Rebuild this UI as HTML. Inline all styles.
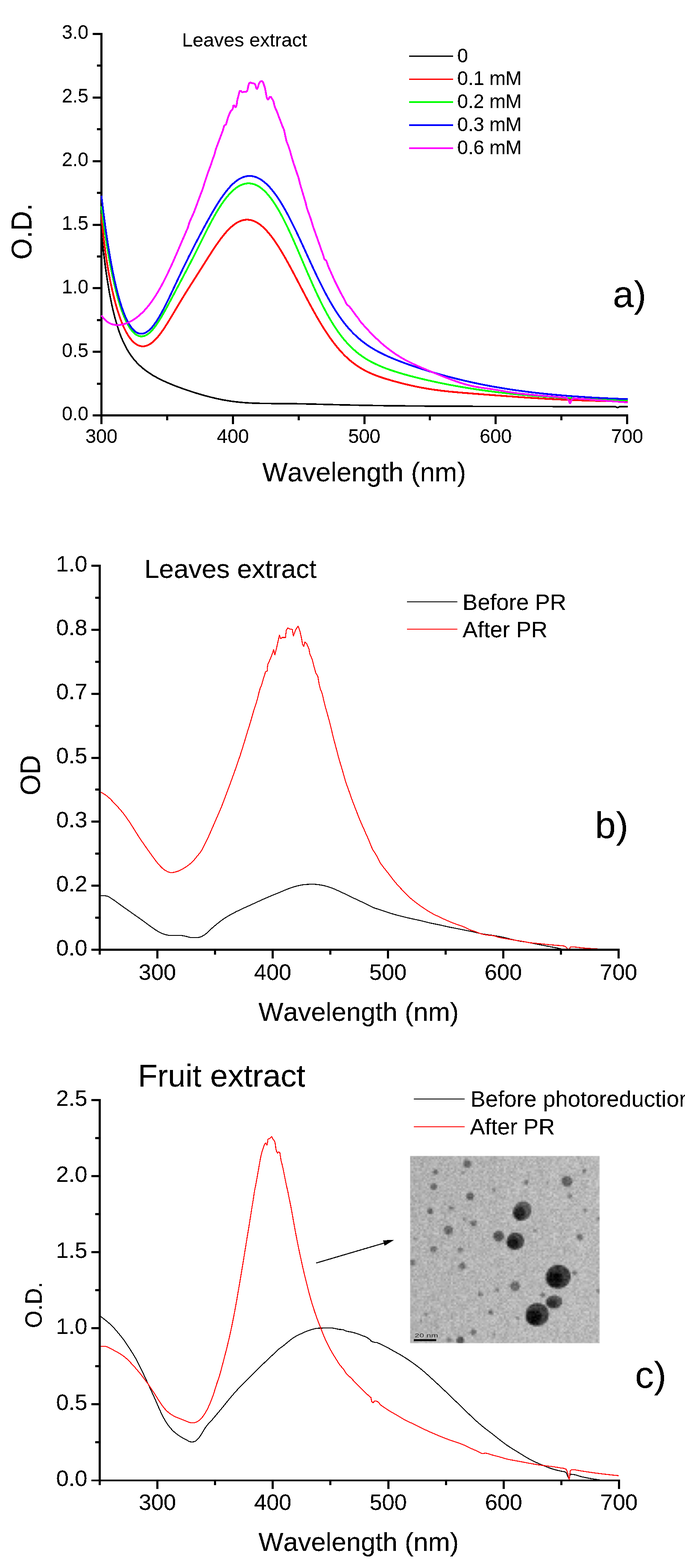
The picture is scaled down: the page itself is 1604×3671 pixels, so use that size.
<!DOCTYPE html>
<html lang="en">
<head>
<meta charset="utf-8">
<title>UV-Vis absorption spectra of silver nanoparticles</title>
<style>
html,body{margin:0;padding:0;background:#fff;}
body{width:1604px;height:3671px;}
svg{display:block;}
text{font-family:"Liberation Sans", Arial, Helvetica, sans-serif;fill:#000;font-kerning:none;font-variant-ligatures:none;}
.lbl{filter:url(#crisp);}
.axes rect{fill:#000;shape-rendering:crispEdges;}
.key{shape-rendering:crispEdges;}
.curves path{fill:none;stroke-linejoin:round;stroke-linecap:butt;shape-rendering:crispEdges;}
</style>
</head>
<body>
<svg width="1604" height="3671" viewBox="0 0 1604 3671">
<defs>
<filter id="crisp" filterUnits="objectBoundingBox" x="-0.05" y="-0.05" width="1.1" height="1.1" color-interpolation-filters="sRGB">
<feComponentTransfer><feFuncA type="discrete" tableValues="0 0 1 1 1"/></feComponentTransfer>
</filter>
</defs>
<rect width="1604" height="3671" fill="#fff"/>
<g id="panel-a">
<g class="axes"><rect x="235.00" y="77.00" width="5" height="898.00"/><rect x="235.00" y="970.00" width="1236.00" height="5"/><rect x="235.00" y="972.50" width="5" height="20.00"/><rect x="542.75" y="972.50" width="5" height="20.00"/><rect x="850.50" y="972.50" width="5" height="20.00"/><rect x="1158.25" y="972.50" width="5" height="20.00"/><rect x="1466.00" y="972.50" width="5" height="20.00"/><rect x="388.88" y="972.50" width="5" height="11.00"/><rect x="696.62" y="972.50" width="5" height="11.00"/><rect x="1004.38" y="972.50" width="5" height="11.00"/><rect x="1312.12" y="972.50" width="5" height="11.00"/><rect x="217.00" y="970.00" width="20.50" height="5.0"/><rect x="217.00" y="821.17" width="20.50" height="5.0"/><rect x="217.00" y="672.33" width="20.50" height="5.0"/><rect x="217.00" y="523.50" width="20.50" height="5.0"/><rect x="217.00" y="374.67" width="20.50" height="5.0"/><rect x="217.00" y="225.83" width="20.50" height="5.0"/><rect x="217.00" y="77.00" width="20.50" height="5.0"/><rect x="226.50" y="895.58" width="11.00" height="5"/><rect x="226.50" y="746.75" width="11.00" height="5"/><rect x="226.50" y="597.92" width="11.00" height="5"/><rect x="226.50" y="449.08" width="11.00" height="5"/><rect x="226.50" y="300.25" width="11.00" height="5"/><rect x="226.50" y="151.42" width="11.00" height="5"/></g>
<g class="curves">
<path d="M237.5,545.0 L239.0,559.5 L240.5,573.4 L242.0,586.6 L243.5,599.2 L245.0,611.2 L246.5,622.6 L248.0,633.5 L249.5,643.9 L251.0,653.9 L252.5,663.3 L254.0,672.4 L255.5,681.0 L257.0,689.3 L258.5,697.1 L260.0,704.7 L261.5,711.9 L263.0,718.8 L264.5,725.3 L266.0,731.6 L267.5,737.7 L269.0,743.4 L270.5,748.9 L272.0,754.2 L273.5,759.3 L275.0,764.1 L276.5,768.8 L277.9,773.2 L279.4,777.5 L280.9,781.6 L282.4,785.6 L283.9,789.4 L285.4,793.0 L286.9,796.5 L288.4,799.8 L289.9,803.1 L291.4,806.2 L292.9,809.2 L294.4,812.1 L295.9,814.9 L297.4,817.5 L298.9,820.1 L300.4,822.6 L301.9,825.0 L303.4,827.3 L304.9,829.6 L306.4,831.8 L307.9,833.9 L309.4,835.9 L310.9,837.9 L312.4,839.8 L313.9,841.6 L315.4,843.4 L316.9,845.1 L318.4,846.8 L319.9,848.5 L321.4,850.0 L322.9,851.6 L324.4,853.1 L325.9,854.5 L327.4,856.0 L328.9,857.3 L330.4,858.7 L331.9,860.0 L333.4,861.3 L334.9,862.5 L336.4,863.8 L337.9,864.9 L339.4,866.1 L340.9,867.2 L342.4,868.4 L343.9,869.4 L345.4,870.5 L346.9,871.5 L348.4,872.6 L349.9,873.6 L351.4,874.5 L352.9,875.5 L354.4,876.4 L355.9,877.4 L357.4,878.3 L358.8,879.2 L360.3,880.1 L361.8,880.9 L363.3,881.8 L364.8,882.6 L366.3,883.4 L367.8,884.2 L369.3,885.0 L370.8,885.8 L372.3,886.6 L373.8,887.3 L375.3,888.1 L376.8,888.8 L378.3,889.6 L379.8,890.3 L381.3,891.0 L382.8,891.7 L384.3,892.4 L385.8,893.1 L387.3,893.8 L388.8,894.4 L390.3,895.1 L391.8,895.8 L393.3,896.4 L394.8,897.1 L396.3,897.7 L397.8,898.3 L399.3,898.9 L400.8,899.6 L402.3,900.2 L403.8,900.8 L405.3,901.4 L406.8,902.0 L408.3,902.6 L409.8,903.2 L411.3,903.7 L412.8,904.3 L414.3,904.9 L415.8,905.5 L417.3,906.0 L418.8,906.6 L420.3,907.1 L421.8,907.7 L423.3,908.2 L424.8,908.8 L426.3,909.3 L427.8,909.8 L429.3,910.4 L430.8,910.9 L432.3,911.4 L433.8,911.9 L435.3,912.5 L436.8,913.0 L438.2,913.5 L439.7,914.0 L441.2,914.5 L442.7,915.0 L444.2,915.5 L445.7,916.0 L447.2,916.5 L448.7,917.0 L450.2,917.4 L451.7,917.9 L453.2,918.4 L454.7,918.9 L456.2,919.3 L457.7,919.8 L459.2,920.3 L460.7,920.7 L462.2,921.2 L463.7,921.6 L465.2,922.1 L466.7,922.5 L468.2,923.0 L469.7,923.4 L471.2,923.9 L472.7,924.3 L474.2,924.7 L475.7,925.1 L477.2,925.6 L478.7,926.0 L480.2,926.4 L481.7,926.8 L483.2,927.2 L484.7,927.6 L486.2,928.0 L487.7,928.4 L489.2,928.8 L490.7,929.2 L492.2,929.5 L493.7,929.9 L495.2,930.3 L496.7,930.7 L498.2,931.0 L499.7,931.4 L501.2,931.7 L502.7,932.1 L504.2,932.4 L505.7,932.8 L507.2,933.1 L508.7,933.4 L510.2,933.7 L511.7,934.1 L513.2,934.4 L514.7,934.7 L516.2,935.0 L517.7,935.3 L519.1,935.6 L520.6,935.9 L522.1,936.2 L523.6,936.4 L525.1,936.7 L526.6,937.0 L528.1,937.2 L529.6,937.5 L531.1,937.7 L532.6,938.0 L534.1,938.2 L535.6,938.5 L537.1,938.7 L538.6,938.9 L540.1,939.2 L541.6,939.4 L543.1,939.6 L544.6,939.8 L546.1,940.0 L547.6,940.2 L549.1,940.4 L550.6,940.5 L552.1,940.7 L553.6,940.9 L555.1,941.1 L556.6,941.2 L558.1,941.4 L559.6,941.5 L561.1,941.7 L562.6,941.8 L564.1,942.0 L565.6,942.1 L567.1,942.2 L568.6,942.4 L570.1,942.5 L571.6,942.6 L573.1,942.7 L574.6,942.8 L576.1,942.9 L577.6,943.0 L579.1,943.1 L580.6,943.2 L582.1,943.3 L583.6,943.4 L585.1,943.5 L586.6,943.5 L588.1,943.6 L589.6,943.7 L591.1,943.7 L592.6,943.8 L594.1,943.9 L595.6,943.9 L597.1,944.0 L598.5,944.0 L600.0,944.1 L601.5,944.1 L603.0,944.2 L604.5,944.2 L606.0,944.2 L607.5,944.3 L609.0,944.3 L610.5,944.3 L612.0,944.4 L613.5,944.4 L615.0,944.4 L616.5,944.4 L618.0,944.5 L619.5,944.5 L621.0,944.5 L622.5,944.5 L624.0,944.6 L625.5,944.6 L627.0,944.6 L628.5,944.6 L630.0,944.6 L631.5,944.6 L633.0,944.6 L634.5,944.7 L636.0,944.7 L637.5,944.7 L639.0,944.7 L640.5,944.7 L642.0,944.7 L643.5,944.7 L645.0,944.7 L646.5,944.7 L648.0,944.7 L649.5,944.8 L651.0,944.8 L652.5,944.8 L654.0,944.8 L655.5,944.8 L657.0,944.8 L658.5,944.8 L660.0,944.8 L661.5,944.8 L663.0,944.8 L664.5,944.9 L666.0,944.9 L667.5,944.9 L669.0,944.9 L670.5,944.9 L672.0,944.9 L673.5,944.9 L675.0,945.0 L676.5,945.0 L678.0,945.0 L679.4,945.0 L680.9,945.0 L682.4,945.1 L683.9,945.1 L685.4,945.1 L686.9,945.1 L688.4,945.1 L689.9,945.2 L691.4,945.2 L692.9,945.2 L694.4,945.2 L695.9,945.3 L697.4,945.3 L698.9,945.3 L700.4,945.3 L701.9,945.4 L703.4,945.4 L704.9,945.4 L706.4,945.4 L707.9,945.5 L709.4,945.5 L710.9,945.5 L712.4,945.6 L713.9,945.6 L715.4,945.6 L716.9,945.7 L718.4,945.7 L719.9,945.7 L721.4,945.8 L722.9,945.8 L724.4,945.8 L725.9,945.9 L727.4,945.9 L728.9,946.0 L730.4,946.0 L731.9,946.0 L733.4,946.1 L734.9,946.1 L736.4,946.1 L737.9,946.2 L739.4,946.2 L740.9,946.3 L742.4,946.3 L743.9,946.3 L745.4,946.4 L746.9,946.4 L748.4,946.4 L749.9,946.5 L751.4,946.5 L752.9,946.6 L754.4,946.6 L755.9,946.6 L757.4,946.7 L758.8,946.7 L760.3,946.8 L761.8,946.8 L763.3,946.8 L764.8,946.9 L766.3,946.9 L767.8,947.0 L769.3,947.0 L770.8,947.0 L772.3,947.1 L773.8,947.1 L775.3,947.2 L776.8,947.2 L778.3,947.2 L779.8,947.3 L781.3,947.3 L782.8,947.4 L784.3,947.4 L785.8,947.4 L787.3,947.5 L788.8,947.5 L790.3,947.6 L791.8,947.6 L793.3,947.6 L794.8,947.7 L796.3,947.7 L797.8,947.7 L799.3,947.8 L800.8,947.8 L802.3,947.8 L803.8,947.9 L805.3,947.9 L806.8,948.0 L808.3,948.0 L809.8,948.0 L811.3,948.1 L812.8,948.1 L814.3,948.1 L815.8,948.2 L817.3,948.2 L818.8,948.2 L820.3,948.3 L821.8,948.3 L823.3,948.3 L824.8,948.4 L826.3,948.4 L827.8,948.4 L829.3,948.5 L830.8,948.5 L832.3,948.5 L833.8,948.6 L835.3,948.6 L836.8,948.6 L838.2,948.6 L839.7,948.7 L841.2,948.7 L842.7,948.7 L844.2,948.8 L845.7,948.8 L847.2,948.8 L848.7,948.8 L850.2,948.9 L851.7,948.9 L853.2,948.9 L854.7,949.0 L856.2,949.0 L857.7,949.0 L859.2,949.0 L860.7,949.1 L862.2,949.1 L863.7,949.1 L865.2,949.1 L866.7,949.2 L868.2,949.2 L869.7,949.2 L871.2,949.2 L872.7,949.3 L874.2,949.3 L875.7,949.3 L877.2,949.3 L878.7,949.4 L880.2,949.4 L881.7,949.4 L883.2,949.4 L884.7,949.5 L886.2,949.5 L887.7,949.5 L889.2,949.5 L890.7,949.5 L892.2,949.6 L893.7,949.6 L895.2,949.6 L896.7,949.6 L898.2,949.7 L899.7,949.7 L901.2,949.7 L902.7,949.7 L904.2,949.7 L905.7,949.8 L907.2,949.8 L908.7,949.8 L910.2,949.8 L911.7,949.8 L913.2,949.9 L914.7,949.9 L916.2,949.9 L917.7,949.9 L919.1,949.9 L920.6,949.9 L922.1,950.0 L923.6,950.0 L925.1,950.0 L926.6,950.0 L928.1,950.0 L929.6,950.1 L931.1,950.1 L932.6,950.1 L934.1,950.1 L935.6,950.1 L937.1,950.1 L938.6,950.2 L940.1,950.2 L941.6,950.2 L943.1,950.2 L944.6,950.2 L946.1,950.2 L947.6,950.2 L949.1,950.3 L950.6,950.3 L952.1,950.3 L953.6,950.3 L955.1,950.3 L956.6,950.3 L958.1,950.3 L959.6,950.4 L961.1,950.4 L962.6,950.4 L964.1,950.4 L965.6,950.4 L967.1,950.4 L968.6,950.4 L970.1,950.5 L971.6,950.5 L973.1,950.5 L974.6,950.5 L976.1,950.5 L977.6,950.5 L979.1,950.5 L980.6,950.5 L982.1,950.6 L983.6,950.6 L985.1,950.6 L986.6,950.6 L988.1,950.6 L989.6,950.6 L991.1,950.6 L992.6,950.6 L994.1,950.7 L995.6,950.7 L997.1,950.7 L998.5,950.7 L1000.0,950.7 L1001.5,950.7 L1003.0,950.7 L1004.5,950.7 L1006.0,950.7 L1007.5,950.7 L1009.0,950.8 L1010.5,950.8 L1012.0,950.8 L1013.5,950.8 L1015.0,950.8 L1016.5,950.8 L1018.0,950.8 L1019.5,950.8 L1021.0,950.8 L1022.5,950.8 L1024.0,950.9 L1025.5,950.9 L1027.0,950.9 L1028.5,950.9 L1030.0,950.9 L1031.5,950.9 L1033.0,950.9 L1034.5,950.9 L1036.0,950.9 L1037.5,950.9 L1039.0,950.9 L1040.5,951.0 L1042.0,951.0 L1043.5,951.0 L1045.0,951.0 L1046.5,951.0 L1048.0,951.0 L1049.5,951.0 L1051.0,951.0 L1052.5,951.0 L1054.0,951.0 L1055.5,951.0 L1057.0,951.0 L1058.5,951.0 L1060.0,951.1 L1061.5,951.1 L1063.0,951.1 L1064.5,951.1 L1066.0,951.1 L1067.5,951.1 L1069.0,951.1 L1070.5,951.1 L1072.0,951.1 L1073.5,951.1 L1075.0,951.1 L1076.5,951.1 L1078.0,951.1 L1079.4,951.1 L1080.9,951.2 L1082.4,951.2 L1083.9,951.2 L1085.4,951.2 L1086.9,951.2 L1088.4,951.2 L1089.9,951.2 L1091.4,951.2 L1092.9,951.2 L1094.4,951.2 L1095.9,951.2 L1097.4,951.2 L1098.9,951.2 L1100.4,951.2 L1101.9,951.2 L1103.4,951.2 L1104.9,951.2 L1106.4,951.3 L1107.9,951.3 L1109.4,951.3 L1110.9,951.3 L1112.4,951.3 L1113.9,951.3 L1115.4,951.3 L1116.9,951.3 L1118.4,951.3 L1119.9,951.3 L1121.4,951.3 L1122.9,951.3 L1124.4,951.3 L1125.9,951.3 L1127.4,951.3 L1128.9,951.3 L1130.4,951.3 L1131.9,951.3 L1133.4,951.3 L1134.9,951.3 L1136.4,951.4 L1137.9,951.4 L1139.4,951.4 L1140.9,951.4 L1142.4,951.4 L1143.9,951.4 L1145.4,951.4 L1146.9,951.4 L1148.4,951.4 L1149.9,951.4 L1151.4,951.4 L1152.9,951.4 L1154.4,951.4 L1155.9,951.4 L1157.4,951.4 L1158.8,951.4 L1160.3,951.4 L1161.8,951.4 L1163.3,951.4 L1164.8,951.4 L1166.3,951.4 L1167.8,951.4 L1169.3,951.4 L1170.8,951.4 L1172.3,951.4 L1173.8,951.5 L1175.3,951.5 L1176.8,951.5 L1178.3,951.5 L1179.8,951.5 L1181.3,951.5 L1182.8,951.5 L1184.3,951.5 L1185.8,951.5 L1187.3,951.5 L1188.8,951.5 L1190.3,951.5 L1191.8,951.5 L1193.3,951.5 L1194.8,951.5 L1196.3,951.5 L1197.8,951.5 L1199.3,951.5 L1200.8,951.5 L1202.3,951.5 L1203.8,951.5 L1205.3,951.5 L1206.8,951.5 L1208.3,951.5 L1209.8,951.5 L1211.3,951.5 L1212.8,951.5 L1214.3,951.5 L1215.8,951.5 L1217.3,951.5 L1218.8,951.5 L1220.3,951.5 L1221.8,951.6 L1223.3,951.6 L1224.8,951.6 L1226.3,951.6 L1227.8,951.6 L1229.3,951.6 L1230.8,951.6 L1232.3,951.6 L1233.8,951.6 L1235.3,951.6 L1236.8,951.6 L1238.3,951.6 L1239.7,951.6 L1241.2,951.6 L1242.7,951.6 L1244.2,951.6 L1245.7,951.6 L1247.2,951.6 L1248.7,951.6 L1250.2,951.6 L1251.7,951.6 L1253.2,951.6 L1254.7,951.6 L1256.2,951.6 L1257.7,951.6 L1259.2,951.6 L1260.7,951.6 L1262.2,951.6 L1263.7,951.6 L1265.2,951.6 L1266.7,951.6 L1268.2,951.6 L1269.7,951.6 L1271.2,951.6 L1272.7,951.6 L1274.2,951.6 L1275.7,951.6 L1277.2,951.6 L1278.7,951.6 L1280.2,951.6 L1281.7,951.6 L1283.2,951.6 L1284.7,951.6 L1286.2,951.6 L1287.7,951.6 L1289.2,951.6 L1290.7,951.6 L1292.2,951.6 L1293.7,951.7 L1295.2,951.7 L1296.7,951.7 L1298.2,951.7 L1299.7,951.7 L1301.2,951.7 L1302.7,951.7 L1304.2,951.7 L1305.7,951.7 L1307.2,951.7 L1308.7,951.7 L1310.2,951.7 L1311.7,951.7 L1313.2,951.7 L1314.7,951.7 L1316.2,951.7 L1317.7,951.7 L1319.1,951.7 L1320.6,951.7 L1322.1,951.7 L1323.6,951.7 L1325.1,951.7 L1326.6,951.7 L1328.1,951.7 L1329.6,951.7 L1331.1,951.7 L1332.6,951.7 L1334.1,951.7 L1335.6,951.7 L1337.1,951.7 L1338.6,951.7 L1340.1,951.7 L1341.6,951.7 L1343.1,951.7 L1344.6,951.7 L1346.1,951.7 L1347.6,951.7 L1349.1,951.7 L1350.6,951.7 L1352.1,951.7 L1353.6,951.7 L1355.1,951.7 L1356.6,951.7 L1358.1,951.7 L1359.6,951.7 L1361.1,951.7 L1362.6,951.7 L1364.1,951.7 L1365.6,951.7 L1367.1,951.7 L1368.6,951.7 L1370.1,951.7 L1371.6,951.7 L1373.1,951.7 L1374.6,951.7 L1376.1,951.7 L1377.6,951.7 L1379.1,951.7 L1380.6,951.7 L1382.1,951.7 L1383.6,951.7 L1385.1,951.7 L1386.6,951.7 L1388.1,951.7 L1389.6,951.7 L1391.1,951.7 L1392.6,951.7 L1394.1,951.7 L1395.6,951.7 L1397.1,951.7 L1398.6,951.7 L1400.0,951.7 L1401.5,951.7 L1403.0,951.7 L1404.5,951.7 L1406.0,951.7 L1407.5,951.7 L1409.0,951.7 L1410.5,951.7 L1412.0,951.7 L1413.5,951.7 L1415.0,951.7 L1416.5,951.7 L1418.0,951.7 L1419.5,951.7 L1421.0,951.7 L1422.5,951.7 L1424.0,951.7 L1425.5,951.7 L1427.0,951.7 L1428.5,951.7 L1430.0,951.7 L1431.5,951.8 L1433.0,951.8 L1434.5,951.8 L1436.0,951.8 L1437.5,951.8 L1439.0,951.8 L1439.7,951.8 L1440.0,951.8 L1440.4,951.9 L1441.1,952.0 L1441.8,952.3 L1442.5,952.7 L1443.2,953.1 L1443.9,953.4 L1444.6,953.7 L1445.3,953.9 L1446.0,954.0 L1446.7,953.9 L1447.4,953.7 L1448.1,953.4 L1448.8,953.1 L1449.5,952.7 L1450.2,952.3 L1450.9,952.0 L1451.6,951.8 L1452.0,951.8 L1452.3,951.8 L1453.0,951.8 L1453.0,951.8 L1454.4,951.8 L1455.8,951.8 L1457.2,951.8 L1458.7,951.8 L1460.1,951.8 L1461.5,951.8 L1462.9,951.8 L1464.3,951.8 L1465.8,951.8 L1467.2,951.8 L1468.6,951.8 L1470.0,951.8" stroke="#000" stroke-width="3.6"/>
<path d="M237.5,501.0 L239.0,519.2 L240.5,535.5 L242.0,550.2 L243.5,563.6 L245.0,576.0 L246.5,587.5 L248.0,598.2 L249.5,608.3 L251.0,617.9 L252.5,627.0 L254.0,635.6 L255.5,643.8 L257.0,651.7 L258.5,659.3 L260.0,666.6 L261.5,673.6 L263.0,680.3 L264.5,686.8 L266.0,693.0 L267.5,699.0 L269.0,704.8 L270.5,710.4 L272.0,715.8 L273.5,720.9 L275.0,725.9 L276.5,730.7 L278.0,735.3 L279.5,739.8 L281.0,744.1 L282.5,748.2 L284.0,752.1 L285.5,755.9 L287.0,759.6 L288.5,763.0 L290.0,766.4 L291.5,769.6 L293.0,772.6 L294.5,775.5 L296.0,778.3 L297.5,781.0 L299.0,783.5 L300.5,785.9 L302.0,788.2 L303.5,790.3 L305.0,792.4 L306.5,794.3 L308.0,796.1 L309.5,797.8 L311.0,799.3 L312.5,800.8 L314.0,802.2 L315.5,803.4 L317.0,804.6 L318.5,805.6 L320.0,806.6 L321.5,807.4 L323.0,808.2 L324.5,808.9 L326.0,809.4 L327.5,809.9 L329.0,810.3 L330.5,810.5 L332.0,810.7 L333.5,810.8 L335.0,810.8 L336.5,810.8 L338.0,810.6 L339.5,810.3 L341.0,810.0 L342.5,809.6 L344.0,809.1 L345.5,808.5 L347.0,807.8 L348.5,807.1 L350.0,806.3 L351.5,805.3 L353.0,804.4 L354.5,803.3 L356.0,802.2 L357.5,801.0 L359.0,799.7 L360.5,798.3 L361.9,796.9 L363.4,795.4 L364.9,793.9 L366.4,792.3 L367.9,790.6 L369.4,788.8 L370.9,787.0 L372.4,785.2 L373.9,783.3 L375.4,781.3 L376.9,779.3 L378.4,777.2 L379.9,775.1 L381.4,773.0 L382.9,770.8 L384.4,768.5 L385.9,766.3 L387.4,763.9 L388.9,761.6 L390.4,759.2 L391.9,756.9 L393.4,754.4 L394.9,752.0 L396.4,749.5 L397.9,747.1 L399.4,744.6 L400.9,742.1 L402.4,739.6 L403.9,737.0 L405.4,734.5 L406.9,732.0 L408.4,729.5 L409.9,726.9 L411.4,724.4 L412.9,721.9 L414.4,719.3 L415.9,716.8 L417.4,714.3 L418.9,711.8 L420.4,709.3 L421.9,706.8 L423.4,704.3 L424.9,701.8 L426.4,699.4 L427.9,696.9 L429.4,694.5 L430.9,692.0 L432.4,689.6 L433.9,687.2 L435.4,684.8 L436.9,682.4 L438.4,680.0 L439.9,677.6 L441.4,675.2 L442.9,672.8 L444.4,670.5 L445.9,668.1 L447.4,665.8 L448.9,663.4 L450.4,661.1 L451.9,658.7 L453.4,656.4 L454.9,654.0 L456.4,651.7 L457.9,649.3 L459.4,647.0 L460.9,644.6 L462.4,642.3 L463.9,639.9 L465.4,637.6 L466.9,635.2 L468.4,632.8 L469.9,630.5 L471.4,628.1 L472.9,625.7 L474.4,623.4 L475.9,621.0 L477.4,618.6 L478.9,616.3 L480.4,613.9 L481.9,611.5 L483.4,609.2 L484.9,606.8 L486.4,604.4 L487.9,602.1 L489.4,599.7 L490.9,597.4 L492.4,595.0 L493.9,592.7 L495.4,590.4 L496.9,588.1 L498.4,585.8 L499.9,583.5 L501.4,581.3 L502.9,579.0 L504.4,576.8 L505.9,574.6 L507.4,572.4 L508.9,570.3 L510.4,568.1 L511.9,566.0 L513.4,563.9 L514.9,561.9 L516.4,559.8 L517.9,557.8 L519.4,555.9 L520.9,554.0 L522.4,552.1 L523.9,550.2 L525.4,548.4 L526.9,546.6 L528.4,544.8 L529.9,543.1 L531.4,541.5 L532.9,539.8 L534.4,538.3 L535.9,536.7 L537.4,535.2 L538.9,533.8 L540.4,532.4 L541.9,531.0 L543.4,529.7 L544.9,528.5 L546.4,527.3 L547.9,526.1 L549.4,525.0 L550.9,524.0 L552.4,523.0 L553.9,522.0 L555.4,521.1 L556.9,520.3 L558.4,519.5 L559.9,518.8 L561.4,518.1 L562.9,517.5 L564.4,516.9 L565.9,516.4 L567.4,515.9 L568.9,515.5 L570.4,515.2 L571.9,514.9 L573.4,514.7 L574.9,514.5 L576.4,514.4 L577.9,514.3 L579.4,514.3 L580.9,514.4 L582.4,514.5 L583.9,514.7 L585.4,514.9 L586.9,515.2 L588.4,515.5 L589.9,516.0 L591.4,516.4 L592.9,516.9 L594.4,517.5 L595.9,518.1 L597.4,518.8 L598.9,519.5 L600.4,520.3 L601.9,521.2 L603.4,522.1 L604.9,523.0 L606.4,524.0 L607.8,525.1 L609.3,526.2 L610.8,527.4 L612.3,528.6 L613.8,529.8 L615.3,531.2 L616.8,532.5 L618.3,534.0 L619.8,535.4 L621.3,536.9 L622.8,538.5 L624.3,540.1 L625.8,541.8 L627.3,543.5 L628.8,545.2 L630.3,547.0 L631.8,548.8 L633.3,550.7 L634.8,552.6 L636.3,554.6 L637.8,556.6 L639.3,558.6 L640.8,560.7 L642.3,562.8 L643.8,565.0 L645.3,567.1 L646.8,569.4 L648.3,571.6 L649.8,573.9 L651.3,576.2 L652.8,578.6 L654.3,581.0 L655.8,583.4 L657.3,585.9 L658.8,588.3 L660.3,590.8 L661.8,593.4 L663.3,595.9 L664.8,598.5 L666.3,601.1 L667.8,603.7 L669.3,606.4 L670.8,609.0 L672.3,611.7 L673.8,614.4 L675.3,617.1 L676.8,619.9 L678.3,622.6 L679.8,625.4 L681.3,628.2 L682.8,631.0 L684.3,633.8 L685.8,636.6 L687.3,639.4 L688.8,642.3 L690.3,645.1 L691.8,648.0 L693.3,650.8 L694.8,653.7 L696.3,656.6 L697.8,659.5 L699.3,662.3 L700.8,665.2 L702.3,668.1 L703.8,671.0 L705.3,673.9 L706.8,676.7 L708.3,679.6 L709.8,682.5 L711.3,685.3 L712.8,688.2 L714.3,691.1 L715.8,693.9 L717.3,696.8 L718.8,699.6 L720.3,702.4 L721.8,705.2 L723.3,708.0 L724.8,710.8 L726.3,713.6 L727.8,716.4 L729.3,719.2 L730.8,721.9 L732.3,724.6 L733.8,727.3 L735.3,730.0 L736.8,732.7 L738.3,735.4 L739.8,738.0 L741.3,740.7 L742.8,743.3 L744.3,745.9 L745.8,748.4 L747.3,751.0 L748.8,753.5 L750.3,756.0 L751.8,758.5 L753.3,761.0 L754.8,763.4 L756.3,765.8 L757.8,768.2 L759.3,770.6 L760.8,772.9 L762.3,775.2 L763.8,777.5 L765.3,779.8 L766.8,782.1 L768.3,784.3 L769.8,786.5 L771.3,788.6 L772.8,790.8 L774.3,792.9 L775.8,795.0 L777.3,797.0 L778.8,799.1 L780.3,801.1 L781.8,803.0 L783.3,805.0 L784.8,806.9 L786.3,808.8 L787.8,810.7 L789.3,812.5 L790.8,814.3 L792.3,816.1 L793.8,817.8 L795.3,819.6 L796.8,821.3 L798.3,822.9 L799.8,824.6 L801.3,826.2 L802.8,827.8 L804.3,829.3 L805.8,830.9 L807.3,832.4 L808.8,833.9 L810.3,835.3 L811.8,836.7 L813.3,838.1 L814.8,839.5 L816.3,840.9 L817.8,842.2 L819.3,843.5 L820.8,844.7 L822.3,846.0 L823.8,847.2 L825.3,848.4 L826.8,849.6 L828.3,850.7 L829.8,851.8 L831.3,853.0 L832.8,854.0 L834.3,855.1 L835.8,856.1 L837.3,857.1 L838.8,858.1 L840.3,859.1 L841.8,860.1 L843.3,861.0 L844.8,861.9 L846.3,862.8 L847.8,863.7 L849.3,864.5 L850.8,865.4 L852.3,866.2 L853.8,867.0 L855.2,867.8 L856.7,868.6 L858.2,869.3 L859.7,870.1 L861.2,870.8 L862.7,871.5 L864.2,872.2 L865.7,872.9 L867.2,873.6 L868.7,874.3 L870.2,874.9 L871.7,875.5 L873.2,876.2 L874.7,876.8 L876.2,877.4 L877.7,878.0 L879.2,878.6 L880.7,879.1 L882.2,879.7 L883.7,880.3 L885.2,880.8 L886.7,881.4 L888.2,881.9 L889.7,882.4 L891.2,882.9 L892.7,883.4 L894.2,883.9 L895.7,884.4 L897.2,884.9 L898.7,885.4 L900.2,885.9 L901.7,886.4 L903.2,886.8 L904.7,887.3 L906.2,887.7 L907.7,888.2 L909.2,888.6 L910.7,889.1 L912.2,889.5 L913.7,890.0 L915.2,890.4 L916.7,890.8 L918.2,891.3 L919.7,891.7 L921.2,892.1 L922.7,892.5 L924.2,892.9 L925.7,893.3 L927.2,893.7 L928.7,894.1 L930.2,894.5 L931.7,894.9 L933.2,895.3 L934.7,895.7 L936.2,896.1 L937.7,896.5 L939.2,896.9 L940.7,897.3 L942.2,897.6 L943.7,898.0 L945.2,898.4 L946.7,898.8 L948.2,899.1 L949.7,899.5 L951.2,899.8 L952.7,900.2 L954.2,900.6 L955.7,900.9 L957.2,901.3 L958.7,901.6 L960.2,901.9 L961.7,902.3 L963.2,902.6 L964.7,903.0 L966.2,903.3 L967.7,903.6 L969.2,903.9 L970.7,904.3 L972.2,904.6 L973.7,904.9 L975.2,905.2 L976.7,905.5 L978.2,905.8 L979.7,906.1 L981.2,906.4 L982.7,906.7 L984.2,907.0 L985.7,907.3 L987.2,907.6 L988.7,907.9 L990.2,908.1 L991.7,908.4 L993.2,908.7 L994.7,908.9 L996.2,909.2 L997.7,909.5 L999.2,909.7 L1000.7,910.0 L1002.2,910.2 L1003.7,910.5 L1005.2,910.7 L1006.7,910.9 L1008.2,911.2 L1009.7,911.4 L1011.2,911.6 L1012.7,911.9 L1014.2,912.1 L1015.7,912.3 L1017.2,912.5 L1018.7,912.7 L1020.2,912.9 L1021.7,913.1 L1023.2,913.3 L1024.7,913.5 L1026.2,913.7 L1027.7,913.9 L1029.2,914.1 L1030.7,914.3 L1032.2,914.5 L1033.7,914.7 L1035.2,914.8 L1036.7,915.0 L1038.2,915.2 L1039.7,915.4 L1041.2,915.5 L1042.7,915.7 L1044.2,915.9 L1045.7,916.0 L1047.2,916.2 L1048.7,916.3 L1050.2,916.5 L1051.7,916.7 L1053.2,916.8 L1054.7,917.0 L1056.2,917.1 L1057.7,917.3 L1059.2,917.4 L1060.7,917.5 L1062.2,917.7 L1063.7,917.8 L1065.2,918.0 L1066.7,918.1 L1068.2,918.2 L1069.7,918.4 L1071.2,918.5 L1072.7,918.6 L1074.2,918.8 L1075.7,918.9 L1077.2,919.0 L1078.7,919.2 L1080.2,919.3 L1081.7,919.4 L1083.2,919.5 L1084.7,919.7 L1086.2,919.8 L1087.7,919.9 L1089.2,920.0 L1090.7,920.2 L1092.2,920.3 L1093.7,920.4 L1095.2,920.5 L1096.7,920.6 L1098.2,920.8 L1099.7,920.9 L1101.1,921.0 L1102.6,921.1 L1104.1,921.2 L1105.6,921.4 L1107.1,921.5 L1108.6,921.6 L1110.1,921.7 L1111.6,921.8 L1113.1,922.0 L1114.6,922.1 L1116.1,922.2 L1117.6,922.3 L1119.1,922.4 L1120.6,922.5 L1122.1,922.6 L1123.6,922.8 L1125.1,922.9 L1126.6,923.0 L1128.1,923.1 L1129.6,923.2 L1131.1,923.3 L1132.6,923.5 L1134.1,923.6 L1135.6,923.7 L1137.1,923.8 L1138.6,923.9 L1140.1,924.0 L1141.6,924.1 L1143.1,924.3 L1144.6,924.4 L1146.1,924.5 L1147.6,924.6 L1149.1,924.7 L1150.6,924.8 L1152.1,924.9 L1153.6,925.1 L1155.1,925.2 L1156.6,925.3 L1158.1,925.4 L1159.6,925.5 L1161.1,925.6 L1162.6,925.7 L1164.1,925.8 L1165.6,926.0 L1167.1,926.1 L1168.6,926.2 L1170.1,926.3 L1171.6,926.4 L1173.1,926.5 L1174.6,926.6 L1176.1,926.7 L1177.6,926.9 L1179.1,927.0 L1180.6,927.1 L1182.1,927.2 L1183.6,927.3 L1185.1,927.4 L1186.6,927.5 L1188.1,927.6 L1189.6,927.7 L1191.1,927.9 L1192.6,928.0 L1194.1,928.1 L1195.6,928.2 L1197.1,928.3 L1198.6,928.4 L1200.1,928.5 L1201.6,928.6 L1203.1,928.7 L1204.6,928.8 L1206.1,928.9 L1207.6,929.0 L1209.1,929.2 L1210.6,929.3 L1212.1,929.4 L1213.6,929.5 L1215.1,929.6 L1216.6,929.7 L1218.1,929.8 L1219.6,929.9 L1221.1,930.0 L1222.6,930.1 L1224.1,930.2 L1225.6,930.3 L1227.1,930.4 L1228.6,930.5 L1230.1,930.6 L1231.6,930.7 L1233.1,930.8 L1234.6,930.9 L1236.1,931.0 L1237.6,931.1 L1239.1,931.2 L1240.6,931.3 L1242.1,931.4 L1243.6,931.5 L1245.1,931.6 L1246.6,931.7 L1248.1,931.8 L1249.6,931.9 L1251.1,932.0 L1252.6,932.1 L1254.1,932.1 L1255.6,932.2 L1257.1,932.3 L1258.6,932.4 L1260.1,932.5 L1261.6,932.6 L1263.1,932.7 L1264.6,932.8 L1266.1,932.9 L1267.6,933.0 L1269.1,933.1 L1270.6,933.1 L1272.1,933.2 L1273.6,933.3 L1275.1,933.4 L1276.6,933.5 L1278.1,933.6 L1279.6,933.7 L1281.1,933.7 L1282.6,933.8 L1284.1,933.9 L1285.6,934.0 L1287.1,934.1 L1288.6,934.1 L1290.1,934.2 L1291.6,934.3 L1293.1,934.4 L1294.6,934.5 L1296.1,934.5 L1297.6,934.6 L1299.1,934.7 L1300.6,934.8 L1302.1,934.8 L1303.6,934.9 L1305.1,935.0 L1306.6,935.1 L1308.1,935.1 L1309.6,935.2 L1311.1,935.3 L1312.6,935.4 L1314.1,935.4 L1315.6,935.5 L1317.1,935.6 L1318.6,935.6 L1320.1,935.7 L1321.6,935.8 L1323.1,935.8 L1324.6,935.9 L1326.1,936.0 L1327.6,936.0 L1329.1,936.1 L1330.6,936.2 L1332.1,936.2 L1333.6,936.3 L1335.1,936.4 L1336.6,936.4 L1338.1,936.5 L1339.6,936.5 L1341.1,936.6 L1342.6,936.7 L1344.1,936.7 L1345.6,936.8 L1347.0,936.8 L1348.5,936.9 L1350.0,936.9 L1351.5,937.0 L1353.0,937.1 L1354.5,937.1 L1356.0,937.2 L1357.5,937.2 L1359.0,937.3 L1360.5,937.3 L1362.0,937.4 L1363.5,937.4 L1365.0,937.5 L1366.5,937.5 L1368.0,937.6 L1369.5,937.6 L1371.0,937.7 L1372.5,937.7 L1374.0,937.8 L1375.5,937.8 L1377.0,937.9 L1378.5,937.9 L1380.0,938.0 L1381.5,938.0 L1383.0,938.1 L1384.5,938.1 L1386.0,938.1 L1387.5,938.2 L1389.0,938.2 L1390.5,938.3 L1392.0,938.3 L1393.5,938.4 L1395.0,938.4 L1396.5,938.4 L1398.0,938.5 L1399.5,938.5 L1401.0,938.6 L1402.5,938.6 L1404.0,938.6 L1405.5,938.7 L1407.0,938.7 L1408.5,938.7 L1410.0,938.8 L1411.5,938.8 L1413.0,938.8 L1414.5,938.9 L1416.0,938.9 L1417.5,939.0 L1419.0,939.0 L1420.5,939.0 L1422.0,939.1 L1423.5,939.1 L1425.0,939.1 L1426.5,939.1 L1428.0,939.2 L1429.5,939.2 L1431.0,939.2 L1432.5,939.3 L1434.0,939.3 L1435.5,939.3 L1437.0,939.4 L1438.5,939.4 L1440.0,939.4 L1441.5,939.4 L1443.0,939.5 L1444.5,939.5 L1446.0,939.5 L1447.5,939.5 L1449.0,939.6 L1450.5,939.6 L1452.0,939.6 L1453.5,939.6 L1455.0,939.7 L1456.5,939.7 L1458.0,939.7 L1459.5,939.7 L1461.0,939.8 L1462.5,939.8 L1464.0,939.8 L1465.5,939.8 L1467.0,939.9 L1468.5,939.9 L1470.0,939.9" stroke="#f00" stroke-width="4.2"/>
<path d="M237.5,483.0 L239.0,494.8 L240.5,506.3 L242.0,517.4 L243.5,528.3 L245.0,538.8 L246.5,549.1 L248.0,559.0 L249.5,568.7 L251.0,578.1 L252.5,587.2 L254.0,596.0 L255.5,604.5 L257.0,612.8 L258.5,620.9 L260.0,628.7 L261.5,636.2 L263.0,643.6 L264.5,650.7 L266.0,657.5 L267.5,664.1 L269.0,670.6 L270.5,676.8 L272.0,682.8 L273.5,688.5 L275.0,694.1 L276.5,699.5 L278.0,704.7 L279.5,709.7 L281.0,714.5 L282.5,719.2 L284.0,723.6 L285.5,727.9 L287.0,732.0 L288.5,736.0 L290.0,739.8 L291.5,743.4 L293.0,746.8 L294.5,750.1 L296.0,753.3 L297.5,756.3 L299.0,759.1 L300.5,761.8 L302.0,764.4 L303.5,766.8 L305.0,769.0 L306.5,771.2 L308.0,773.1 L309.5,775.0 L311.0,776.7 L312.5,778.3 L314.0,779.8 L315.5,781.1 L317.0,782.3 L318.5,783.4 L320.0,784.3 L321.5,785.1 L323.0,785.8 L324.5,786.4 L326.0,786.9 L327.5,787.2 L329.0,787.5 L330.5,787.6 L332.0,787.6 L333.5,787.5 L335.0,787.3 L336.5,786.9 L338.0,786.5 L339.5,786.0 L341.0,785.3 L342.5,784.6 L344.0,783.7 L345.5,782.8 L347.0,781.7 L348.5,780.6 L350.0,779.3 L351.5,778.0 L353.0,776.6 L354.5,775.1 L356.0,773.5 L357.5,771.8 L359.0,770.0 L360.5,768.2 L361.9,766.3 L363.4,764.3 L364.9,762.3 L366.4,760.2 L367.9,758.0 L369.4,755.8 L370.9,753.5 L372.4,751.1 L373.9,748.7 L375.4,746.3 L376.9,743.8 L378.4,741.3 L379.9,738.7 L381.4,736.1 L382.9,733.5 L384.4,730.8 L385.9,728.2 L387.4,725.4 L388.9,722.7 L390.4,720.0 L391.9,717.2 L393.4,714.4 L394.9,711.6 L396.4,708.8 L397.9,706.0 L399.4,703.2 L400.9,700.4 L402.4,697.5 L403.9,694.7 L405.4,691.9 L406.9,689.1 L408.4,686.2 L409.9,683.4 L411.4,680.6 L412.9,677.7 L414.4,674.9 L415.9,672.1 L417.4,669.3 L418.9,666.5 L420.4,663.6 L421.9,660.8 L423.4,658.0 L424.9,655.2 L426.4,652.3 L427.9,649.5 L429.4,646.7 L430.9,643.9 L432.4,641.0 L433.9,638.2 L435.4,635.3 L436.9,632.5 L438.4,629.6 L439.9,626.8 L441.4,623.9 L442.9,621.0 L444.4,618.1 L445.9,615.2 L447.4,612.3 L448.9,609.4 L450.4,606.5 L451.9,603.5 L453.4,600.6 L454.9,597.6 L456.4,594.7 L457.9,591.7 L459.4,588.7 L460.9,585.7 L462.4,582.7 L463.9,579.7 L465.4,576.7 L466.9,573.7 L468.4,570.7 L469.9,567.7 L471.4,564.7 L472.9,561.7 L474.4,558.7 L475.9,555.7 L477.4,552.7 L478.9,549.7 L480.4,546.7 L481.9,543.8 L483.4,540.8 L484.9,537.9 L486.4,535.0 L487.9,532.0 L489.4,529.2 L490.9,526.3 L492.4,523.4 L493.9,520.6 L495.4,517.8 L496.9,515.0 L498.4,512.3 L499.9,509.6 L501.4,506.9 L502.9,504.2 L504.4,501.6 L505.9,499.0 L507.4,496.4 L508.9,493.9 L510.4,491.4 L511.9,489.0 L513.4,486.6 L514.9,484.2 L516.4,481.9 L517.9,479.6 L519.4,477.4 L520.9,475.2 L522.4,473.0 L523.9,470.9 L525.4,468.9 L526.9,466.9 L528.4,464.9 L529.9,463.0 L531.4,461.1 L532.9,459.3 L534.4,457.6 L535.9,455.8 L537.4,454.2 L538.9,452.6 L540.4,451.0 L541.9,449.5 L543.4,448.0 L544.9,446.6 L546.4,445.3 L547.9,444.0 L549.4,442.7 L550.9,441.6 L552.4,440.4 L553.9,439.3 L555.4,438.3 L556.9,437.3 L558.4,436.4 L559.9,435.5 L561.4,434.7 L562.9,434.0 L564.4,433.3 L565.9,432.6 L567.4,432.1 L568.9,431.5 L570.4,431.1 L571.9,430.6 L573.4,430.3 L574.9,430.0 L576.4,429.7 L577.9,429.5 L579.4,429.4 L580.9,429.3 L582.4,429.3 L583.9,429.3 L585.4,429.4 L586.9,429.6 L588.4,429.8 L589.9,430.1 L591.4,430.4 L592.9,430.8 L594.4,431.2 L595.9,431.7 L597.4,432.3 L598.9,432.9 L600.4,433.6 L601.9,434.3 L603.4,435.1 L604.9,435.9 L606.4,436.8 L607.8,437.8 L609.3,438.8 L610.8,439.9 L612.3,441.0 L613.8,442.2 L615.3,443.5 L616.8,444.8 L618.3,446.2 L619.8,447.6 L621.3,449.1 L622.8,450.6 L624.3,452.2 L625.8,453.9 L627.3,455.6 L628.8,457.3 L630.3,459.2 L631.8,461.0 L633.3,463.0 L634.8,464.9 L636.3,467.0 L637.8,469.1 L639.3,471.2 L640.8,473.4 L642.3,475.7 L643.8,477.9 L645.3,480.3 L646.8,482.7 L648.3,485.1 L649.8,487.6 L651.3,490.2 L652.8,492.7 L654.3,495.4 L655.8,498.0 L657.3,500.8 L658.8,503.5 L660.3,506.3 L661.8,509.2 L663.3,512.0 L664.8,515.0 L666.3,517.9 L667.8,520.9 L669.3,524.0 L670.8,527.0 L672.3,530.1 L673.8,533.3 L675.3,536.4 L676.8,539.6 L678.3,542.8 L679.8,546.1 L681.3,549.3 L682.8,552.6 L684.3,556.0 L685.8,559.3 L687.3,562.7 L688.8,566.0 L690.3,569.4 L691.8,572.9 L693.3,576.3 L694.8,579.7 L696.3,583.2 L697.8,586.7 L699.3,590.1 L700.8,593.6 L702.3,597.1 L703.8,600.6 L705.3,604.1 L706.8,607.6 L708.3,611.1 L709.8,614.6 L711.3,618.1 L712.8,621.6 L714.3,625.1 L715.8,628.6 L717.3,632.1 L718.8,635.6 L720.3,639.1 L721.8,642.5 L723.3,646.0 L724.8,649.4 L726.3,652.8 L727.8,656.2 L729.3,659.6 L730.8,663.0 L732.3,666.4 L733.8,669.7 L735.3,673.0 L736.8,676.3 L738.3,679.6 L739.8,682.9 L741.3,686.1 L742.8,689.3 L744.3,692.5 L745.8,695.6 L747.3,698.7 L748.8,701.8 L750.3,704.9 L751.8,707.9 L753.3,711.0 L754.8,713.9 L756.3,716.9 L757.8,719.8 L759.3,722.7 L760.8,725.5 L762.3,728.4 L763.8,731.1 L765.3,733.9 L766.8,736.6 L768.3,739.3 L769.8,741.9 L771.3,744.6 L772.8,747.1 L774.3,749.7 L775.8,752.2 L777.3,754.7 L778.8,757.1 L780.3,759.5 L781.8,761.9 L783.3,764.2 L784.8,766.5 L786.3,768.8 L787.8,771.0 L789.3,773.2 L790.8,775.3 L792.3,777.5 L793.8,779.5 L795.3,781.6 L796.8,783.6 L798.3,785.6 L799.8,787.5 L801.3,789.4 L802.8,791.3 L804.3,793.2 L805.8,795.0 L807.3,796.8 L808.8,798.5 L810.3,800.2 L811.8,801.9 L813.3,803.6 L814.8,805.2 L816.3,806.8 L817.8,808.3 L819.3,809.9 L820.8,811.4 L822.3,812.8 L823.8,814.3 L825.3,815.7 L826.8,817.1 L828.3,818.5 L829.8,819.8 L831.3,821.1 L832.8,822.4 L834.3,823.7 L835.8,824.9 L837.3,826.1 L838.8,827.3 L840.3,828.5 L841.8,829.6 L843.3,830.7 L844.8,831.8 L846.3,832.9 L847.8,834.0 L849.3,835.0 L850.8,836.0 L852.3,837.0 L853.8,838.0 L855.2,838.9 L856.7,839.9 L858.2,840.8 L859.7,841.7 L861.2,842.6 L862.7,843.5 L864.2,844.3 L865.7,845.2 L867.2,846.0 L868.7,846.8 L870.2,847.6 L871.7,848.4 L873.2,849.2 L874.7,849.9 L876.2,850.7 L877.7,851.4 L879.2,852.1 L880.7,852.8 L882.2,853.5 L883.7,854.2 L885.2,854.9 L886.7,855.6 L888.2,856.2 L889.7,856.9 L891.2,857.5 L892.7,858.1 L894.2,858.8 L895.7,859.4 L897.2,860.0 L898.7,860.6 L900.2,861.1 L901.7,861.7 L903.2,862.3 L904.7,862.8 L906.2,863.4 L907.7,863.9 L909.2,864.5 L910.7,865.0 L912.2,865.6 L913.7,866.1 L915.2,866.6 L916.7,867.1 L918.2,867.6 L919.7,868.1 L921.2,868.6 L922.7,869.1 L924.2,869.6 L925.7,870.1 L927.2,870.5 L928.7,871.0 L930.2,871.5 L931.7,871.9 L933.2,872.4 L934.7,872.9 L936.2,873.3 L937.7,873.7 L939.2,874.2 L940.7,874.6 L942.2,875.1 L943.7,875.5 L945.2,875.9 L946.7,876.4 L948.2,876.8 L949.7,877.2 L951.2,877.6 L952.7,878.0 L954.2,878.4 L955.7,878.9 L957.2,879.3 L958.7,879.7 L960.2,880.1 L961.7,880.5 L963.2,880.9 L964.7,881.2 L966.2,881.6 L967.7,882.0 L969.2,882.4 L970.7,882.8 L972.2,883.2 L973.7,883.6 L975.2,883.9 L976.7,884.3 L978.2,884.7 L979.7,885.1 L981.2,885.4 L982.7,885.8 L984.2,886.2 L985.7,886.5 L987.2,886.9 L988.7,887.2 L990.2,887.6 L991.7,887.9 L993.2,888.3 L994.7,888.7 L996.2,889.0 L997.7,889.3 L999.2,889.7 L1000.7,890.0 L1002.2,890.4 L1003.7,890.7 L1005.2,891.1 L1006.7,891.4 L1008.2,891.7 L1009.7,892.1 L1011.2,892.4 L1012.7,892.7 L1014.2,893.0 L1015.7,893.4 L1017.2,893.7 L1018.7,894.0 L1020.2,894.3 L1021.7,894.7 L1023.2,895.0 L1024.7,895.3 L1026.2,895.6 L1027.7,895.9 L1029.2,896.2 L1030.7,896.5 L1032.2,896.9 L1033.7,897.2 L1035.2,897.5 L1036.7,897.8 L1038.2,898.1 L1039.7,898.4 L1041.2,898.7 L1042.7,899.0 L1044.2,899.3 L1045.7,899.6 L1047.2,899.8 L1048.7,900.1 L1050.2,900.4 L1051.7,900.7 L1053.2,901.0 L1054.7,901.3 L1056.2,901.6 L1057.7,901.8 L1059.2,902.1 L1060.7,902.4 L1062.2,902.7 L1063.7,903.0 L1065.2,903.2 L1066.7,903.5 L1068.2,903.8 L1069.7,904.0 L1071.2,904.3 L1072.7,904.6 L1074.2,904.8 L1075.7,905.1 L1077.2,905.4 L1078.7,905.6 L1080.2,905.9 L1081.7,906.1 L1083.2,906.4 L1084.7,906.6 L1086.2,906.9 L1087.7,907.2 L1089.2,907.4 L1090.7,907.6 L1092.2,907.9 L1093.7,908.1 L1095.2,908.4 L1096.7,908.6 L1098.2,908.9 L1099.7,909.1 L1101.1,909.3 L1102.6,909.6 L1104.1,909.8 L1105.6,910.1 L1107.1,910.3 L1108.6,910.5 L1110.1,910.7 L1111.6,911.0 L1113.1,911.2 L1114.6,911.4 L1116.1,911.7 L1117.6,911.9 L1119.1,912.1 L1120.6,912.3 L1122.1,912.5 L1123.6,912.8 L1125.1,913.0 L1126.6,913.2 L1128.1,913.4 L1129.6,913.6 L1131.1,913.8 L1132.6,914.0 L1134.1,914.2 L1135.6,914.4 L1137.1,914.7 L1138.6,914.9 L1140.1,915.1 L1141.6,915.3 L1143.1,915.5 L1144.6,915.7 L1146.1,915.9 L1147.6,916.1 L1149.1,916.3 L1150.6,916.4 L1152.1,916.6 L1153.6,916.8 L1155.1,917.0 L1156.6,917.2 L1158.1,917.4 L1159.6,917.6 L1161.1,917.8 L1162.6,918.0 L1164.1,918.1 L1165.6,918.3 L1167.1,918.5 L1168.6,918.7 L1170.1,918.9 L1171.6,919.0 L1173.1,919.2 L1174.6,919.4 L1176.1,919.6 L1177.6,919.7 L1179.1,919.9 L1180.6,920.1 L1182.1,920.2 L1183.6,920.4 L1185.1,920.6 L1186.6,920.7 L1188.1,920.9 L1189.6,921.1 L1191.1,921.2 L1192.6,921.4 L1194.1,921.6 L1195.6,921.7 L1197.1,921.9 L1198.6,922.0 L1200.1,922.2 L1201.6,922.3 L1203.1,922.5 L1204.6,922.6 L1206.1,922.8 L1207.6,922.9 L1209.1,923.1 L1210.6,923.2 L1212.1,923.4 L1213.6,923.5 L1215.1,923.7 L1216.6,923.8 L1218.1,924.0 L1219.6,924.1 L1221.1,924.2 L1222.6,924.4 L1224.1,924.5 L1225.6,924.7 L1227.1,924.8 L1228.6,924.9 L1230.1,925.1 L1231.6,925.2 L1233.1,925.3 L1234.6,925.5 L1236.1,925.6 L1237.6,925.7 L1239.1,925.9 L1240.6,926.0 L1242.1,926.1 L1243.6,926.2 L1245.1,926.4 L1246.6,926.5 L1248.1,926.6 L1249.6,926.7 L1251.1,926.8 L1252.6,927.0 L1254.1,927.1 L1255.6,927.2 L1257.1,927.3 L1258.6,927.4 L1260.1,927.6 L1261.6,927.7 L1263.1,927.8 L1264.6,927.9 L1266.1,928.0 L1267.6,928.1 L1269.1,928.2 L1270.6,928.3 L1272.1,928.5 L1273.6,928.6 L1275.1,928.7 L1276.6,928.8 L1278.1,928.9 L1279.6,929.0 L1281.1,929.1 L1282.6,929.2 L1284.1,929.3 L1285.6,929.4 L1287.1,929.5 L1288.6,929.6 L1290.1,929.7 L1291.6,929.8 L1293.1,929.9 L1294.6,930.0 L1296.1,930.1 L1297.6,930.2 L1299.1,930.3 L1300.6,930.4 L1302.1,930.5 L1303.6,930.6 L1305.1,930.6 L1306.6,930.7 L1308.1,930.8 L1309.6,930.9 L1311.1,931.0 L1312.6,931.1 L1314.1,931.2 L1315.6,931.3 L1317.1,931.4 L1318.6,931.4 L1320.1,931.5 L1321.6,931.6 L1323.1,931.7 L1324.6,931.8 L1326.1,931.9 L1327.6,931.9 L1329.1,932.0 L1330.6,932.1 L1332.1,932.2 L1333.6,932.3 L1335.1,932.3 L1336.6,932.4 L1338.1,932.5 L1339.6,932.6 L1341.1,932.6 L1342.6,932.7 L1344.1,932.8 L1345.6,932.9 L1347.0,932.9 L1348.5,933.0 L1350.0,933.1 L1351.5,933.1 L1353.0,933.2 L1354.5,933.3 L1356.0,933.4 L1357.5,933.4 L1359.0,933.5 L1360.5,933.6 L1362.0,933.6 L1363.5,933.7 L1365.0,933.8 L1366.5,933.8 L1368.0,933.9 L1369.5,934.0 L1371.0,934.0 L1372.5,934.1 L1374.0,934.1 L1375.5,934.2 L1377.0,934.3 L1378.5,934.3 L1380.0,934.4 L1381.5,934.4 L1383.0,934.5 L1384.5,934.6 L1386.0,934.6 L1387.5,934.7 L1389.0,934.7 L1390.5,934.8 L1392.0,934.9 L1393.5,934.9 L1395.0,935.0 L1396.5,935.0 L1398.0,935.1 L1399.5,935.1 L1401.0,935.2 L1402.5,935.2 L1404.0,935.3 L1405.5,935.3 L1407.0,935.4 L1408.5,935.4 L1410.0,935.5 L1411.5,935.5 L1413.0,935.6 L1414.5,935.6 L1416.0,935.7 L1417.5,935.7 L1419.0,935.8 L1420.5,935.8 L1422.0,935.9 L1423.5,935.9 L1425.0,936.0 L1426.5,936.0 L1428.0,936.1 L1429.5,936.1 L1431.0,936.1 L1432.5,936.2 L1434.0,936.2 L1435.5,936.3 L1437.0,936.3 L1438.5,936.4 L1440.0,936.4 L1441.5,936.4 L1443.0,936.5 L1444.5,936.5 L1446.0,936.6 L1447.5,936.6 L1449.0,936.6 L1450.5,936.7 L1452.0,936.7 L1453.5,936.8 L1455.0,936.8 L1456.5,936.8 L1458.0,936.9 L1459.5,936.9 L1461.0,937.0 L1462.5,937.0 L1464.0,937.0 L1465.5,937.1 L1467.0,937.1 L1468.5,937.1 L1470.0,937.2" stroke="#0f0" stroke-width="4.2"/>
<path d="M237.5,458.5 L239.0,471.2 L240.5,483.5 L242.0,495.5 L243.5,507.2 L245.0,518.5 L246.5,529.5 L248.0,540.2 L249.5,550.5 L251.0,560.5 L252.5,570.3 L254.0,579.7 L255.5,588.9 L257.0,597.8 L258.5,606.4 L260.0,614.7 L261.5,622.8 L263.0,630.6 L264.5,638.2 L266.0,645.5 L267.5,652.6 L269.0,659.4 L270.5,666.0 L272.0,672.4 L273.5,678.5 L275.0,684.4 L276.5,690.1 L278.0,695.6 L279.5,700.9 L281.0,706.0 L282.5,710.9 L284.0,715.6 L285.5,720.2 L287.0,724.5 L288.5,728.6 L290.0,732.6 L291.5,736.4 L293.0,740.0 L294.5,743.4 L296.0,746.7 L297.5,749.8 L299.0,752.8 L300.5,755.5 L302.0,758.2 L303.5,760.7 L305.0,763.0 L306.5,765.2 L308.0,767.2 L309.5,769.1 L311.0,770.8 L312.5,772.4 L314.0,773.9 L315.5,775.2 L317.0,776.4 L318.5,777.5 L320.0,778.4 L321.5,779.2 L323.0,779.9 L324.5,780.4 L326.0,780.8 L327.5,781.1 L329.0,781.3 L330.5,781.4 L332.0,781.3 L333.5,781.2 L335.0,780.9 L336.5,780.5 L338.0,780.0 L339.5,779.4 L341.0,778.7 L342.5,777.9 L344.0,776.9 L345.5,775.9 L347.0,774.8 L348.5,773.6 L350.0,772.2 L351.5,770.8 L353.0,769.3 L354.5,767.7 L356.0,766.1 L357.5,764.3 L359.0,762.4 L360.5,760.5 L361.9,758.5 L363.4,756.4 L364.9,754.3 L366.4,752.0 L367.9,749.7 L369.4,747.4 L370.9,745.0 L372.4,742.5 L373.9,739.9 L375.4,737.3 L376.9,734.7 L378.4,732.0 L379.9,729.2 L381.4,726.4 L382.9,723.6 L384.4,720.7 L385.9,717.8 L387.4,714.8 L388.9,711.8 L390.4,708.8 L391.9,705.8 L393.4,702.7 L394.9,699.6 L396.4,696.5 L397.9,693.4 L399.4,690.2 L400.9,687.1 L402.4,683.9 L403.9,680.7 L405.4,677.5 L406.9,674.3 L408.4,671.1 L409.9,668.0 L411.4,664.8 L412.9,661.6 L414.4,658.4 L415.9,655.2 L417.4,652.0 L418.9,648.8 L420.4,645.7 L421.9,642.5 L423.4,639.4 L424.9,636.2 L426.4,633.1 L427.9,630.0 L429.4,626.9 L430.9,623.8 L432.4,620.7 L433.9,617.6 L435.4,614.6 L436.9,611.5 L438.4,608.5 L439.9,605.5 L441.4,602.4 L442.9,599.4 L444.4,596.5 L445.9,593.5 L447.4,590.5 L448.9,587.6 L450.4,584.6 L451.9,581.7 L453.4,578.7 L454.9,575.8 L456.4,572.9 L457.9,570.0 L459.4,567.1 L460.9,564.3 L462.4,561.4 L463.9,558.5 L465.4,555.7 L466.9,552.8 L468.4,550.0 L469.9,547.1 L471.4,544.3 L472.9,541.5 L474.4,538.7 L475.9,535.9 L477.4,533.1 L478.9,530.3 L480.4,527.6 L481.9,524.8 L483.4,522.1 L484.9,519.3 L486.4,516.6 L487.9,513.9 L489.4,511.2 L490.9,508.6 L492.4,505.9 L493.9,503.3 L495.4,500.6 L496.9,498.0 L498.4,495.4 L499.9,492.9 L501.4,490.3 L502.9,487.8 L504.4,485.3 L505.9,482.8 L507.4,480.4 L508.9,478.0 L510.4,475.6 L511.9,473.2 L513.4,470.9 L514.9,468.6 L516.4,466.3 L517.9,464.1 L519.4,461.9 L520.9,459.8 L522.4,457.6 L523.9,455.6 L525.4,453.5 L526.9,451.5 L528.4,449.5 L529.9,447.6 L531.4,445.8 L532.9,443.9 L534.4,442.1 L535.9,440.4 L537.4,438.7 L538.9,437.1 L540.4,435.5 L541.9,433.9 L543.4,432.4 L544.9,431.0 L546.4,429.6 L547.9,428.2 L549.4,426.9 L550.9,425.7 L552.4,424.5 L553.9,423.4 L555.4,422.3 L556.9,421.2 L558.4,420.3 L559.9,419.3 L561.4,418.5 L562.9,417.7 L564.4,416.9 L565.9,416.2 L567.4,415.5 L568.9,414.9 L570.4,414.4 L571.9,413.9 L573.4,413.5 L574.9,413.1 L576.4,412.8 L577.9,412.5 L579.4,412.3 L580.9,412.2 L582.4,412.0 L583.9,412.0 L585.4,412.0 L586.9,412.1 L588.4,412.2 L589.9,412.4 L591.4,412.6 L592.9,412.9 L594.4,413.2 L595.9,413.6 L597.4,414.1 L598.9,414.5 L600.4,415.1 L601.9,415.7 L603.4,416.4 L604.9,417.1 L606.4,417.8 L607.8,418.7 L609.3,419.5 L610.8,420.5 L612.3,421.4 L613.8,422.5 L615.3,423.5 L616.8,424.7 L618.3,425.8 L619.8,427.1 L621.3,428.4 L622.8,429.7 L624.3,431.1 L625.8,432.5 L627.3,434.0 L628.8,435.5 L630.3,437.1 L631.8,438.7 L633.3,440.4 L634.8,442.2 L636.3,443.9 L637.8,445.8 L639.3,447.6 L640.8,449.5 L642.3,451.5 L643.8,453.5 L645.3,455.6 L646.8,457.7 L648.3,459.8 L649.8,462.0 L651.3,464.2 L652.8,466.5 L654.3,468.8 L655.8,471.1 L657.3,473.5 L658.8,476.0 L660.3,478.5 L661.8,481.0 L663.3,483.5 L664.8,486.1 L666.3,488.7 L667.8,491.4 L669.3,494.1 L670.8,496.8 L672.3,499.6 L673.8,502.4 L675.3,505.2 L676.8,508.0 L678.3,510.9 L679.8,513.8 L681.3,516.8 L682.8,519.8 L684.3,522.8 L685.8,525.8 L687.3,528.8 L688.8,531.9 L690.3,535.0 L691.8,538.1 L693.3,541.2 L694.8,544.4 L696.3,547.5 L697.8,550.7 L699.3,553.9 L700.8,557.1 L702.3,560.3 L703.8,563.6 L705.3,566.8 L706.8,570.1 L708.3,573.3 L709.8,576.6 L711.3,579.9 L712.8,583.1 L714.3,586.4 L715.8,589.7 L717.3,593.0 L718.8,596.3 L720.3,599.6 L721.8,602.8 L723.3,606.1 L724.8,609.4 L726.3,612.6 L727.8,615.9 L729.3,619.2 L730.8,622.4 L732.3,625.6 L733.8,628.9 L735.3,632.1 L736.8,635.3 L738.3,638.4 L739.8,641.6 L741.3,644.8 L742.8,647.9 L744.3,651.0 L745.8,654.1 L747.3,657.2 L748.8,660.2 L750.3,663.3 L751.8,666.3 L753.3,669.3 L754.8,672.2 L756.3,675.2 L757.8,678.1 L759.3,681.0 L760.8,683.9 L762.3,686.7 L763.8,689.5 L765.3,692.3 L766.8,695.1 L768.3,697.8 L769.8,700.5 L771.3,703.1 L772.8,705.8 L774.3,708.4 L775.8,711.0 L777.3,713.5 L778.8,716.0 L780.3,718.5 L781.8,721.0 L783.3,723.4 L784.8,725.8 L786.3,728.1 L787.8,730.4 L789.3,732.7 L790.8,735.0 L792.3,737.2 L793.8,739.4 L795.3,741.6 L796.8,743.7 L798.3,745.8 L799.8,747.9 L801.3,749.9 L802.8,751.9 L804.3,753.9 L805.8,755.8 L807.3,757.7 L808.8,759.6 L810.3,761.5 L811.8,763.3 L813.3,765.1 L814.8,766.8 L816.3,768.6 L817.8,770.3 L819.3,771.9 L820.8,773.6 L822.3,775.2 L823.8,776.8 L825.3,778.3 L826.8,779.9 L828.3,781.4 L829.8,782.8 L831.3,784.3 L832.8,785.7 L834.3,787.1 L835.8,788.5 L837.3,789.9 L838.8,791.2 L840.3,792.5 L841.8,793.8 L843.3,795.0 L844.8,796.3 L846.3,797.5 L847.8,798.7 L849.3,799.9 L850.8,801.0 L852.3,802.2 L853.8,803.3 L855.2,804.4 L856.7,805.5 L858.2,806.5 L859.7,807.6 L861.2,808.6 L862.7,809.6 L864.2,810.6 L865.7,811.6 L867.2,812.6 L868.7,813.5 L870.2,814.4 L871.7,815.4 L873.2,816.3 L874.7,817.2 L876.2,818.0 L877.7,818.9 L879.2,819.8 L880.7,820.6 L882.2,821.4 L883.7,822.3 L885.2,823.1 L886.7,823.9 L888.2,824.6 L889.7,825.4 L891.2,826.2 L892.7,826.9 L894.2,827.7 L895.7,828.4 L897.2,829.2 L898.7,829.9 L900.2,830.6 L901.7,831.3 L903.2,832.0 L904.7,832.7 L906.2,833.4 L907.7,834.1 L909.2,834.7 L910.7,835.4 L912.2,836.1 L913.7,836.7 L915.2,837.4 L916.7,838.0 L918.2,838.6 L919.7,839.3 L921.2,839.9 L922.7,840.5 L924.2,841.1 L925.7,841.7 L927.2,842.3 L928.7,842.9 L930.2,843.5 L931.7,844.1 L933.2,844.7 L934.7,845.3 L936.2,845.8 L937.7,846.4 L939.2,847.0 L940.7,847.5 L942.2,848.1 L943.7,848.7 L945.2,849.2 L946.7,849.8 L948.2,850.3 L949.7,850.9 L951.2,851.4 L952.7,852.0 L954.2,852.5 L955.7,853.0 L957.2,853.6 L958.7,854.1 L960.2,854.6 L961.7,855.1 L963.2,855.6 L964.7,856.2 L966.2,856.7 L967.7,857.2 L969.2,857.7 L970.7,858.2 L972.2,858.7 L973.7,859.2 L975.2,859.7 L976.7,860.2 L978.2,860.7 L979.7,861.2 L981.2,861.7 L982.7,862.2 L984.2,862.7 L985.7,863.1 L987.2,863.6 L988.7,864.1 L990.2,864.6 L991.7,865.0 L993.2,865.5 L994.7,866.0 L996.2,866.5 L997.7,866.9 L999.2,867.4 L1000.7,867.8 L1002.2,868.3 L1003.7,868.8 L1005.2,869.2 L1006.7,869.7 L1008.2,870.1 L1009.7,870.6 L1011.2,871.0 L1012.7,871.5 L1014.2,871.9 L1015.7,872.4 L1017.2,872.8 L1018.7,873.2 L1020.2,873.7 L1021.7,874.1 L1023.2,874.5 L1024.7,875.0 L1026.2,875.4 L1027.7,875.8 L1029.2,876.2 L1030.7,876.7 L1032.2,877.1 L1033.7,877.5 L1035.2,877.9 L1036.7,878.3 L1038.2,878.7 L1039.7,879.1 L1041.2,879.6 L1042.7,880.0 L1044.2,880.4 L1045.7,880.8 L1047.2,881.2 L1048.7,881.6 L1050.2,882.0 L1051.7,882.4 L1053.2,882.7 L1054.7,883.1 L1056.2,883.5 L1057.7,883.9 L1059.2,884.3 L1060.7,884.7 L1062.2,885.1 L1063.7,885.4 L1065.2,885.8 L1066.7,886.2 L1068.2,886.6 L1069.7,886.9 L1071.2,887.3 L1072.7,887.7 L1074.2,888.0 L1075.7,888.4 L1077.2,888.8 L1078.7,889.1 L1080.2,889.5 L1081.7,889.8 L1083.2,890.2 L1084.7,890.6 L1086.2,890.9 L1087.7,891.3 L1089.2,891.6 L1090.7,892.0 L1092.2,892.3 L1093.7,892.6 L1095.2,893.0 L1096.7,893.3 L1098.2,893.7 L1099.7,894.0 L1101.1,894.3 L1102.6,894.6 L1104.1,895.0 L1105.6,895.3 L1107.1,895.6 L1108.6,896.0 L1110.1,896.3 L1111.6,896.6 L1113.1,896.9 L1114.6,897.2 L1116.1,897.5 L1117.6,897.9 L1119.1,898.2 L1120.6,898.5 L1122.1,898.8 L1123.6,899.1 L1125.1,899.4 L1126.6,899.7 L1128.1,900.0 L1129.6,900.3 L1131.1,900.6 L1132.6,900.9 L1134.1,901.2 L1135.6,901.5 L1137.1,901.8 L1138.6,902.1 L1140.1,902.3 L1141.6,902.6 L1143.1,902.9 L1144.6,903.2 L1146.1,903.5 L1147.6,903.8 L1149.1,904.0 L1150.6,904.3 L1152.1,904.6 L1153.6,904.8 L1155.1,905.1 L1156.6,905.4 L1158.1,905.7 L1159.6,905.9 L1161.1,906.2 L1162.6,906.4 L1164.1,906.7 L1165.6,907.0 L1167.1,907.2 L1168.6,907.5 L1170.1,907.7 L1171.6,908.0 L1173.1,908.2 L1174.6,908.5 L1176.1,908.7 L1177.6,909.0 L1179.1,909.2 L1180.6,909.5 L1182.1,909.7 L1183.6,909.9 L1185.1,910.2 L1186.6,910.4 L1188.1,910.6 L1189.6,910.9 L1191.1,911.1 L1192.6,911.3 L1194.1,911.6 L1195.6,911.8 L1197.1,912.0 L1198.6,912.3 L1200.1,912.5 L1201.6,912.7 L1203.1,912.9 L1204.6,913.1 L1206.1,913.4 L1207.6,913.6 L1209.1,913.8 L1210.6,914.0 L1212.1,914.2 L1213.6,914.4 L1215.1,914.6 L1216.6,914.8 L1218.1,915.0 L1219.6,915.2 L1221.1,915.4 L1222.6,915.6 L1224.1,915.8 L1225.6,916.0 L1227.1,916.2 L1228.6,916.4 L1230.1,916.6 L1231.6,916.8 L1233.1,917.0 L1234.6,917.2 L1236.1,917.4 L1237.6,917.6 L1239.1,917.8 L1240.6,918.0 L1242.1,918.1 L1243.6,918.3 L1245.1,918.5 L1246.6,918.7 L1248.1,918.9 L1249.6,919.0 L1251.1,919.2 L1252.6,919.4 L1254.1,919.6 L1255.6,919.7 L1257.1,919.9 L1258.6,920.1 L1260.1,920.2 L1261.6,920.4 L1263.1,920.6 L1264.6,920.7 L1266.1,920.9 L1267.6,921.1 L1269.1,921.2 L1270.6,921.4 L1272.1,921.5 L1273.6,921.7 L1275.1,921.9 L1276.6,922.0 L1278.1,922.2 L1279.6,922.3 L1281.1,922.5 L1282.6,922.6 L1284.1,922.8 L1285.6,922.9 L1287.1,923.1 L1288.6,923.2 L1290.1,923.4 L1291.6,923.5 L1293.1,923.7 L1294.6,923.8 L1296.1,923.9 L1297.6,924.1 L1299.1,924.2 L1300.6,924.4 L1302.1,924.5 L1303.6,924.6 L1305.1,924.8 L1306.6,924.9 L1308.1,925.0 L1309.6,925.2 L1311.1,925.3 L1312.6,925.4 L1314.1,925.5 L1315.6,925.7 L1317.1,925.8 L1318.6,925.9 L1320.1,926.0 L1321.6,926.2 L1323.1,926.3 L1324.6,926.4 L1326.1,926.5 L1327.6,926.7 L1329.1,926.8 L1330.6,926.9 L1332.1,927.0 L1333.6,927.1 L1335.1,927.2 L1336.6,927.4 L1338.1,927.5 L1339.6,927.6 L1341.1,927.7 L1342.6,927.8 L1344.1,927.9 L1345.6,928.0 L1347.0,928.1 L1348.5,928.2 L1350.0,928.3 L1351.5,928.4 L1353.0,928.5 L1354.5,928.6 L1356.0,928.7 L1357.5,928.9 L1359.0,929.0 L1360.5,929.1 L1362.0,929.2 L1363.5,929.2 L1365.0,929.3 L1366.5,929.4 L1368.0,929.5 L1369.5,929.6 L1371.0,929.7 L1372.5,929.8 L1374.0,929.9 L1375.5,930.0 L1377.0,930.1 L1378.5,930.2 L1380.0,930.3 L1381.5,930.4 L1383.0,930.5 L1384.5,930.5 L1386.0,930.6 L1387.5,930.7 L1389.0,930.8 L1390.5,930.9 L1392.0,931.0 L1393.5,931.0 L1395.0,931.1 L1396.5,931.2 L1398.0,931.3 L1399.5,931.4 L1401.0,931.4 L1402.5,931.5 L1404.0,931.6 L1405.5,931.7 L1407.0,931.8 L1408.5,931.8 L1410.0,931.9 L1411.5,932.0 L1413.0,932.1 L1414.5,932.1 L1416.0,932.2 L1417.5,932.3 L1419.0,932.3 L1420.5,932.4 L1422.0,932.5 L1423.5,932.6 L1425.0,932.6 L1426.5,932.7 L1428.0,932.8 L1429.5,932.8 L1431.0,932.9 L1432.5,933.0 L1434.0,933.0 L1435.5,933.1 L1437.0,933.2 L1438.5,933.2 L1440.0,933.3 L1441.5,933.3 L1443.0,933.4 L1444.5,933.5 L1446.0,933.5 L1447.5,933.6 L1449.0,933.6 L1450.5,933.7 L1452.0,933.8 L1453.5,933.8 L1455.0,933.9 L1456.5,933.9 L1458.0,934.0 L1459.5,934.0 L1461.0,934.1 L1462.5,934.2 L1464.0,934.2 L1465.5,934.3 L1467.0,934.3 L1468.5,934.4 L1470.0,934.4" stroke="#00f" stroke-width="4.2"/>
<path d="M237.5,738.4 L239.0,740.6 L240.5,742.6 L242.0,744.5 L243.5,746.2 L244.9,747.8 L246.4,749.3 L247.9,750.7 L249.4,751.9 L250.9,753.1 L252.4,754.1 L253.9,755.1 L255.4,756.0 L256.9,756.8 L258.3,757.5 L259.8,758.1 L261.3,758.7 L262.8,759.2 L264.3,759.6 L265.8,760.0 L267.3,760.3 L268.8,760.5 L270.3,760.7 L271.7,760.8 L273.2,760.9 L274.7,761.0 L276.2,761.0 L277.7,760.9 L279.2,760.8 L280.7,760.7 L282.2,760.5 L283.7,760.2 L285.1,760.0 L286.6,759.7 L288.1,759.3 L289.6,758.9 L291.1,758.5 L292.6,758.0 L294.1,757.6 L295.6,757.0 L297.1,756.5 L298.5,755.9 L300.0,755.2 L301.5,754.5 L303.0,753.8 L304.5,753.1 L306.0,752.3 L307.5,751.5 L309.0,750.7 L310.5,749.8 L311.9,748.9 L313.4,747.9 L314.9,746.9 L316.4,745.9 L317.9,744.9 L319.4,743.8 L320.9,742.7 L322.4,741.5 L323.9,740.3 L325.3,739.0 L326.8,737.8 L328.3,736.5 L329.8,735.1 L331.3,733.7 L332.8,732.3 L334.3,730.8 L335.8,729.3 L337.3,727.8 L338.8,726.2 L340.2,724.5 L341.7,722.9 L343.2,721.1 L344.7,719.4 L346.2,717.6 L347.7,715.8 L349.2,713.9 L350.7,711.9 L352.2,710.0 L353.6,708.0 L355.1,705.9 L356.6,703.8 L358.1,701.7 L359.6,699.5 L361.1,697.3 L362.6,695.0 L364.1,692.7 L365.6,690.3 L367.0,687.9 L368.5,685.4 L370.0,683.0 L371.5,680.4 L373.0,677.8 L374.5,675.2 L376.0,672.6 L377.5,669.9 L379.0,667.1 L380.4,664.3 L381.9,661.5 L383.4,658.6 L384.9,655.7 L386.4,652.8 L387.9,649.8 L389.4,646.8 L390.9,643.8 L392.4,640.7 L393.8,637.6 L395.3,634.4 L396.8,631.2 L398.3,628.0 L399.8,624.8 L401.3,621.5 L402.8,618.2 L404.3,614.9 L405.8,611.6 L407.2,608.2 L408.7,604.9 L410.2,601.5 L411.7,598.1 L413.2,594.7 L414.7,591.2 L416.2,587.8 L417.7,584.3 L419.2,580.9 L420.6,577.4 L422.1,574.0 L423.6,570.5 L425.1,567.0 L426.6,563.6 L428.1,560.1 L429.6,556.7 L431.1,553.3 L432.6,549.8 L434.0,546.4 L435.5,543.1 L437.0,539.7 L438.5,536.4 L440.0,533.0 L440.7,530.3 L441.4,527.8 L442.1,525.3 L442.8,523.1 L443.5,521.0 L443.5,521.0 L444.2,519.1 L444.9,517.4 L445.6,515.8 L446.3,514.3 L447.0,512.8 L447.7,511.3 L448.4,509.8 L448.4,509.8 L449.1,508.2 L449.8,506.7 L450.5,505.2 L451.2,503.7 L451.9,502.1 L452.6,500.6 L453.3,499.0 L454.0,497.3 L454.0,497.3 L454.7,495.5 L455.4,493.7 L456.1,491.8 L456.8,489.9 L457.5,488.0 L458.2,486.1 L458.2,486.1 L458.9,484.2 L459.6,482.4 L460.3,480.5 L461.0,478.6 L461.7,476.8 L462.4,474.9 L462.4,474.9 L463.1,473.0 L463.8,471.0 L464.5,469.1 L465.2,467.2 L465.9,465.3 L466.5,463.7 L466.6,463.4 L467.3,461.5 L468.0,459.7 L468.7,457.8 L469.4,456.0 L470.1,454.1 L470.7,452.6 L470.8,452.3 L471.5,450.5 L472.2,448.7 L472.9,446.8 L473.6,445.0 L474.3,443.1 L474.9,441.4 L475.0,441.1 L475.7,438.9 L476.4,436.6 L477.1,434.3 L477.8,432.0 L478.4,430.2 L478.5,429.8 L479.2,427.7 L479.9,425.6 L480.6,423.5 L481.3,421.5 L482.0,419.4 L482.6,417.6 L482.7,417.2 L483.4,415.0 L484.1,412.7 L484.8,410.4 L485.5,408.2 L486.1,406.5 L486.2,406.1 L486.9,404.2 L487.6,402.3 L488.3,400.5 L489.0,398.6 L489.7,396.8 L490.3,395.3 L490.4,395.0 L491.1,393.1 L491.8,391.3 L492.5,389.5 L493.2,387.7 L493.9,385.7 L494.5,384.1 L494.6,383.7 L495.3,381.5 L496.0,379.2 L496.7,376.9 L497.4,374.6 L498.0,372.9 L498.1,372.5 L498.8,370.6 L499.5,368.9 L500.2,367.2 L500.9,365.4 L501.6,363.5 L502.2,361.8 L502.3,361.4 L503.0,358.7 L503.7,355.6 L504.4,352.7 L505.0,350.6 L505.1,350.2 L505.8,348.1 L506.5,346.2 L507.2,344.4 L507.9,342.6 L508.6,340.9 L509.2,339.4 L509.3,339.0 L510.0,337.1 L510.7,335.2 L511.4,333.3 L512.1,331.4 L512.8,329.5 L513.3,328.2 L513.5,327.6 L514.2,325.7 L514.9,323.9 L515.6,322.0 L516.3,320.2 L517.0,318.3 L517.5,317.1 L517.7,316.5 L518.4,314.6 L519.1,312.8 L519.8,311.0 L520.5,309.1 L521.2,307.2 L521.7,305.9 L521.9,305.2 L522.6,302.7 L523.3,300.1 L524.0,297.6 L524.7,295.6 L525.2,294.7 L525.4,294.3 L526.1,293.6 L526.8,293.0 L527.5,292.5 L528.2,291.9 L528.9,291.2 L529.4,290.5 L529.6,290.0 L530.3,287.8 L531.0,285.1 L531.5,283.5 L531.7,282.7 L532.4,280.4 L533.1,278.0 L533.8,275.8 L534.5,273.7 L535.0,272.4 L535.2,271.7 L535.9,269.9 L536.6,268.2 L537.3,266.6 L538.0,265.1 L538.7,263.6 L539.4,262.1 L539.9,261.2 L540.1,260.7 L540.9,259.7 L541.6,259.0 L542.3,258.4 L543.0,257.8 L543.7,257.0 L544.4,255.8 L545.1,254.2 L545.8,251.9 L546.2,250.0 L546.3,247.4 L546.5,247.4 L547.2,247.4 L547.9,247.4 L548.6,247.4 L549.1,247.4 L549.3,247.4 L550.0,248.4 L550.7,249.8 L551.4,250.7 L551.5,250.7 L552.1,250.4 L552.8,249.3 L553.5,247.6 L553.8,246.7 L554.2,245.1 L554.9,239.9 L555.5,235.4 L555.6,235.1 L556.3,231.9 L557.0,229.2 L557.7,226.7 L558.4,224.2 L558.4,224.0 L559.1,221.3 L559.8,218.2 L560.5,215.4 L561.2,213.6 L561.5,213.3 L561.9,213.2 L562.6,213.0 L563.3,212.9 L564.0,212.9 L564.0,212.9 L564.7,213.3 L565.4,214.2 L566.1,215.2 L566.8,215.8 L566.9,215.8 L567.5,215.8 L568.2,215.7 L568.9,215.6 L569.6,215.5 L570.3,215.3 L571.0,215.2 L571.2,215.2 L571.7,215.2 L572.4,215.1 L573.1,215.1 L573.8,215.1 L574.5,215.0 L575.2,215.0 L575.9,214.9 L576.6,214.8 L576.8,214.8 L577.3,214.6 L578.0,213.9 L578.7,212.7 L579.4,211.3 L579.4,211.2 L580.1,208.5 L580.8,204.4 L581.4,201.3 L581.5,201.0 L582.2,198.6 L582.9,196.4 L583.6,195.0 L583.7,194.9 L584.3,194.4 L585.0,194.0 L585.7,193.6 L586.4,193.4 L586.8,193.4 L587.1,193.4 L587.8,193.6 L588.5,193.8 L589.2,194.1 L589.9,194.4 L590.6,194.7 L591.1,194.9 L591.3,194.9 L592.0,195.1 L592.7,195.2 L593.4,195.3 L594.1,195.4 L594.8,195.5 L595.5,195.7 L596.0,195.9 L596.2,196.0 L596.9,196.9 L597.6,198.3 L598.2,199.8 L598.3,200.0 L599.0,202.4 L599.7,205.2 L600.3,206.9 L600.4,207.0 L601.1,208.0 L601.7,208.4 L601.8,208.4 L602.5,207.7 L603.2,206.3 L603.8,204.8 L603.9,204.6 L604.6,202.2 L605.3,199.4 L606.0,197.0 L606.0,197.0 L606.7,195.4 L607.4,194.0 L608.1,192.9 L608.8,192.0 L608.8,192.0 L609.5,191.3 L610.2,190.7 L610.9,190.2 L611.6,189.8 L612.3,189.6 L612.4,189.6 L613.0,189.7 L613.7,190.0 L614.4,190.6 L615.1,191.2 L615.2,191.3 L615.8,192.2 L616.5,193.9 L617.2,195.9 L617.9,198.1 L618.0,198.4 L618.6,200.2 L619.3,202.4 L620.0,204.8 L620.7,207.5 L620.9,208.4 L621.4,210.7 L622.1,214.7 L622.8,218.6 L623.0,219.7 L623.5,222.3 L624.2,226.2 L624.9,229.1 L625.1,229.7 L625.6,230.8 L626.3,232.1 L627.0,232.8 L627.3,232.9 L627.7,232.8 L628.4,232.3 L629.1,231.5 L629.4,231.1 L629.8,230.4 L630.5,228.5 L631.2,227.0 L631.5,226.8 L631.9,226.8 L632.6,226.8 L633.3,226.8 L633.7,226.8 L634.0,226.9 L634.7,227.5 L635.4,228.6 L636.1,229.8 L636.5,230.4 L636.8,230.8 L637.5,231.9 L638.2,233.0 L638.9,234.2 L639.6,235.6 L640.1,236.8 L640.3,237.3 L641.0,239.8 L641.7,242.8 L642.4,245.9 L643.1,248.7 L643.5,250.0 L643.8,250.9 L644.5,252.7 L645.2,254.3 L645.9,255.8 L646.6,257.2 L647.3,258.7 L648.0,260.3 L648.4,261.2 L648.7,262.0 L649.4,263.8 L650.1,265.6 L650.8,267.5 L651.5,269.4 L652.2,271.3 L652.6,272.4 L652.9,273.2 L653.6,275.1 L654.3,276.9 L655.0,278.8 L655.7,280.6 L656.4,282.5 L656.8,283.5 L657.1,284.3 L657.8,286.2 L658.5,288.1 L659.2,290.0 L659.9,291.9 L660.6,293.7 L661.0,294.7 L661.3,295.5 L662.0,297.0 L662.7,298.5 L663.4,300.1 L664.1,301.7 L664.8,303.6 L665.1,304.5 L665.5,306.0 L666.2,309.0 L666.9,312.4 L667.6,315.8 L667.9,317.1 L668.3,319.0 L669.0,322.4 L669.7,325.6 L670.4,328.6 L670.7,329.6 L671.1,330.9 L671.8,333.0 L672.5,334.8 L673.2,336.5 L673.9,338.2 L674.6,340.0 L674.9,340.8 L675.3,342.0 L676.0,344.0 L676.7,346.0 L677.4,348.1 L678.1,350.3 L678.8,352.5 L679.1,353.4 L679.5,354.8 L680.2,357.3 L680.9,359.9 L681.6,362.5 L682.3,365.0 L682.6,366.0 L683.0,367.4 L683.7,369.8 L684.4,372.2 L685.1,374.5 L685.8,376.8 L686.5,379.0 L686.8,379.9 L687.2,381.2 L687.9,383.4 L688.6,385.5 L689.3,387.5 L690.0,389.6 L690.7,391.7 L691.0,392.5 L691.4,393.8 L692.1,395.9 L692.8,398.0 L693.5,400.1 L694.2,402.2 L694.9,404.3 L695.2,405.1 L695.6,406.4 L696.3,408.4 L697.0,410.3 L697.7,412.4 L698.4,414.5 L699.1,416.7 L699.4,417.6 L699.8,419.1 L700.5,421.9 L701.2,424.8 L701.9,427.8 L702.6,430.6 L702.9,431.6 L703.3,433.1 L704.0,435.6 L704.7,437.9 L705.4,440.1 L706.1,442.4 L706.8,444.7 L707.1,445.6 L707.5,447.1 L708.2,449.5 L708.9,451.9 L709.6,454.3 L710.3,456.7 L711.0,459.0 L711.2,459.6 L711.7,461.4 L712.4,463.6 L713.1,465.9 L713.8,468.1 L714.5,470.5 L715.2,472.9 L715.4,473.5 L715.9,475.6 L716.6,478.4 L717.3,481.4 L718.0,484.3 L718.7,486.9 L718.9,487.5 L719.4,489.3 L720.1,491.4 L720.8,493.4 L721.5,495.3 L722.2,497.2 L722.9,499.1 L723.6,501.1 L723.8,501.5 L724.3,503.0 L725.0,505.0 L725.7,506.9 L726.4,508.8 L727.1,510.8 L727.8,512.8 L728.5,514.9 L728.7,515.4 L729.2,517.1 L729.9,519.5 L730.6,521.9 L731.3,524.3 L732.0,526.7 L732.7,528.9 L732.9,529.4 L733.4,531.1 L734.1,533.1 L734.8,535.1 L735.5,537.1 L736.2,539.0 L736.9,541.0 L737.6,543.0 L737.8,543.4 L738.3,545.0 L739.0,546.9 L739.7,548.9 L740.4,550.9 L741.1,552.9 L741.9,554.9 L742.6,556.9 L742.7,557.3 L743.3,558.9 L744.0,560.9 L744.7,562.9 L745.4,564.9 L746.1,566.9 L746.8,568.9 L747.5,570.9 L747.6,571.3 L748.2,572.9 L748.9,574.9 L749.6,576.9 L750.3,578.9 L751.0,580.9 L751.7,582.9 L752.4,584.9 L752.5,585.3 L753.1,586.9 L753.8,588.8 L754.5,590.8 L755.2,592.8 L755.9,594.8 L756.6,596.8 L757.3,598.9 L757.4,599.3 L758.0,601.2 L758.7,604.0 L759.4,606.4 L760.0,607.6 L760.1,607.6 L760.8,608.1 L761.5,608.3 L762.2,608.6 L762.7,608.9 L762.9,609.0 L763.6,609.9 L764.3,611.2 L765.0,612.9 L765.7,614.7 L766.4,616.8 L767.1,618.9 L767.8,621.0 L768.5,623.1 L769.2,624.9 L769.3,625.2 L769.9,626.5 L770.6,628.1 L771.3,629.7 L772.0,631.3 L772.7,632.8 L773.4,634.4 L774.1,635.9 L774.8,637.4 L775.5,639.0 L776.2,640.5 L776.6,641.5 L776.9,642.1 L777.6,643.7 L778.3,645.3 L779.0,646.9 L779.7,648.4 L780.4,650.0 L781.1,651.6 L781.8,653.2 L782.5,654.7 L783.2,656.2 L783.9,657.7 L783.9,657.8 L784.6,659.2 L785.3,660.6 L786.0,662.0 L786.7,663.4 L787.4,664.8 L788.1,666.2 L788.8,667.5 L789.5,668.9 L790.2,670.3 L790.9,671.7 L791.3,672.5 L791.6,673.0 L792.3,674.5 L793.0,675.9 L793.7,677.3 L794.4,678.7 L795.1,680.1 L795.8,681.6 L796.5,683.0 L797.2,684.4 L797.9,685.7 L798.6,687.1 L798.6,687.1 L799.3,688.4 L800.0,689.6 L800.7,690.9 L801.4,692.1 L802.1,693.3 L802.8,694.6 L803.5,695.8 L804.2,697.0 L804.9,698.3 L805.6,699.6 L805.9,700.2 L806.3,700.9 L807.0,702.4 L807.7,703.9 L808.4,705.5 L809.1,707.0 L809.8,708.5 L810.5,709.8 L811.2,711.0 L811.6,711.6 L811.9,712.0 L812.6,712.8 L813.3,713.6 L814.0,714.3 L814.7,714.9 L815.4,715.5 L816.1,716.1 L816.8,716.7 L817.5,717.4 L818.2,718.0 L818.9,718.8 L819.0,718.9 L819.6,719.6 L820.3,720.4 L821.0,721.3 L821.7,722.2 L822.4,723.1 L823.1,724.0 L823.8,725.0 L824.5,725.9 L825.2,726.9 L825.9,727.9 L826.6,728.8 L827.1,729.5 L827.3,729.8 L828.0,730.7 L828.7,731.7 L829.4,732.7 L830.1,733.7 L830.8,734.7 L831.5,735.7 L832.2,736.7 L832.9,737.7 L833.6,738.6 L834.3,739.6 L835.0,740.5 L835.3,740.9 L835.7,741.4 L836.4,742.2 L837.1,743.0 L837.8,743.8 L838.5,744.6 L839.2,745.4 L839.9,746.4 L840.0,746.6 L840.6,747.6 L841.3,749.1 L842.0,750.6 L842.0,750.6 L843.5,752.3 L845.0,754.1 L846.5,755.8 L848.0,757.5 L849.5,759.2 L851.0,760.9 L852.5,762.5 L854.0,764.2 L855.5,765.8 L857.0,767.5 L858.5,769.1 L860.0,770.7 L861.5,772.3 L863.0,773.9 L864.5,775.5 L866.0,777.1 L867.5,778.7 L869.0,780.2 L870.5,781.7 L872.0,783.3 L873.5,784.8 L875.0,786.3 L876.5,787.7 L878.0,789.2 L879.5,790.7 L881.0,792.1 L882.5,793.5 L884.0,794.9 L885.5,796.4 L887.0,797.7 L888.5,799.1 L890.0,800.5 L891.4,801.8 L892.9,803.1 L894.4,804.5 L895.9,805.8 L897.4,807.0 L898.9,808.3 L900.4,809.6 L901.9,810.8 L903.4,812.0 L904.9,813.2 L906.4,814.4 L907.9,815.6 L909.4,816.8 L910.9,817.9 L912.4,819.1 L913.9,820.2 L915.4,821.3 L916.9,822.4 L918.4,823.5 L919.9,824.6 L921.4,825.6 L922.9,826.6 L924.4,827.7 L925.9,828.7 L927.4,829.7 L928.9,830.7 L930.4,831.6 L931.9,832.6 L933.4,833.5 L934.9,834.5 L936.4,835.4 L937.9,836.3 L939.4,837.2 L940.9,838.1 L942.4,838.9 L943.9,839.8 L945.4,840.6 L946.9,841.5 L948.4,842.3 L949.9,843.1 L951.4,843.9 L952.9,844.7 L954.4,845.5 L955.9,846.3 L957.4,847.0 L958.9,847.8 L960.4,848.5 L961.9,849.3 L963.4,850.0 L964.9,850.7 L966.4,851.4 L967.9,852.1 L969.4,852.8 L970.9,853.5 L972.4,854.2 L973.9,854.9 L975.4,855.6 L976.9,856.3 L978.4,856.9 L979.9,857.6 L981.4,858.3 L982.9,858.9 L984.4,859.6 L985.9,860.2 L987.3,860.8 L988.8,861.5 L990.3,862.1 L991.8,862.8 L993.3,863.4 L994.8,864.0 L996.3,864.6 L997.8,865.3 L999.3,865.9 L1000.8,866.5 L1002.3,867.1 L1003.8,867.7 L1005.3,868.4 L1006.8,869.0 L1008.3,869.6 L1009.8,870.2 L1011.3,870.8 L1012.8,871.4 L1014.3,872.0 L1015.8,872.6 L1017.3,873.3 L1018.8,873.9 L1020.3,874.5 L1021.8,875.1 L1023.3,875.7 L1024.8,876.3 L1026.3,876.9 L1027.8,877.5 L1029.3,878.1 L1030.8,878.7 L1032.3,879.3 L1033.8,879.9 L1035.3,880.5 L1036.8,881.1 L1038.3,881.7 L1039.8,882.3 L1041.3,882.8 L1042.8,883.4 L1044.3,884.0 L1045.8,884.6 L1047.3,885.2 L1048.8,885.7 L1050.3,886.3 L1051.8,886.9 L1053.3,887.5 L1054.8,888.0 L1056.3,888.6 L1057.8,889.1 L1059.3,889.7 L1060.8,890.2 L1062.3,890.8 L1063.8,891.3 L1065.3,891.8 L1066.8,892.4 L1068.3,892.9 L1069.8,893.4 L1071.3,893.9 L1072.8,894.4 L1074.3,894.9 L1075.8,895.4 L1077.3,895.9 L1078.8,896.4 L1080.3,896.9 L1081.8,897.4 L1083.3,897.8 L1084.7,898.3 L1086.2,898.7 L1087.7,899.2 L1089.2,899.6 L1090.7,900.0 L1092.2,900.4 L1093.7,900.8 L1095.2,901.2 L1096.7,901.6 L1098.2,902.0 L1099.7,902.4 L1101.2,902.7 L1102.7,903.1 L1104.2,903.4 L1105.7,903.8 L1107.2,904.1 L1108.7,904.4 L1110.2,904.7 L1111.7,905.0 L1113.2,905.3 L1114.7,905.6 L1116.2,905.8 L1117.7,906.1 L1119.2,906.4 L1120.7,906.6 L1122.2,906.8 L1123.7,907.1 L1125.2,907.3 L1126.7,907.5 L1128.2,907.8 L1129.7,908.0 L1131.2,908.2 L1132.7,908.4 L1134.2,908.6 L1135.7,908.8 L1137.2,909.0 L1138.7,909.2 L1140.2,909.4 L1141.7,909.6 L1143.2,909.8 L1144.7,910.1 L1146.2,910.3 L1147.7,910.5 L1149.2,910.7 L1150.7,910.9 L1152.2,911.1 L1153.7,911.4 L1155.2,911.6 L1156.7,911.8 L1158.2,912.1 L1159.7,912.3 L1161.2,912.6 L1162.7,912.8 L1164.2,913.1 L1165.7,913.3 L1167.2,913.6 L1168.7,913.9 L1170.2,914.1 L1171.7,914.4 L1173.2,914.7 L1174.7,914.9 L1176.2,915.2 L1177.7,915.5 L1179.2,915.7 L1180.7,916.0 L1182.1,916.3 L1183.6,916.5 L1185.1,916.8 L1186.6,917.1 L1188.1,917.3 L1189.6,917.6 L1191.1,917.8 L1192.6,918.0 L1194.1,918.3 L1195.6,918.5 L1197.1,918.7 L1198.6,919.0 L1200.1,919.2 L1201.6,919.4 L1203.1,919.6 L1204.6,919.8 L1206.1,920.0 L1207.6,920.2 L1209.1,920.4 L1210.6,920.6 L1212.1,920.8 L1213.6,921.0 L1215.1,921.2 L1216.6,921.3 L1218.1,921.5 L1219.6,921.7 L1221.1,921.8 L1222.6,922.0 L1224.1,922.2 L1225.6,922.3 L1227.1,922.5 L1228.6,922.6 L1230.1,922.8 L1231.6,922.9 L1233.1,923.1 L1234.6,923.2 L1236.1,923.4 L1237.6,923.5 L1239.1,923.7 L1240.6,923.8 L1242.1,923.9 L1243.6,924.1 L1245.1,924.2 L1246.6,924.4 L1248.1,924.5 L1249.6,924.6 L1251.1,924.8 L1252.6,924.9 L1254.1,925.1 L1255.6,925.2 L1257.1,925.3 L1258.6,925.5 L1260.1,925.6 L1261.6,925.7 L1263.1,925.9 L1264.6,926.0 L1266.1,926.1 L1267.6,926.2 L1269.1,926.4 L1270.6,926.5 L1272.1,926.6 L1273.6,926.8 L1275.1,926.9 L1276.6,927.0 L1278.0,927.2 L1279.5,927.3 L1281.0,927.4 L1282.5,927.5 L1284.0,927.7 L1285.5,927.8 L1287.0,927.9 L1288.5,928.1 L1290.0,928.2 L1291.5,928.3 L1293.0,928.4 L1294.5,928.6 L1296.0,928.7 L1297.5,928.8 L1299.0,928.9 L1300.5,929.1 L1302.0,929.2 L1303.5,929.3 L1305.0,929.4 L1306.5,929.6 L1308.0,929.7 L1309.5,929.8 L1311.0,929.9 L1312.5,930.0 L1314.0,930.2 L1315.5,930.3 L1317.0,930.4 L1318.5,930.5 L1320.0,930.7 L1321.5,930.8 L1323.0,930.9 L1324.5,931.0 L1326.0,931.1 L1326.7,932.0 L1327.4,932.7 L1327.6,932.9 L1328.1,933.4 L1328.8,934.0 L1329.5,934.5 L1330.2,935.2 L1331.0,935.9 L1331.0,936.0 L1331.7,937.2 L1332.4,939.2 L1333.1,941.2 L1333.8,943.0 L1334.5,944.1 L1334.8,944.2 L1335.2,944.0 L1335.9,942.6 L1336.6,940.6 L1337.3,938.4 L1338.0,936.7 L1338.5,936.0 L1338.8,935.8 L1339.5,935.3 L1340.2,935.0 L1340.9,934.7 L1341.6,934.3 L1341.9,934.0 L1342.3,933.6 L1343.0,932.5 L1343.0,932.5 L1344.5,932.6 L1346.0,932.7 L1347.5,932.9 L1349.0,933.0 L1350.5,933.1 L1352.0,933.2 L1353.5,933.3 L1355.0,933.5 L1356.4,933.6 L1357.9,933.7 L1359.4,933.8 L1360.9,933.9 L1362.4,934.0 L1363.9,934.2 L1365.4,934.3 L1366.9,934.4 L1368.4,934.5 L1369.9,934.6 L1371.4,934.7 L1372.9,934.8 L1374.4,935.0 L1375.9,935.1 L1377.4,935.2 L1378.9,935.3 L1380.4,935.4 L1381.8,935.5 L1383.3,935.7 L1384.8,935.8 L1386.3,935.9 L1387.8,936.0 L1389.3,936.1 L1390.8,936.2 L1392.3,936.3 L1393.8,936.5 L1395.3,936.6 L1396.8,936.7 L1398.3,936.8 L1399.8,936.9 L1401.3,937.0 L1402.8,937.1 L1404.3,937.2 L1405.8,937.4 L1407.2,937.5 L1408.7,937.6 L1410.2,937.7 L1411.7,937.8 L1413.2,937.9 L1414.7,938.0 L1416.2,938.1 L1417.7,938.3 L1419.2,938.4 L1420.7,938.5 L1422.2,938.6 L1423.7,938.7 L1425.2,938.8 L1426.7,938.9 L1428.2,939.0 L1429.7,939.1 L1431.2,939.2 L1432.6,939.4 L1434.1,939.5 L1435.6,939.6 L1437.1,939.7 L1438.6,939.8 L1440.1,939.9 L1441.6,940.0 L1443.1,940.1 L1444.6,940.2 L1446.1,940.3 L1447.6,940.5 L1449.1,940.6 L1450.6,940.7 L1452.1,940.8 L1453.6,940.9 L1455.1,941.0 L1456.6,941.1 L1458.0,941.2 L1459.5,941.3 L1461.0,941.4 L1462.5,941.5 L1464.0,941.6 L1465.5,941.7 L1467.0,941.9 L1468.5,942.0 L1470.0,942.1" stroke="#f0f" stroke-width="4.2"/>
</g>
<text class="lbl" transform="translate(207 984.4) scale(1 1.04)" font-size="44.6" text-anchor="end">0.0</text>
<text class="lbl" transform="translate(207 835.6) scale(1 1.04)" font-size="44.6" text-anchor="end">0.5</text>
<text class="lbl" transform="translate(207 686.7) scale(1 1.04)" font-size="44.6" text-anchor="end">1.0</text>
<text class="lbl" transform="translate(207 537.9) scale(1 1.04)" font-size="44.6" text-anchor="end">1.5</text>
<text class="lbl" transform="translate(207 389.1) scale(1 1.04)" font-size="44.6" text-anchor="end">2.0</text>
<text class="lbl" transform="translate(207 240.2) scale(1 1.04)" font-size="44.6" text-anchor="end">2.5</text>
<text class="lbl" transform="translate(207 91.4) scale(1 1.04)" font-size="44.6" text-anchor="end">3.0</text>
<text class="lbl" transform="translate(237.5 1037.2) scale(1 1.02)" font-size="45" text-anchor="middle">300</text>
<text class="lbl" transform="translate(545.2 1037.2) scale(1 1.02)" font-size="45" text-anchor="middle">400</text>
<text class="lbl" transform="translate(853 1037.2) scale(1 1.02)" font-size="45" text-anchor="middle">500</text>
<text class="lbl" transform="translate(1160.8 1037.2) scale(1 1.02)" font-size="45" text-anchor="middle">600</text>
<text class="lbl" transform="translate(1468.5 1037.2) scale(1 1.02)" font-size="45" text-anchor="middle">700</text>
<text class="lbl" x="426.3" y="109" font-size="45">Leaves extract</text>
<text class="lbl" x="1435" y="718.5" font-size="88">a)</text>
<text class="lbl" x="852.8" y="1126.5" font-size="62.7" text-anchor="middle">Wavelength (nm)</text>
<text class="lbl" transform="translate(73.5,542) rotate(-90) scale(1 1.04)" font-size="64" text-anchor="middle">O.D.</text>
<rect class="key" x="958" y="130" width="103" height="3" fill="#000"/>
<text class="lbl" transform="translate(1070.8 145.6) scale(1 1.03)" font-size="45.2">0</text>
<rect class="key" x="958" y="184" width="103" height="3" fill="#f00"/>
<text class="lbl" transform="translate(1070.8 199.4) scale(1 1.03)" font-size="45.2">0.1 mM</text>
<rect class="key" x="958" y="237" width="103" height="4" fill="#0f0"/>
<text class="lbl" transform="translate(1070.8 253.3) scale(1 1.03)" font-size="45.2">0.2 mM</text>
<rect class="key" x="958" y="291" width="103" height="4" fill="#00f"/>
<text class="lbl" transform="translate(1070.8 307.1) scale(1 1.03)" font-size="45.2">0.3 mM</text>
<rect class="key" x="958" y="345" width="103" height="4" fill="#f0f"/>
<text class="lbl" transform="translate(1070.8 361) scale(1 1.03)" font-size="45.2">0.6 mM</text>
</g>
<g id="panel-b">
<g class="curves thin">
<path d="M233.7,2097.2 L234.7,2097.2 L235.7,2097.2 L236.7,2097.2 L237.7,2097.2 L238.7,2097.2 L239.7,2097.2 L240.7,2097.2 L241.7,2097.2 L242.7,2097.2 L243.7,2097.2 L244.7,2097.2 L245.7,2097.2 L246.7,2097.3 L247.7,2097.4 L248.7,2097.5 L249.7,2097.7 L250.7,2098.0 L251.7,2098.3 L252.7,2098.7 L253.7,2099.2 L254.7,2099.7 L255.7,2100.3 L256.7,2100.9 L257.7,2101.5 L258.7,2102.2 L259.7,2102.8 L260.7,2103.5 L261.7,2104.1 L262.7,2104.7 L263.7,2105.4 L264.7,2106.0 L265.7,2106.7 L266.7,2107.3 L267.7,2108.0 L268.7,2108.7 L269.7,2109.4 L270.7,2110.1 L271.7,2110.9 L272.7,2111.6 L273.7,2112.4 L274.7,2113.1 L275.7,2113.9 L276.7,2114.6 L277.7,2115.4 L278.7,2116.1 L279.7,2116.9 L280.7,2117.6 L281.7,2118.3 L282.7,2119.0 L283.7,2119.8 L284.7,2120.5 L285.7,2121.2 L286.7,2121.9 L287.7,2122.6 L288.7,2123.3 L289.7,2124.0 L290.7,2124.7 L291.7,2125.4 L292.7,2126.1 L293.7,2126.8 L294.7,2127.5 L295.7,2128.2 L296.7,2128.9 L297.7,2129.6 L298.7,2130.3 L299.7,2131.0 L300.7,2131.7 L301.7,2132.4 L302.7,2133.1 L303.7,2133.8 L304.7,2134.5 L305.7,2135.2 L306.7,2135.9 L307.7,2136.6 L308.7,2137.4 L309.7,2138.1 L310.7,2138.8 L311.7,2139.5 L312.7,2140.2 L313.7,2140.9 L314.7,2141.6 L315.7,2142.3 L316.7,2143.0 L317.7,2143.7 L318.7,2144.4 L319.7,2145.1 L320.7,2145.8 L321.7,2146.5 L322.7,2147.2 L323.7,2147.9 L324.7,2148.6 L325.7,2149.3 L326.7,2150.0 L327.7,2150.7 L328.7,2151.4 L329.7,2152.1 L330.7,2152.9 L331.7,2153.6 L332.7,2154.3 L333.7,2155.0 L334.7,2155.7 L335.7,2156.5 L336.7,2157.2 L337.7,2157.9 L338.7,2158.7 L339.7,2159.4 L340.7,2160.2 L341.7,2160.9 L342.7,2161.7 L343.7,2162.4 L344.7,2163.1 L345.7,2163.9 L346.7,2164.6 L347.7,2165.4 L348.7,2166.1 L349.7,2166.8 L350.7,2167.5 L351.7,2168.3 L352.7,2169.0 L353.7,2169.7 L354.7,2170.4 L355.7,2171.1 L356.7,2171.8 L357.7,2172.5 L358.7,2173.2 L359.7,2173.9 L360.7,2174.6 L361.7,2175.3 L362.7,2176.0 L363.7,2176.7 L364.7,2177.3 L365.7,2178.0 L366.7,2178.6 L367.7,2179.2 L368.7,2179.8 L369.7,2180.4 L370.7,2181.0 L371.7,2181.5 L372.7,2182.1 L373.7,2182.6 L374.7,2183.1 L375.7,2183.6 L376.7,2184.1 L377.7,2184.5 L378.7,2185.0 L379.7,2185.4 L380.7,2185.8 L381.7,2186.2 L382.7,2186.6 L383.7,2187.0 L384.7,2187.3 L385.7,2187.6 L386.7,2187.9 L387.7,2188.1 L388.7,2188.4 L389.7,2188.6 L390.7,2188.9 L391.7,2189.1 L392.7,2189.3 L393.7,2189.5 L394.7,2189.7 L395.7,2189.8 L396.7,2190.0 L397.7,2190.1 L398.7,2190.1 L399.7,2190.2 L400.7,2190.2 L401.7,2190.2 L402.7,2190.2 L403.7,2190.2 L404.7,2190.2 L405.7,2190.1 L406.7,2190.1 L407.7,2190.0 L408.7,2190.0 L409.7,2189.9 L410.7,2189.9 L411.7,2189.8 L412.7,2189.8 L413.7,2189.7 L414.7,2189.7 L415.7,2189.7 L416.7,2189.7 L417.7,2189.7 L418.7,2189.7 L419.7,2189.7 L420.7,2189.8 L421.7,2189.8 L422.7,2189.9 L423.7,2190.0 L424.7,2190.2 L425.7,2190.3 L426.7,2190.4 L427.7,2190.6 L428.7,2190.8 L429.7,2190.9 L430.7,2191.1 L431.7,2191.3 L432.7,2191.5 L433.7,2191.7 L434.7,2191.9 L435.7,2192.1 L436.7,2192.4 L437.7,2192.7 L438.7,2192.9 L439.7,2193.2 L440.7,2193.5 L441.7,2193.8 L442.7,2194.0 L443.7,2194.3 L444.7,2194.5 L445.7,2194.7 L446.7,2194.9 L447.7,2195.0 L448.7,2195.1 L449.7,2195.2 L450.7,2195.2 L451.7,2195.3 L452.7,2195.3 L453.7,2195.3 L454.7,2195.2 L455.7,2195.2 L456.7,2195.2 L457.7,2195.2 L458.7,2195.1 L459.7,2195.1 L460.7,2195.1 L461.7,2195.0 L462.7,2194.9 L463.7,2194.9 L464.7,2194.8 L465.7,2194.6 L466.7,2194.4 L467.7,2194.2 L468.7,2193.9 L469.7,2193.5 L470.7,2193.1 L471.7,2192.7 L472.7,2192.2 L473.7,2191.7 L474.7,2191.1 L475.7,2190.6 L476.7,2190.0 L477.7,2189.4 L478.7,2188.8 L479.7,2188.1 L480.7,2187.4 L481.7,2186.6 L482.7,2185.8 L483.7,2184.9 L484.7,2184.0 L485.7,2183.1 L486.7,2182.1 L487.7,2181.1 L488.7,2180.1 L489.7,2179.2 L490.7,2178.2 L491.7,2177.3 L492.7,2176.3 L493.7,2175.4 L494.7,2174.5 L495.7,2173.7 L496.7,2172.8 L497.7,2171.9 L498.7,2171.1 L499.7,2170.2 L500.7,2169.3 L501.7,2168.5 L502.7,2167.6 L503.7,2166.8 L504.7,2166.0 L505.7,2165.2 L506.7,2164.3 L507.7,2163.5 L508.7,2162.7 L509.7,2161.9 L510.7,2161.1 L511.7,2160.3 L512.7,2159.5 L513.7,2158.8 L514.7,2158.0 L515.7,2157.2 L516.7,2156.4 L517.7,2155.7 L518.7,2154.9 L519.7,2154.2 L520.7,2153.5 L521.7,2152.8 L522.7,2152.0 L523.7,2151.4 L524.7,2150.7 L525.7,2150.0 L526.7,2149.3 L527.7,2148.7 L528.7,2148.1 L529.7,2147.4 L530.7,2146.8 L531.7,2146.2 L532.7,2145.6 L533.7,2145.0 L534.7,2144.4 L535.7,2143.8 L536.7,2143.2 L537.7,2142.7 L538.7,2142.1 L539.7,2141.5 L540.7,2141.0 L541.7,2140.4 L542.7,2139.9 L543.7,2139.3 L544.7,2138.8 L545.7,2138.2 L546.7,2137.7 L547.7,2137.2 L548.7,2136.7 L549.7,2136.2 L550.7,2135.7 L551.7,2135.1 L552.7,2134.6 L553.7,2134.1 L554.7,2133.6 L555.7,2133.2 L556.7,2132.7 L557.7,2132.2 L558.7,2131.7 L559.7,2131.2 L560.7,2130.7 L561.7,2130.3 L562.7,2129.8 L563.7,2129.3 L564.7,2128.8 L565.7,2128.4 L566.7,2127.9 L567.7,2127.4 L568.7,2127.0 L569.7,2126.5 L570.7,2126.1 L571.7,2125.6 L572.7,2125.2 L573.7,2124.7 L574.7,2124.3 L575.7,2123.8 L576.7,2123.4 L577.7,2123.0 L578.7,2122.5 L579.7,2122.1 L580.7,2121.6 L581.7,2121.2 L582.7,2120.7 L583.7,2120.3 L584.7,2119.8 L585.7,2119.4 L586.7,2118.9 L587.7,2118.4 L588.7,2118.0 L589.7,2117.5 L590.7,2117.1 L591.7,2116.6 L592.7,2116.1 L593.7,2115.7 L594.7,2115.2 L595.7,2114.7 L596.7,2114.3 L597.7,2113.8 L598.7,2113.3 L599.7,2112.9 L600.7,2112.4 L601.7,2111.9 L602.7,2111.5 L603.7,2111.0 L604.7,2110.6 L605.7,2110.1 L606.7,2109.7 L607.7,2109.2 L608.7,2108.8 L609.7,2108.3 L610.7,2107.9 L611.7,2107.4 L612.7,2107.0 L613.7,2106.5 L614.7,2106.1 L615.7,2105.6 L616.7,2105.2 L617.7,2104.7 L618.7,2104.3 L619.7,2103.9 L620.7,2103.4 L621.7,2103.0 L622.7,2102.5 L623.7,2102.1 L624.7,2101.7 L625.7,2101.2 L626.7,2100.8 L627.7,2100.4 L628.7,2100.0 L629.7,2099.5 L630.7,2099.1 L631.7,2098.7 L632.7,2098.3 L633.7,2097.9 L634.7,2097.4 L635.7,2097.0 L636.7,2096.6 L637.7,2096.2 L638.7,2095.8 L639.7,2095.4 L640.7,2095.0 L641.7,2094.6 L642.7,2094.2 L643.7,2093.8 L644.7,2093.4 L645.7,2093.0 L646.7,2092.6 L647.7,2092.2 L648.7,2091.8 L649.7,2091.4 L650.7,2090.9 L651.7,2090.5 L652.7,2090.1 L653.7,2089.7 L654.7,2089.3 L655.7,2088.8 L656.7,2088.4 L657.7,2088.0 L658.7,2087.5 L659.7,2087.1 L660.7,2086.7 L661.7,2086.3 L662.7,2085.8 L663.7,2085.4 L664.7,2085.0 L665.7,2084.6 L666.7,2084.1 L667.7,2083.7 L668.7,2083.3 L669.7,2082.9 L670.7,2082.5 L671.7,2082.2 L672.7,2081.8 L673.7,2081.4 L674.7,2081.0 L675.7,2080.6 L676.7,2080.3 L677.7,2079.9 L678.7,2079.5 L679.7,2079.2 L680.7,2078.8 L681.7,2078.5 L682.7,2078.1 L683.7,2077.8 L684.7,2077.4 L685.7,2077.1 L686.7,2076.8 L687.7,2076.4 L688.7,2076.1 L689.7,2075.8 L690.7,2075.6 L691.7,2075.3 L692.7,2075.0 L693.7,2074.8 L694.7,2074.5 L695.7,2074.3 L696.7,2074.0 L697.7,2073.8 L698.7,2073.6 L699.7,2073.4 L700.7,2073.1 L701.7,2072.9 L702.7,2072.7 L703.7,2072.5 L704.7,2072.3 L705.7,2072.1 L706.7,2071.9 L707.7,2071.8 L708.7,2071.6 L709.7,2071.4 L710.7,2071.3 L711.7,2071.2 L712.7,2071.1 L713.7,2071.0 L714.7,2070.9 L715.7,2070.8 L716.7,2070.7 L717.7,2070.7 L718.7,2070.6 L719.7,2070.5 L720.7,2070.5 L721.7,2070.4 L722.7,2070.4 L723.7,2070.3 L724.7,2070.3 L725.7,2070.3 L726.7,2070.2 L727.7,2070.2 L728.7,2070.2 L729.7,2070.1 L730.7,2070.1 L731.7,2070.1 L732.7,2070.1 L733.7,2070.1 L734.7,2070.2 L735.7,2070.2 L736.7,2070.3 L737.7,2070.3 L738.7,2070.4 L739.7,2070.5 L740.7,2070.6 L741.7,2070.7 L742.7,2070.8 L743.7,2070.9 L744.7,2071.1 L745.7,2071.2 L746.7,2071.3 L747.7,2071.5 L748.7,2071.6 L749.7,2071.8 L750.7,2071.9 L751.7,2072.1 L752.7,2072.2 L753.7,2072.4 L754.7,2072.6 L755.7,2072.8 L756.7,2073.0 L757.7,2073.2 L758.7,2073.4 L759.7,2073.7 L760.7,2073.9 L761.7,2074.2 L762.7,2074.5 L763.7,2074.7 L764.7,2075.0 L765.7,2075.3 L766.7,2075.6 L767.7,2075.9 L768.7,2076.2 L769.7,2076.5 L770.7,2076.8 L771.7,2077.1 L772.7,2077.4 L773.7,2077.8 L774.7,2078.1 L775.7,2078.5 L776.7,2078.8 L777.7,2079.2 L778.7,2079.6 L779.7,2080.0 L780.7,2080.4 L781.7,2080.9 L782.7,2081.3 L783.7,2081.7 L784.7,2082.2 L785.7,2082.6 L786.7,2083.1 L787.7,2083.5 L788.7,2084.0 L789.7,2084.4 L790.7,2084.9 L791.7,2085.3 L792.7,2085.8 L793.7,2086.2 L794.7,2086.7 L795.7,2087.1 L796.7,2087.6 L797.7,2088.0 L798.7,2088.5 L799.7,2089.0 L800.7,2089.4 L801.7,2089.9 L802.7,2090.4 L803.7,2090.8 L804.7,2091.3 L805.7,2091.8 L806.7,2092.3 L807.7,2092.8 L808.7,2093.2 L809.7,2093.7 L810.7,2094.2 L811.7,2094.7 L812.7,2095.1 L813.7,2095.6 L814.7,2096.1 L815.7,2096.6 L816.7,2097.1 L817.7,2097.5 L818.7,2098.0 L819.7,2098.5 L820.7,2099.0 L821.7,2099.5 L822.7,2100.0 L823.7,2100.5 L824.7,2100.9 L825.7,2101.4 L826.7,2101.9 L827.7,2102.4 L828.7,2102.9 L829.7,2103.4 L830.7,2103.9 L831.7,2104.3 L832.7,2104.8 L833.7,2105.3 L834.7,2105.8 L835.7,2106.2 L836.7,2106.7 L837.7,2107.2 L838.7,2107.7 L839.7,2108.1 L840.7,2108.6 L841.7,2109.0 L842.7,2109.5 L843.7,2109.9 L844.7,2110.4 L845.7,2110.9 L846.7,2111.3 L847.7,2111.8 L848.7,2112.2 L849.7,2112.7 L850.7,2113.1 L851.7,2113.6 L852.7,2114.1 L853.7,2114.5 L854.7,2115.0 L855.7,2115.5 L856.7,2116.0 L857.7,2116.5 L858.7,2117.0 L859.7,2117.5 L860.7,2118.0 L861.7,2118.6 L862.7,2119.1 L863.7,2119.7 L864.7,2120.2 L865.7,2120.7 L866.7,2121.3 L867.7,2121.8 L868.7,2122.3 L869.7,2122.8 L870.7,2123.3 L871.7,2123.7 L872.7,2124.2 L873.7,2124.6 L874.7,2125.0 L875.7,2125.4 L876.7,2125.7 L877.7,2126.1 L878.7,2126.4 L879.7,2126.8 L880.7,2127.1 L881.7,2127.4 L882.7,2127.7 L883.7,2128.0 L884.7,2128.3 L885.7,2128.7 L886.7,2129.0 L887.7,2129.3 L888.7,2129.6 L889.7,2129.9 L890.7,2130.3 L891.7,2130.6 L892.7,2131.0 L893.7,2131.3 L894.7,2131.6 L895.7,2132.0 L896.7,2132.3 L897.7,2132.7 L898.7,2133.0 L899.7,2133.3 L900.7,2133.7 L901.7,2134.0 L902.7,2134.3 L903.7,2134.7 L904.7,2135.0 L905.7,2135.3 L906.7,2135.7 L907.7,2136.0 L908.7,2136.3 L909.7,2136.6 L910.7,2136.9 L911.7,2137.3 L912.7,2137.6 L913.7,2137.9 L914.7,2138.2 L915.7,2138.5 L916.7,2138.8 L917.7,2139.1 L918.7,2139.4 L919.7,2139.7 L920.7,2140.0 L921.7,2140.3 L922.7,2140.6 L923.7,2140.9 L924.7,2141.2 L925.7,2141.4 L926.7,2141.7 L927.7,2142.0 L928.7,2142.3 L929.7,2142.5 L930.7,2142.8 L931.7,2143.1 L932.7,2143.3 L933.7,2143.6 L934.7,2143.8 L935.7,2144.1 L936.7,2144.3 L937.7,2144.6 L938.7,2144.8 L939.7,2145.1 L940.7,2145.3 L941.7,2145.6 L942.7,2145.8 L943.7,2146.1 L944.7,2146.3 L945.7,2146.6 L946.7,2146.8 L947.7,2147.0 L948.7,2147.3 L949.7,2147.5 L950.7,2147.8 L951.7,2148.0 L952.7,2148.2 L953.7,2148.5 L954.7,2148.7 L955.7,2148.9 L956.7,2149.2 L957.7,2149.4 L958.7,2149.6 L959.7,2149.8 L960.7,2150.1 L961.7,2150.3 L962.7,2150.5 L963.7,2150.7 L964.7,2151.0 L965.7,2151.2 L966.7,2151.4 L967.7,2151.6 L968.7,2151.8 L969.7,2152.1 L970.7,2152.3 L971.7,2152.5 L972.7,2152.7 L973.7,2152.9 L974.7,2153.1 L975.7,2153.3 L976.7,2153.5 L977.7,2153.8 L978.7,2154.0 L979.7,2154.2 L980.7,2154.4 L981.7,2154.6 L982.7,2154.8 L983.7,2155.1 L984.7,2155.3 L985.7,2155.5 L986.7,2155.8 L987.7,2156.0 L988.7,2156.2 L989.7,2156.5 L990.7,2156.7 L991.7,2157.0 L992.7,2157.2 L993.7,2157.5 L994.7,2157.8 L995.7,2158.0 L996.7,2158.3 L997.7,2158.5 L998.7,2158.8 L999.7,2159.0 L1000.7,2159.3 L1001.7,2159.5 L1002.7,2159.8 L1003.7,2160.0 L1004.7,2160.2 L1005.7,2160.5 L1006.7,2160.7 L1007.7,2160.9 L1008.7,2161.2 L1009.7,2161.4 L1010.7,2161.6 L1011.7,2161.8 L1012.7,2162.0 L1013.7,2162.2 L1014.7,2162.4 L1015.7,2162.6 L1016.7,2162.8 L1017.7,2163.0 L1018.7,2163.2 L1019.7,2163.4 L1020.7,2163.6 L1021.7,2163.8 L1022.7,2164.0 L1023.7,2164.2 L1024.7,2164.4 L1025.7,2164.6 L1026.7,2164.8 L1027.7,2165.0 L1028.7,2165.2 L1029.7,2165.4 L1030.7,2165.7 L1031.7,2165.9 L1032.7,2166.1 L1033.7,2166.3 L1034.7,2166.5 L1035.7,2166.8 L1036.7,2167.0 L1037.7,2167.2 L1038.7,2167.5 L1039.7,2167.7 L1040.7,2167.9 L1041.7,2168.2 L1042.7,2168.4 L1043.7,2168.6 L1044.7,2168.8 L1045.7,2169.1 L1046.7,2169.3 L1047.7,2169.5 L1048.7,2169.7 L1049.7,2169.9 L1050.7,2170.1 L1051.7,2170.4 L1052.7,2170.6 L1053.7,2170.8 L1054.7,2171.0 L1055.7,2171.2 L1056.7,2171.4 L1057.7,2171.6 L1058.7,2171.8 L1059.7,2172.0 L1060.7,2172.2 L1061.7,2172.3 L1062.7,2172.5 L1063.7,2172.7 L1064.7,2172.9 L1065.7,2173.1 L1066.7,2173.3 L1067.7,2173.5 L1068.7,2173.7 L1069.7,2173.9 L1070.7,2174.1 L1071.7,2174.3 L1072.7,2174.5 L1073.7,2174.7 L1074.7,2174.9 L1075.7,2175.1 L1076.7,2175.3 L1077.7,2175.5 L1078.7,2175.7 L1079.7,2175.9 L1080.7,2176.1 L1081.7,2176.3 L1082.7,2176.5 L1083.7,2176.7 L1084.7,2176.9 L1085.7,2177.1 L1086.7,2177.3 L1087.7,2177.5 L1088.7,2177.7 L1089.7,2177.9 L1090.7,2178.1 L1091.7,2178.3 L1092.7,2178.5 L1093.7,2178.7 L1094.7,2178.9 L1095.7,2179.1 L1096.7,2179.3 L1097.7,2179.5 L1098.7,2179.7 L1099.7,2179.9 L1100.7,2180.1 L1101.7,2180.3 L1102.7,2180.5 L1103.7,2180.7 L1104.7,2180.9 L1105.7,2181.1 L1106.7,2181.3 L1107.7,2181.5 L1108.7,2181.7 L1109.7,2181.9 L1110.7,2182.2 L1111.7,2182.4 L1112.7,2182.6 L1113.7,2182.9 L1114.7,2183.1 L1115.7,2183.4 L1116.7,2183.6 L1117.7,2183.8 L1118.7,2184.1 L1119.7,2184.3 L1120.7,2184.6 L1121.7,2184.8 L1122.7,2185.0 L1123.7,2185.3 L1124.7,2185.5 L1125.7,2185.7 L1126.7,2185.9 L1127.7,2186.1 L1128.7,2186.3 L1129.7,2186.5 L1130.7,2186.7 L1131.7,2186.8 L1132.7,2187.0 L1133.7,2187.2 L1134.7,2187.3 L1135.7,2187.5 L1136.7,2187.6 L1137.7,2187.8 L1138.7,2187.9 L1139.7,2188.0 L1140.7,2188.2 L1141.7,2188.3 L1142.7,2188.4 L1143.7,2188.6 L1144.7,2188.7 L1145.7,2188.8 L1146.7,2189.0 L1147.7,2189.1 L1148.7,2189.2 L1149.7,2189.3 L1150.7,2189.5 L1151.7,2189.6 L1152.7,2189.8 L1153.7,2189.9 L1154.7,2190.1 L1155.7,2190.2 L1156.7,2190.4 L1157.7,2190.5 L1158.7,2190.7 L1159.7,2190.8 L1160.7,2191.0 L1161.7,2191.2 L1162.7,2191.3 L1163.7,2191.5 L1164.7,2191.7 L1165.7,2191.9 L1166.7,2192.0 L1167.7,2192.2 L1168.7,2192.4 L1169.7,2192.6 L1170.7,2192.8 L1171.7,2193.0 L1172.7,2193.1 L1173.7,2193.3 L1174.7,2193.5 L1175.7,2193.8 L1176.7,2194.0 L1177.7,2194.2 L1178.7,2194.4 L1179.7,2194.6 L1180.7,2194.9 L1181.7,2195.1 L1182.7,2195.4 L1183.7,2195.6 L1184.7,2195.9 L1185.7,2196.1 L1186.7,2196.4 L1187.7,2196.7 L1188.7,2196.9 L1189.7,2197.2 L1190.7,2197.4 L1191.7,2197.7 L1192.7,2198.0 L1193.7,2198.2 L1194.7,2198.5 L1195.7,2198.7 L1196.7,2198.9 L1197.7,2199.2 L1198.7,2199.4 L1199.7,2199.6 L1200.7,2199.9 L1201.7,2200.1 L1202.7,2200.4 L1203.7,2200.6 L1204.7,2200.8 L1205.7,2201.0 L1206.7,2201.3 L1207.7,2201.5 L1208.7,2201.7 L1209.7,2201.9 L1210.7,2202.1 L1211.7,2202.3 L1212.7,2202.5 L1213.7,2202.7 L1214.7,2202.9 L1215.7,2203.1 L1216.7,2203.3 L1217.7,2203.4 L1218.7,2203.6 L1219.7,2203.7 L1220.7,2203.9 L1221.7,2204.0 L1222.7,2204.2 L1223.7,2204.3 L1224.7,2204.5 L1225.7,2204.6 L1226.7,2204.7 L1227.7,2204.9 L1228.7,2205.0 L1229.7,2205.2 L1230.7,2205.3 L1231.7,2205.5 L1232.7,2205.6 L1233.7,2205.8 L1234.7,2205.9 L1235.7,2206.1 L1236.7,2206.3 L1237.7,2206.5 L1238.7,2206.7 L1239.7,2206.9 L1240.7,2207.1 L1241.7,2207.3 L1242.7,2207.5 L1243.7,2207.7 L1244.7,2207.9 L1245.7,2208.1 L1246.7,2208.3 L1247.7,2208.5 L1248.7,2208.7 L1249.7,2208.9 L1250.7,2209.1 L1251.7,2209.3 L1252.7,2209.5 L1253.7,2209.7 L1254.7,2209.9 L1255.7,2210.1 L1256.7,2210.3 L1257.7,2210.5 L1258.7,2210.7 L1259.7,2210.9 L1260.7,2211.0 L1261.7,2211.2 L1262.7,2211.4 L1263.7,2211.6 L1264.7,2211.8 L1265.7,2212.0 L1266.7,2212.2 L1267.7,2212.4 L1268.7,2212.6 L1269.7,2212.8 L1270.7,2213.0 L1271.7,2213.1 L1272.7,2213.3 L1273.7,2213.5 L1274.7,2213.7 L1275.7,2213.9 L1276.7,2214.1 L1277.7,2214.3 L1278.7,2214.6 L1279.7,2214.8 L1280.7,2215.0 L1281.7,2215.2 L1282.7,2215.4 L1283.7,2215.6 L1284.7,2215.8 L1285.7,2216.0 L1286.7,2216.1 L1287.7,2216.3 L1288.7,2216.5 L1289.7,2216.7 L1290.7,2216.9 L1291.7,2217.0 L1292.7,2217.2 L1293.7,2217.4 L1294.7,2217.5 L1295.7,2217.7 L1296.7,2217.9 L1297.7,2218.0 L1298.7,2218.2 L1299.7,2218.4 L1300.7,2218.6 L1301.7,2218.8 L1302.7,2219.0 L1303.7,2219.2 L1304.7,2219.4 L1305.7,2219.6 L1306.7,2219.9 L1307.7,2220.1 L1308.7,2220.4 L1309.7,2220.6 L1310.7,2220.9 L1311.7,2221.1 L1312.7,2221.4 L1313.7,2221.7 L1314.7,2222.0 L1315.7,2222.3 L1316.7,2222.6 L1317.7,2222.9 L1318.0,2223.0" stroke="#000" stroke-width="2.25"/>
<path d="M233.7,1853.6 L234.7,1854.1 L235.7,1854.5 L236.7,1855.0 L237.7,1855.5 L238.7,1856.1 L239.7,1856.6 L240.7,1857.2 L241.7,1857.8 L242.7,1858.4 L243.7,1859.0 L244.7,1859.7 L245.7,1860.3 L246.7,1861.0 L247.7,1861.7 L248.7,1862.5 L249.7,1863.2 L250.7,1864.0 L251.7,1864.7 L252.7,1865.6 L253.7,1866.4 L254.7,1867.3 L255.7,1868.2 L256.7,1869.1 L257.7,1870.1 L258.7,1871.1 L259.7,1872.1 L260.7,1873.1 L261.7,1874.2 L262.7,1875.2 L263.7,1876.3 L264.7,1877.4 L265.7,1878.5 L266.7,1879.5 L267.7,1880.6 L268.7,1881.7 L269.7,1882.7 L270.7,1883.8 L271.7,1884.8 L272.7,1885.9 L273.7,1886.9 L274.7,1888.0 L275.7,1889.1 L276.7,1890.1 L277.7,1891.2 L278.7,1892.3 L279.7,1893.4 L280.7,1894.5 L281.7,1895.7 L282.7,1896.8 L283.7,1898.0 L284.7,1899.2 L285.7,1900.4 L286.7,1901.6 L287.7,1902.8 L288.7,1904.1 L289.7,1905.4 L290.7,1906.7 L291.7,1908.0 L292.7,1909.4 L293.7,1910.7 L294.7,1912.1 L295.7,1913.5 L296.7,1915.0 L297.7,1916.4 L298.7,1917.8 L299.7,1919.3 L300.7,1920.8 L301.7,1922.2 L302.7,1923.7 L303.7,1925.2 L304.7,1926.7 L305.7,1928.2 L306.7,1929.8 L307.7,1931.3 L308.7,1932.9 L309.7,1934.5 L310.7,1936.1 L311.7,1937.7 L312.7,1939.3 L313.7,1940.9 L314.7,1942.6 L315.7,1944.2 L316.7,1945.8 L317.7,1947.4 L318.7,1949.0 L319.7,1950.6 L320.7,1952.2 L321.7,1953.7 L322.7,1955.3 L323.7,1956.8 L324.7,1958.4 L325.7,1959.9 L326.7,1961.4 L327.7,1962.9 L328.7,1964.4 L329.7,1965.8 L330.7,1967.3 L331.7,1968.8 L332.7,1970.3 L333.7,1971.7 L334.7,1973.2 L335.7,1974.6 L336.7,1976.1 L337.7,1977.5 L338.7,1979.0 L339.7,1980.4 L340.7,1981.9 L341.7,1983.3 L342.7,1984.7 L343.7,1986.2 L344.7,1987.6 L345.7,1989.0 L346.7,1990.4 L347.7,1991.8 L348.7,1993.2 L349.7,1994.7 L350.7,1996.0 L351.7,1997.4 L352.7,1998.8 L353.7,2000.2 L354.7,2001.6 L355.7,2003.0 L356.7,2004.3 L357.7,2005.7 L358.7,2007.1 L359.7,2008.5 L360.7,2009.9 L361.7,2011.2 L362.7,2012.6 L363.7,2013.9 L364.7,2015.3 L365.7,2016.6 L366.7,2017.8 L367.7,2019.1 L368.7,2020.3 L369.7,2021.5 L370.7,2022.7 L371.7,2023.8 L372.7,2025.0 L373.7,2026.1 L374.7,2027.1 L375.7,2028.2 L376.7,2029.2 L377.7,2030.2 L378.7,2031.2 L379.7,2032.2 L380.7,2033.1 L381.7,2034.0 L382.7,2034.8 L383.7,2035.5 L384.7,2036.3 L385.7,2037.0 L386.7,2037.6 L387.7,2038.2 L388.7,2038.8 L389.7,2039.3 L390.7,2039.9 L391.7,2040.4 L392.7,2040.9 L393.7,2041.3 L394.7,2041.7 L395.7,2042.0 L396.7,2042.3 L397.7,2042.6 L398.7,2042.8 L399.7,2042.9 L400.7,2042.9 L401.7,2043.0 L402.7,2042.9 L403.7,2042.8 L404.7,2042.7 L405.7,2042.6 L406.7,2042.4 L407.7,2042.2 L408.7,2042.0 L409.7,2041.7 L410.7,2041.5 L411.7,2041.2 L412.7,2040.9 L413.7,2040.6 L414.7,2040.3 L415.7,2040.0 L416.7,2039.6 L417.7,2039.3 L418.7,2038.9 L419.7,2038.5 L420.7,2038.0 L421.7,2037.5 L422.7,2037.0 L423.7,2036.5 L424.7,2036.0 L425.7,2035.5 L426.7,2034.9 L427.7,2034.3 L428.7,2033.7 L429.7,2033.2 L430.7,2032.6 L431.7,2032.0 L432.7,2031.3 L433.7,2030.7 L434.7,2030.1 L435.7,2029.4 L436.7,2028.8 L437.7,2028.1 L438.7,2027.4 L439.7,2026.7 L440.7,2025.9 L441.7,2025.2 L442.7,2024.4 L443.7,2023.6 L444.7,2022.8 L445.7,2022.0 L446.7,2021.1 L447.7,2020.2 L448.7,2019.3 L449.7,2018.4 L450.7,2017.4 L451.7,2016.4 L452.7,2015.3 L453.7,2014.2 L454.7,2013.1 L455.7,2011.9 L456.7,2010.7 L457.7,2009.4 L458.7,2008.2 L459.7,2006.9 L460.7,2005.7 L461.7,2004.5 L462.7,2003.3 L463.7,2002.1 L464.7,2000.9 L465.7,1999.7 L466.7,1998.6 L467.7,1997.3 L468.7,1996.0 L469.7,1994.7 L470.7,1993.2 L471.7,1991.6 L472.7,1989.9 L473.7,1988.1 L474.7,1986.3 L475.7,1984.4 L476.7,1982.4 L477.7,1980.4 L478.7,1978.4 L479.7,1976.4 L480.7,1974.4 L481.7,1972.4 L482.7,1970.4 L483.7,1968.4 L484.7,1966.3 L485.7,1964.2 L486.7,1962.0 L487.7,1959.9 L488.7,1957.7 L489.7,1955.4 L490.7,1953.2 L491.7,1950.9 L492.7,1948.6 L493.7,1946.3 L494.7,1944.0 L495.7,1941.7 L496.7,1939.4 L497.7,1937.2 L498.7,1934.9 L499.7,1932.6 L500.7,1930.3 L501.7,1928.0 L502.7,1925.7 L503.7,1923.4 L504.7,1921.1 L505.7,1918.8 L506.7,1916.5 L507.7,1914.2 L508.7,1911.9 L509.7,1909.7 L510.7,1907.4 L511.7,1905.1 L512.7,1902.8 L513.7,1900.5 L514.7,1898.2 L515.7,1895.9 L516.7,1893.5 L517.7,1891.1 L518.7,1888.6 L519.7,1886.1 L520.7,1883.5 L521.7,1880.9 L522.7,1878.3 L523.7,1875.6 L524.7,1873.0 L525.7,1870.3 L526.7,1867.6 L527.7,1865.0 L528.7,1862.3 L529.7,1859.6 L530.7,1857.0 L531.7,1854.3 L532.7,1851.7 L533.7,1849.0 L534.7,1846.3 L535.7,1843.7 L536.7,1841.0 L537.7,1838.3 L538.7,1835.6 L539.7,1832.9 L540.7,1830.2 L541.7,1827.4 L542.7,1824.7 L543.7,1821.9 L544.7,1819.1 L545.7,1816.4 L546.7,1813.6 L547.7,1810.9 L548.7,1808.1 L549.7,1805.3 L550.7,1802.5 L551.7,1799.5 L552.7,1796.6 L553.7,1793.6 L554.7,1790.7 L555.7,1787.7 L556.7,1784.9 L557.7,1782.0 L558.7,1779.2 L559.7,1776.3 L560.7,1773.5 L561.7,1770.5 L562.7,1767.5 L563.7,1764.4 L564.7,1761.3 L565.7,1758.1 L566.7,1754.9 L567.7,1751.7 L568.7,1748.5 L569.7,1745.3 L570.7,1742.1 L571.7,1738.9 L572.7,1735.6 L573.7,1732.3 L574.7,1729.0 L575.7,1725.6 L576.7,1722.2 L577.7,1718.8 L578.7,1715.5 L579.7,1712.3 L580.7,1709.1 L581.7,1705.9 L582.7,1702.8 L583.7,1699.6 L584.7,1696.4 L585.7,1693.2 L586.7,1689.8 L587.7,1686.3 L588.7,1682.8 L589.7,1679.3 L590.7,1675.8 L591.7,1672.2 L592.7,1668.7 L593.7,1665.3 L594.7,1662.0 L595.7,1658.7 L596.7,1655.6 L597.7,1652.6 L598.7,1649.6 L599.7,1646.6 L600.7,1643.5 L601.7,1640.1 L602.7,1636.6 L603.7,1633.0 L604.7,1628.8 L605.7,1624.3 L606.7,1620.3 L607.7,1616.6 L608.7,1613.3 L609.7,1610.4 L610.7,1608.1 L611.7,1606.5 L617.1,1587.9 L621.8,1573.0 L625.5,1571.2 L626.5,1560.0 L627.7,1553.7 L633.0,1543.0 L638.3,1528.8 L640.8,1521.0 L643.7,1533.1 L649.0,1511.0 L654.3,1486.9 L657.2,1495.1 L660.7,1492.6 L668.5,1492.6 L670.3,1475.5 L673.9,1470.2 L679.2,1472.7 L684.5,1473.7 L687.0,1489.0 L692.7,1473.7 L698.0,1465.9 L702.3,1477.3 L705.8,1493.3 L708.7,1509.3 L711.2,1513.5 L714.0,1503.2 L718.3,1507.5 L722.9,1518.2 L723.7,1520.0 L725.6,1531.2 L731.2,1544.2 L734.9,1559.1 L739.6,1575.9 L744.2,1583.3 L747.0,1600.1 L750.7,1615.0 L751.7,1616.4 L752.7,1618.7 L753.7,1621.7 L754.7,1625.1 L755.7,1628.9 L756.7,1633.5 L757.7,1638.2 L758.7,1642.3 L759.7,1646.4 L760.7,1650.4 L761.7,1654.2 L762.7,1657.9 L763.7,1661.5 L764.7,1665.0 L765.7,1668.5 L766.7,1672.1 L767.7,1675.7 L768.7,1679.3 L769.7,1682.9 L770.7,1686.5 L771.7,1690.2 L772.7,1694.0 L773.7,1697.9 L774.7,1701.9 L775.7,1706.1 L776.7,1710.4 L777.7,1714.7 L778.7,1718.9 L779.7,1723.1 L780.7,1727.2 L781.7,1731.1 L782.7,1735.0 L783.7,1738.7 L784.7,1742.5 L785.7,1746.2 L786.7,1750.0 L787.7,1753.8 L788.7,1757.6 L789.7,1761.5 L790.7,1765.3 L791.7,1769.1 L792.7,1772.8 L793.7,1776.5 L794.7,1780.0 L795.7,1783.4 L796.7,1786.7 L797.7,1789.9 L798.7,1793.2 L799.7,1796.4 L800.7,1799.7 L801.7,1803.1 L802.7,1806.6 L803.7,1810.2 L804.7,1813.9 L805.7,1817.5 L806.7,1821.0 L807.7,1824.5 L808.7,1827.7 L809.7,1830.9 L810.7,1833.9 L811.7,1836.8 L812.7,1839.6 L813.7,1842.4 L814.7,1845.2 L815.7,1847.9 L816.7,1850.7 L817.7,1853.5 L818.7,1856.3 L819.7,1859.2 L820.7,1862.1 L821.7,1865.0 L822.7,1867.8 L823.7,1870.6 L824.7,1873.4 L825.7,1876.0 L826.7,1878.7 L827.7,1881.3 L828.7,1883.9 L829.7,1886.4 L830.7,1889.0 L831.7,1891.6 L832.7,1894.2 L833.7,1896.7 L834.7,1899.3 L835.7,1901.9 L836.7,1904.5 L837.7,1907.1 L838.7,1909.6 L839.7,1912.2 L840.7,1914.7 L841.7,1917.2 L842.7,1919.6 L843.7,1922.0 L844.7,1924.4 L845.7,1926.7 L846.7,1929.0 L847.7,1931.2 L848.7,1933.5 L849.7,1935.7 L850.7,1937.9 L851.7,1940.2 L852.7,1942.4 L853.7,1944.7 L854.7,1947.0 L855.7,1949.2 L856.7,1951.5 L857.7,1953.7 L858.7,1955.9 L859.7,1958.2 L860.7,1960.4 L861.7,1962.6 L862.7,1964.9 L863.7,1967.3 L864.7,1969.7 L865.7,1972.1 L866.7,1974.6 L867.7,1977.1 L868.7,1979.6 L869.7,1982.1 L870.7,1984.4 L871.7,1986.6 L872.7,1988.6 L873.7,1990.5 L874.7,1992.2 L875.7,1993.7 L876.7,1995.2 L877.7,1996.6 L878.7,1998.1 L879.7,1999.7 L880.7,2001.4 L881.7,2003.2 L882.7,2005.2 L883.7,2007.2 L884.7,2009.2 L885.7,2011.2 L886.7,2013.2 L887.7,2015.2 L888.7,2017.0 L889.7,2018.7 L890.7,2020.4 L891.7,2021.9 L892.7,2023.4 L893.7,2024.8 L894.7,2026.2 L895.7,2027.5 L896.7,2028.8 L897.7,2030.1 L898.7,2031.4 L899.7,2032.6 L900.7,2033.8 L901.7,2035.0 L902.7,2036.3 L903.7,2037.5 L904.7,2038.7 L905.7,2040.0 L906.7,2041.3 L907.7,2042.6 L908.7,2043.9 L909.7,2045.2 L910.7,2046.5 L911.7,2047.8 L912.7,2049.1 L913.7,2050.5 L914.7,2051.8 L915.7,2053.1 L916.7,2054.5 L917.7,2055.8 L918.7,2057.1 L919.7,2058.4 L920.7,2059.6 L921.7,2060.9 L922.7,2062.2 L923.7,2063.4 L924.7,2064.6 L925.7,2065.8 L926.7,2067.0 L927.7,2068.1 L928.7,2069.3 L929.7,2070.4 L930.7,2071.5 L931.7,2072.6 L932.7,2073.7 L933.7,2074.8 L934.7,2075.9 L935.7,2077.0 L936.7,2078.1 L937.7,2079.1 L938.7,2080.2 L939.7,2081.2 L940.7,2082.3 L941.7,2083.4 L942.7,2084.4 L943.7,2085.4 L944.7,2086.5 L945.7,2087.5 L946.7,2088.6 L947.7,2089.6 L948.7,2090.6 L949.7,2091.7 L950.7,2092.7 L951.7,2093.7 L952.7,2094.7 L953.7,2095.7 L954.7,2096.7 L955.7,2097.7 L956.7,2098.6 L957.7,2099.6 L958.7,2100.5 L959.7,2101.4 L960.7,2102.3 L961.7,2103.2 L962.7,2104.1 L963.7,2104.9 L964.7,2105.8 L965.7,2106.6 L966.7,2107.4 L967.7,2108.2 L968.7,2109.0 L969.7,2109.8 L970.7,2110.6 L971.7,2111.4 L972.7,2112.2 L973.7,2113.0 L974.7,2113.7 L975.7,2114.5 L976.7,2115.2 L977.7,2116.0 L978.7,2116.7 L979.7,2117.5 L980.7,2118.2 L981.7,2118.9 L982.7,2119.6 L983.7,2120.4 L984.7,2121.1 L985.7,2121.8 L986.7,2122.5 L987.7,2123.2 L988.7,2123.9 L989.7,2124.6 L990.7,2125.2 L991.7,2125.9 L992.7,2126.6 L993.7,2127.2 L994.7,2127.9 L995.7,2128.5 L996.7,2129.2 L997.7,2129.8 L998.7,2130.5 L999.7,2131.1 L1000.7,2131.7 L1001.7,2132.4 L1002.7,2133.0 L1003.7,2133.6 L1004.7,2134.2 L1005.7,2134.8 L1006.7,2135.4 L1007.7,2136.0 L1008.7,2136.6 L1009.7,2137.1 L1010.7,2137.7 L1011.7,2138.3 L1012.7,2138.8 L1013.7,2139.4 L1014.7,2139.9 L1015.7,2140.4 L1016.7,2140.9 L1017.7,2141.4 L1018.7,2141.9 L1019.7,2142.4 L1020.7,2142.9 L1021.7,2143.4 L1022.7,2143.9 L1023.7,2144.3 L1024.7,2144.8 L1025.7,2145.3 L1026.7,2145.8 L1027.7,2146.2 L1028.7,2146.7 L1029.7,2147.2 L1030.7,2147.6 L1031.7,2148.1 L1032.7,2148.6 L1033.7,2149.0 L1034.7,2149.5 L1035.7,2150.0 L1036.7,2150.4 L1037.7,2150.9 L1038.7,2151.4 L1039.7,2151.8 L1040.7,2152.3 L1041.7,2152.7 L1042.7,2153.2 L1043.7,2153.6 L1044.7,2154.1 L1045.7,2154.5 L1046.7,2155.0 L1047.7,2155.4 L1048.7,2155.8 L1049.7,2156.3 L1050.7,2156.7 L1051.7,2157.1 L1052.7,2157.5 L1053.7,2157.9 L1054.7,2158.4 L1055.7,2158.8 L1056.7,2159.2 L1057.7,2159.6 L1058.7,2160.0 L1059.7,2160.4 L1060.7,2160.8 L1061.7,2161.2 L1062.7,2161.5 L1063.7,2161.9 L1064.7,2162.3 L1065.7,2162.7 L1066.7,2163.1 L1067.7,2163.5 L1068.7,2163.8 L1069.7,2164.2 L1070.7,2164.5 L1071.7,2164.9 L1072.7,2165.2 L1073.7,2165.6 L1074.7,2165.9 L1075.7,2166.3 L1076.7,2166.6 L1077.7,2166.9 L1078.7,2167.3 L1079.7,2167.6 L1080.7,2167.9 L1081.7,2168.3 L1082.7,2168.6 L1083.7,2169.0 L1084.7,2169.4 L1085.7,2169.8 L1086.7,2170.2 L1087.7,2170.6 L1088.7,2171.1 L1089.7,2171.6 L1090.7,2172.1 L1091.7,2172.6 L1092.7,2173.2 L1093.7,2173.7 L1094.7,2174.3 L1095.7,2174.8 L1096.7,2175.3 L1097.7,2175.8 L1098.7,2176.2 L1099.7,2176.7 L1100.7,2177.0 L1101.7,2177.4 L1102.7,2177.7 L1103.7,2178.1 L1104.7,2178.4 L1105.7,2178.7 L1106.7,2179.0 L1107.7,2179.3 L1108.7,2179.6 L1109.7,2179.9 L1110.7,2180.2 L1111.7,2180.5 L1112.7,2180.9 L1113.7,2181.2 L1114.7,2181.6 L1115.7,2182.0 L1116.7,2182.4 L1117.7,2182.8 L1118.7,2183.2 L1119.7,2183.6 L1120.7,2184.0 L1121.7,2184.4 L1122.7,2184.8 L1123.7,2185.2 L1124.7,2185.5 L1125.7,2185.9 L1126.7,2186.2 L1127.7,2186.5 L1128.7,2186.8 L1129.7,2187.0 L1130.7,2187.3 L1131.7,2187.5 L1132.7,2187.7 L1133.7,2187.9 L1134.7,2188.0 L1135.7,2188.2 L1136.7,2188.4 L1137.7,2188.5 L1138.7,2188.7 L1139.7,2188.8 L1140.7,2189.0 L1141.7,2189.1 L1142.7,2189.2 L1143.7,2189.4 L1144.7,2189.5 L1145.7,2189.6 L1146.7,2189.7 L1147.7,2189.8 L1148.7,2189.9 L1149.7,2190.0 L1150.7,2190.1 L1151.7,2190.2 L1152.7,2190.3 L1153.7,2190.5 L1154.7,2190.6 L1155.7,2190.8 L1156.7,2190.9 L1157.7,2191.2 L1158.7,2191.4 L1159.7,2191.7 L1160.7,2192.1 L1161.7,2192.4 L1162.7,2192.8 L1163.7,2193.1 L1164.7,2193.5 L1165.7,2193.8 L1166.7,2194.1 L1167.7,2194.4 L1168.7,2194.7 L1169.7,2194.9 L1170.7,2195.1 L1171.7,2195.3 L1172.7,2195.5 L1173.7,2195.7 L1174.7,2195.9 L1175.7,2196.1 L1176.7,2196.2 L1177.7,2196.4 L1178.7,2196.6 L1179.7,2196.7 L1180.7,2196.9 L1181.7,2197.1 L1182.7,2197.2 L1183.7,2197.4 L1184.7,2197.5 L1185.7,2197.7 L1186.7,2197.9 L1187.7,2198.0 L1188.7,2198.2 L1189.7,2198.4 L1190.7,2198.6 L1191.7,2198.7 L1192.7,2198.9 L1193.7,2199.1 L1194.7,2199.2 L1195.7,2199.4 L1196.7,2199.6 L1197.7,2199.8 L1198.7,2199.9 L1199.7,2200.1 L1200.7,2200.3 L1201.7,2200.4 L1202.7,2200.6 L1203.7,2200.8 L1204.7,2200.9 L1205.7,2201.1 L1206.7,2201.2 L1207.7,2201.4 L1208.7,2201.5 L1209.7,2201.7 L1210.7,2201.8 L1211.7,2202.0 L1212.7,2202.1 L1213.7,2202.3 L1214.7,2202.4 L1215.7,2202.6 L1216.7,2202.7 L1217.7,2202.9 L1218.7,2203.0 L1219.7,2203.2 L1220.7,2203.3 L1221.7,2203.5 L1222.7,2203.7 L1223.7,2203.8 L1224.7,2204.0 L1225.7,2204.2 L1226.7,2204.4 L1227.7,2204.6 L1228.7,2204.8 L1229.7,2205.0 L1230.7,2205.2 L1231.7,2205.4 L1232.7,2205.6 L1233.7,2205.8 L1234.7,2206.0 L1235.7,2206.2 L1236.7,2206.4 L1237.7,2206.6 L1238.7,2206.7 L1239.7,2206.9 L1240.7,2207.0 L1241.7,2207.2 L1242.7,2207.3 L1243.7,2207.4 L1244.7,2207.5 L1245.7,2207.6 L1246.7,2207.7 L1247.7,2207.8 L1248.7,2207.9 L1249.7,2208.0 L1250.7,2208.1 L1251.7,2208.1 L1252.7,2208.2 L1253.7,2208.3 L1254.7,2208.4 L1255.7,2208.5 L1256.7,2208.6 L1257.7,2208.7 L1258.7,2208.8 L1259.7,2208.9 L1260.7,2209.0 L1261.7,2209.1 L1262.7,2209.2 L1263.7,2209.3 L1264.7,2209.4 L1265.7,2209.5 L1266.7,2209.6 L1267.7,2209.7 L1268.7,2209.8 L1269.7,2209.9 L1270.7,2210.1 L1271.7,2210.2 L1272.7,2210.3 L1273.7,2210.4 L1274.7,2210.5 L1275.7,2210.6 L1276.7,2210.7 L1277.7,2210.8 L1278.7,2211.0 L1279.7,2211.1 L1280.7,2211.2 L1281.7,2211.3 L1282.7,2211.4 L1283.7,2211.5 L1284.7,2211.6 L1285.7,2211.7 L1286.7,2211.8 L1287.7,2211.9 L1288.7,2212.0 L1289.7,2212.0 L1290.7,2212.1 L1291.7,2212.2 L1292.7,2212.3 L1293.7,2212.4 L1294.7,2212.5 L1295.7,2212.6 L1296.7,2212.6 L1297.7,2212.7 L1298.7,2212.8 L1299.7,2212.9 L1300.7,2213.0 L1301.7,2213.0 L1302.7,2213.1 L1303.7,2213.2 L1304.7,2213.3 L1305.7,2213.4 L1306.7,2213.4 L1307.7,2213.5 L1308.7,2213.6 L1309.7,2213.6 L1310.7,2213.7 L1311.7,2213.8 L1312.7,2213.8 L1313.7,2213.9 L1314.7,2214.0 L1315.2,2214.0 L1316.1,2214.0 L1317.1,2214.1 L1318.1,2214.3 L1319.1,2214.5 L1320.1,2214.7 L1321.2,2215.0 L1322.2,2215.3 L1323.1,2215.6 L1323.2,2215.6 L1324.2,2216.1 L1325.2,2216.9 L1326.2,2217.8 L1327.1,2218.8 L1327.2,2218.9 L1328.2,2220.6 L1329.0,2222.0 L1329.2,2222.4 L1330.2,2224.3 L1331.0,2225.0 L1331.3,2224.9 L1332.3,2223.8 L1333.3,2222.0 L1333.3,2222.0 L1334.3,2219.9 L1335.3,2217.8 L1335.9,2217.2 L1336.3,2217.1 L1337.3,2216.9 L1338.3,2216.8 L1339.1,2216.8 L1339.3,2216.8 L1340.3,2216.8 L1341.3,2216.9 L1342.4,2216.9 L1343.4,2217.0 L1344.4,2217.1 L1345.4,2217.2 L1346.4,2217.3 L1347.4,2217.4 L1348.4,2217.5 L1349.4,2217.6 L1350.4,2217.8 L1351.4,2217.9 L1351.9,2217.9 L1352.5,2218.0 L1353.5,2218.0 L1354.5,2218.2 L1355.5,2218.3 L1356.5,2218.4 L1357.5,2218.5 L1358.5,2218.6 L1359.5,2218.7 L1360.5,2218.8 L1361.5,2218.9 L1362.5,2219.0 L1363.6,2219.1 L1364.6,2219.2 L1364.7,2219.2 L1365.6,2219.3 L1366.6,2219.4 L1367.6,2219.5 L1368.6,2219.6 L1369.6,2219.7 L1370.6,2219.8 L1371.6,2219.9 L1372.6,2219.9 L1373.7,2220.0 L1374.7,2220.1 L1375.7,2220.2 L1375.9,2220.2 L1376.7,2220.3 L1377.7,2220.3 L1378.7,2220.4 L1379.7,2220.4 L1380.7,2220.5 L1381.7,2220.6 L1382.7,2220.6 L1383.8,2220.7 L1384.8,2220.7 L1385.8,2220.8 L1386.8,2220.8 L1387.8,2220.9 L1388.8,2220.9 L1389.8,2221.0 L1390.8,2221.0 L1391.8,2221.1 L1392.8,2221.1 L1393.8,2221.2 L1394.9,2221.3 L1395.9,2221.3 L1396.9,2221.4 L1397.9,2221.5 L1398.2,2221.5 L1398.9,2221.6 L1399.9,2221.7 L1400.9,2221.8 L1401.9,2221.9 L1402.9,2222.0 L1403.9,2222.1 L1405.0,2222.3 L1406.0,2222.4 L1407.0,2222.5 L1408.0,2222.7 L1409.0,2222.8 L1410.0,2223.0" stroke="#f00" stroke-width="2.25"/>
</g>
<g class="axes"><rect x="231.00" y="1322.00" width="5" height="904.00"/><rect x="231.00" y="2221.00" width="1220.00" height="5"/><rect x="366.00" y="2223.50" width="5" height="20.00"/><rect x="636.00" y="2223.50" width="5" height="20.00"/><rect x="906.00" y="2223.50" width="5" height="20.00"/><rect x="1176.00" y="2223.50" width="5" height="20.00"/><rect x="1446.00" y="2223.50" width="5" height="20.00"/><rect x="231.00" y="2223.50" width="5" height="11.00"/><rect x="501.00" y="2223.50" width="5" height="11.00"/><rect x="771.00" y="2223.50" width="5" height="11.00"/><rect x="1041.00" y="2223.50" width="5" height="11.00"/><rect x="1311.00" y="2223.50" width="5" height="11.00"/><rect x="214.00" y="2221.00" width="19.50" height="5.0"/><rect x="214.00" y="2071.17" width="19.50" height="5.0"/><rect x="214.00" y="1921.33" width="19.50" height="5.0"/><rect x="214.00" y="1771.50" width="19.50" height="5.0"/><rect x="214.00" y="1621.67" width="19.50" height="5.0"/><rect x="214.00" y="1471.83" width="19.50" height="5.0"/><rect x="214.00" y="1322.00" width="19.50" height="5.0"/><rect x="222.50" y="2146.08" width="11.00" height="5"/><rect x="222.50" y="1996.25" width="11.00" height="5"/><rect x="222.50" y="1846.42" width="11.00" height="5"/><rect x="222.50" y="1696.58" width="11.00" height="5"/><rect x="222.50" y="1546.75" width="11.00" height="5"/><rect x="222.50" y="1396.92" width="11.00" height="5"/></g>
<text class="lbl" x="204.6" y="2236.5" font-size="52.6" text-anchor="end">0.0</text>
<text class="lbl" x="204.6" y="2086.7" font-size="52.6" text-anchor="end">0.2</text>
<text class="lbl" x="204.6" y="1936.8" font-size="52.6" text-anchor="end">0.3</text>
<text class="lbl" x="204.6" y="1787" font-size="52.6" text-anchor="end">0.5</text>
<text class="lbl" x="204.6" y="1637.2" font-size="52.6" text-anchor="end">0.7</text>
<text class="lbl" x="204.6" y="1487.3" font-size="52.6" text-anchor="end">0.8</text>
<text class="lbl" x="204.6" y="1337.5" font-size="52.6" text-anchor="end">1.0</text>
<text class="lbl" x="368.5" y="2293.6" font-size="52.3" text-anchor="middle">300</text>
<text class="lbl" x="638.5" y="2293.6" font-size="52.3" text-anchor="middle">400</text>
<text class="lbl" x="908.5" y="2293.6" font-size="52.3" text-anchor="middle">500</text>
<text class="lbl" x="1178.5" y="2293.6" font-size="52.3" text-anchor="middle">600</text>
<text class="lbl" x="1448.5" y="2293.6" font-size="52.3" text-anchor="middle">700</text>
<text class="lbl" x="338" y="1352.5" font-size="62">Leaves extract</text>
<text class="lbl" x="1393" y="1962" font-size="88">b)</text>
<text class="lbl" x="839.8" y="2390" font-size="61.6" text-anchor="middle">Wavelength (nm)</text>
<text class="lbl" transform="translate(93.4,1814.8) rotate(-90) scale(1 1.04)" font-size="63" text-anchor="middle">OD</text>
<rect class="key" x="953" y="1408" width="118" height="2" fill="#000"/>
<text class="lbl" x="1083.3" y="1428" font-size="52.6">Before PR</text>
<rect class="key" x="953" y="1472" width="118" height="2" fill="#f00"/>
<text class="lbl" x="1083.3" y="1492.2" font-size="52.6">After PR</text>
</g>
<g id="panel-c">
<g id="tem-inset"><defs><clipPath id="temclip"><rect x="960" y="2706" width="445" height="439"/></clipPath><filter id="temfx" filterUnits="userSpaceOnUse" primitiveUnits="userSpaceOnUse" x="960" y="2706" width="445" height="439" color-interpolation-filters="sRGB"><feTurbulence type="fractalNoise" baseFrequency="0.371 0.353" numOctaves="1" seed="11" result="t"/><feColorMatrix in="t" type="matrix" values="0.4 0 0 0 0.3  0.4 0 0 0 0.3  0.4 0 0 0 0.3  0 0 0 0 1" result="noise"/><feComposite in="SourceGraphic" in2="noise" operator="arithmetic" k1="0" k2="1" k3="1" k4="-0.5" result="img"/><feFlood x="961" y="2707" width="1" height="1" flood-color="#000" result="dot"/><feComposite in="dot" in2="dot" operator="over" x="960" y="2706" width="4" height="4" result="cell"/><feTile in="cell" result="grid"/><feComposite in="img" in2="grid" operator="in" result="samp"/><feMorphology in="samp" operator="dilate" radius="1" result="p3"/><feOffset in="p3" dx="1" dy="0" result="px"/><feOffset in="p3" dx="0" dy="1" result="py"/><feOffset in="p3" dx="1" dy="1" result="pxy"/><feMerge result="pix"><feMergeNode in="pxy"/><feMergeNode in="px"/><feMergeNode in="py"/><feMergeNode in="p3"/></feMerge><feGaussianBlur in="pix" stdDeviation="1"/></filter><filter id="tiny" x="-10%" y="-30%" width="120%" height="160%"><feGaussianBlur stdDeviation="0.7"/></filter><filter id="soft" x="-30%" y="-30%" width="160%" height="160%"><feGaussianBlur stdDeviation="1.5"/></filter><filter id="soft2" x="-30%" y="-30%" width="160%" height="160%"><feGaussianBlur stdDeviation="1.5"/></filter><filter id="soft3" x="-50%" y="-50%" width="200%" height="200%"><feGaussianBlur stdDeviation="2.6"/></filter><linearGradient id="tembg" x1="0" y1="0" x2="1" y2="0.3"><stop offset="0" stop-color="#b0b0b0"/><stop offset="1" stop-color="#b9b9b9"/></linearGradient></defs><g clip-path="url(#temclip)"><g filter="url(#temfx)"><rect x="956" y="2702" width="453" height="447" fill="url(#tembg)"/><g filter="url(#soft)"><circle cx="1166.8" cy="2893.8" r="12.4" fill="#525252"/><circle cx="1327.1" cy="2765.5" r="12.4" fill="#626262"/><circle cx="1049.6" cy="2879.7" r="10.6" fill="#666666"/><circle cx="1205.6" cy="3010.6" r="11.5" fill="#686868"/><circle cx="1099.9" cy="2800.4" r="9.2" fill="#606060"/><circle cx="1093.5" cy="2724.1" r="9.2" fill="#606060"/><circle cx="1015.9" cy="2777.4" r="7.8" fill="#666666"/><circle cx="1082.0" cy="2963.7" r="8.3" fill="#6e6e6e"/><circle cx="1014.6" cy="2924.5" r="7.8" fill="#6e6e6e"/><circle cx="1108.4" cy="2863.5" r="7.8" fill="#707070"/><circle cx="1356.9" cy="2895.9" r="7.8" fill="#707070"/><circle cx="1019.7" cy="2743.3" r="6.0" fill="#6e6e6e"/><circle cx="1006.9" cy="2834.9" r="6.9" fill="#606060"/><circle cx="1056.0" cy="2828.5" r="6.0" fill="#7c7c7c"/><circle cx="1077.3" cy="2925.7" r="6.0" fill="#6e6e6e"/><circle cx="965.6" cy="2955.2" r="6.9" fill="#6e6e6e"/><circle cx="1231.2" cy="2767.2" r="5.5" fill="#6e6e6e"/><circle cx="1367.6" cy="2742.0" r="5.1" fill="#767676"/><circle cx="1334.3" cy="2799.6" r="5.5" fill="#7c7c7c"/><circle cx="1369.7" cy="2832.8" r="4.6" fill="#7c7c7c"/><circle cx="1345.0" cy="2979.9" r="5.5" fill="#6c6c6c"/><circle cx="1270.4" cy="3031.0" r="6.0" fill="#7c7c7c"/><circle cx="1124.6" cy="3029.8" r="6.0" fill="#767676"/><circle cx="1148.9" cy="3072.4" r="6.0" fill="#6e6e6e"/><circle cx="1108.4" cy="3118.4" r="6.9" fill="#6e6e6e"/><circle cx="1077.3" cy="3137.6" r="9.2" fill="#565656"/><circle cx="1050.8" cy="3135.5" r="5.5" fill="#767676"/><circle cx="996.7" cy="3075.8" r="4.6" fill="#7c7c7c"/><circle cx="1156.1" cy="2785.9" r="4.1" fill="#828282"/><circle cx="1087.1" cy="2854.1" r="4.6" fill="#828282"/><circle cx="1163.0" cy="3019.5" r="4.6" fill="#7c7c7c"/><circle cx="1400.4" cy="3022.5" r="4.6" fill="#747474"/><circle cx="1401.2" cy="2852.0" r="3.7" fill="#6e6e6e"/><circle cx="1251.2" cy="2881.8" r="4.6" fill="#888888"/><circle cx="1212.0" cy="3085.6" r="4.1" fill="#828282"/><circle cx="1156.1" cy="3124.0" r="3.7" fill="#828282"/><circle cx="984.8" cy="3092.8" r="3.7" fill="#888888"/><circle cx="969.8" cy="2898.9" r="3.7" fill="#828282"/><circle cx="1084.1" cy="2746.3" r="3.7" fill="#8a8a8a"/><circle cx="1281.0" cy="2768.9" r="3.2" fill="#8a8a8a"/><circle cx="1023.1" cy="3106.9" r="3.7" fill="#8a8a8a"/></g><g filter="url(#soft2)"><ellipse cx="1222.2" cy="2834.9" rx="23.9" ry="26.9" fill="#c9c9c9" transform="rotate(35 1222.2 2834.9)"/><ellipse cx="1206.4" cy="2905.3" rx="23.9" ry="23.1" fill="#c9c9c9" transform="rotate(0 1206.4 2905.3)"/><ellipse cx="1306.6" cy="2988.4" rx="32.4" ry="31.2" fill="#c9c9c9" transform="rotate(0 1306.6 2988.4)"/><ellipse cx="1257.6" cy="3077.1" rx="30.7" ry="30.3" fill="#c9c9c9" transform="rotate(0 1257.6 3077.1)"/><ellipse cx="1297.2" cy="3047.2" rx="22.2" ry="18.8" fill="#c9c9c9" transform="rotate(0 1297.2 3047.2)"/><ellipse cx="1222.2" cy="2834.9" rx="21.3" ry="24.3" fill="#5a5a5a" transform="rotate(35 1222.2 2834.9)"/><ellipse cx="1206.4" cy="2905.3" rx="21.3" ry="20.5" fill="#424242" transform="rotate(0 1206.4 2905.3)"/><ellipse cx="1306.6" cy="2988.4" rx="29.8" ry="28.6" fill="#3a3a3a" transform="rotate(0 1306.6 2988.4)"/><ellipse cx="1257.6" cy="3077.1" rx="28.1" ry="27.7" fill="#3c3c3c" transform="rotate(0 1257.6 3077.1)"/><ellipse cx="1297.2" cy="3047.2" rx="19.6" ry="16.2" fill="#565656" transform="rotate(0 1297.2 3047.2)"/></g><g filter="url(#soft3)"><ellipse cx="1216.5" cy="2840.8" rx="13.2" ry="15.1" fill="#1e1e1e"/><ellipse cx="1200.7" cy="2910.2" rx="13.2" ry="12.7" fill="#121212"/><ellipse cx="1298.6" cy="2995.3" rx="18.5" ry="17.7" fill="#0e0e0e"/><ellipse cx="1250.0" cy="3083.7" rx="17.4" ry="17.2" fill="#0c0c0c"/><ellipse cx="1291.9" cy="3051.1" rx="12.2" ry="10.0" fill="#2a2a2a"/></g></g><rect x="969" y="3135.2" width="52.5" height="4.6" fill="#0a0a0a"/><text x="971" y="3131" font-size="13.5" style="fill:#262626" textLength="55" lengthAdjust="spacingAndGlyphs" filter="url(#tiny)">20 nm</text></g></g>
<g class="curves thin">
<path d="M233.7,3080.8 L234.7,3081.6 L235.7,3082.3 L236.7,3083.0 L237.7,3083.7 L238.7,3084.4 L239.7,3085.2 L240.7,3085.9 L241.7,3086.7 L242.7,3087.5 L243.7,3088.3 L244.7,3089.0 L245.7,3089.8 L246.7,3090.6 L247.7,3091.4 L248.7,3092.2 L249.7,3093.1 L250.7,3093.9 L251.7,3094.7 L252.7,3095.6 L253.7,3096.4 L254.7,3097.3 L255.7,3098.1 L256.7,3099.0 L257.7,3099.9 L258.7,3100.8 L259.7,3101.8 L260.7,3102.7 L261.7,3103.7 L262.7,3104.7 L263.7,3105.7 L264.7,3106.7 L265.7,3107.8 L266.7,3108.9 L267.7,3110.0 L268.7,3111.1 L269.7,3112.3 L270.7,3113.4 L271.7,3114.6 L272.7,3115.8 L273.7,3116.9 L274.7,3118.1 L275.7,3119.3 L276.7,3120.5 L277.7,3121.7 L278.7,3122.9 L279.7,3124.1 L280.7,3125.3 L281.7,3126.5 L282.7,3127.8 L283.7,3129.0 L284.7,3130.3 L285.7,3131.6 L286.7,3132.8 L287.7,3134.1 L288.7,3135.5 L289.7,3136.8 L290.7,3138.2 L291.7,3139.6 L292.7,3141.0 L293.7,3142.4 L294.7,3143.9 L295.7,3145.4 L296.7,3146.8 L297.7,3148.3 L298.7,3149.9 L299.7,3151.4 L300.7,3152.9 L301.7,3154.5 L302.7,3156.0 L303.7,3157.6 L304.7,3159.2 L305.7,3160.7 L306.7,3162.3 L307.7,3163.8 L308.7,3165.4 L309.7,3167.0 L310.7,3168.6 L311.7,3170.2 L312.7,3171.8 L313.7,3173.4 L314.7,3175.1 L315.7,3176.8 L316.7,3178.5 L317.7,3180.3 L318.7,3182.0 L319.7,3183.9 L320.7,3185.7 L321.7,3187.6 L322.7,3189.5 L323.7,3191.5 L324.7,3193.5 L325.7,3195.5 L326.7,3197.5 L327.7,3199.5 L328.7,3201.6 L329.7,3203.7 L330.7,3205.7 L331.7,3207.8 L332.7,3209.9 L333.7,3212.0 L334.7,3214.1 L335.7,3216.2 L336.7,3218.3 L337.7,3220.5 L338.7,3222.6 L339.7,3224.8 L340.7,3226.9 L341.7,3229.1 L342.7,3231.2 L343.7,3233.4 L344.7,3235.6 L345.7,3237.7 L346.7,3239.9 L347.7,3242.1 L348.7,3244.2 L349.7,3246.4 L350.7,3248.5 L351.7,3250.7 L352.7,3252.8 L353.7,3255.0 L354.7,3257.2 L355.7,3259.4 L356.7,3261.6 L357.7,3263.8 L358.7,3266.0 L359.7,3268.2 L360.7,3270.4 L361.7,3272.7 L362.7,3274.9 L363.7,3277.2 L364.7,3279.4 L365.7,3281.7 L366.7,3284.0 L367.7,3286.2 L368.7,3288.5 L369.7,3290.8 L370.7,3293.1 L371.7,3295.4 L372.7,3297.7 L373.7,3299.9 L374.7,3302.1 L375.7,3304.3 L376.7,3306.5 L377.7,3308.5 L378.7,3310.6 L379.7,3312.6 L380.7,3314.6 L381.7,3316.6 L382.7,3318.5 L383.7,3320.4 L384.7,3322.2 L385.7,3324.0 L386.7,3325.8 L387.7,3327.5 L388.7,3329.1 L389.7,3330.7 L390.7,3332.2 L391.7,3333.7 L392.7,3335.1 L393.7,3336.5 L394.7,3337.8 L395.7,3339.1 L396.7,3340.4 L397.7,3341.6 L398.7,3342.8 L399.7,3344.0 L400.7,3345.1 L401.7,3346.2 L402.7,3347.3 L403.7,3348.3 L404.7,3349.3 L405.7,3350.3 L406.7,3351.3 L407.7,3352.2 L408.7,3353.1 L409.7,3353.9 L410.7,3354.8 L411.7,3355.6 L412.7,3356.4 L413.7,3357.2 L414.7,3358.0 L415.7,3358.7 L416.7,3359.4 L417.7,3360.2 L418.7,3360.8 L419.7,3361.5 L420.7,3362.2 L421.7,3362.8 L422.7,3363.5 L423.7,3364.1 L424.7,3364.7 L425.7,3365.3 L426.7,3365.9 L427.7,3366.5 L428.7,3367.0 L429.7,3367.6 L430.7,3368.1 L431.7,3368.6 L432.7,3369.1 L433.7,3369.7 L434.7,3370.2 L435.7,3370.7 L436.7,3371.2 L437.7,3371.8 L438.7,3372.3 L439.7,3372.8 L440.7,3373.4 L441.7,3373.9 L442.7,3374.4 L443.7,3374.8 L444.7,3375.1 L445.7,3375.4 L446.7,3375.6 L447.7,3375.7 L448.7,3375.8 L449.7,3375.8 L450.7,3375.7 L451.7,3375.7 L452.7,3375.6 L453.7,3375.4 L454.7,3375.2 L455.7,3374.9 L456.7,3374.4 L457.7,3373.9 L458.7,3373.2 L459.7,3372.4 L460.7,3371.5 L461.7,3370.6 L462.7,3369.6 L463.7,3368.5 L464.7,3367.4 L465.7,3366.2 L466.7,3364.9 L467.7,3363.6 L468.7,3362.2 L469.7,3360.7 L470.7,3359.1 L471.7,3357.5 L472.7,3355.9 L473.7,3354.2 L474.7,3352.5 L475.7,3350.7 L476.7,3349.0 L477.7,3347.4 L478.7,3345.8 L479.7,3344.2 L480.7,3342.7 L481.7,3341.3 L482.7,3339.9 L483.7,3338.5 L484.7,3337.3 L485.7,3336.0 L486.7,3334.9 L487.7,3333.7 L488.7,3332.6 L489.7,3331.6 L490.7,3330.5 L491.7,3329.5 L492.7,3328.4 L493.7,3327.4 L494.7,3326.3 L495.7,3325.2 L496.7,3324.0 L497.7,3322.9 L498.7,3321.7 L499.7,3320.5 L500.7,3319.4 L501.7,3318.2 L502.7,3317.0 L503.7,3315.8 L504.7,3314.6 L505.7,3313.4 L506.7,3312.2 L507.7,3311.0 L508.7,3309.8 L509.7,3308.6 L510.7,3307.4 L511.7,3306.2 L512.7,3305.0 L513.7,3303.9 L514.7,3302.7 L515.7,3301.5 L516.7,3300.3 L517.7,3299.1 L518.7,3297.9 L519.7,3296.7 L520.7,3295.5 L521.7,3294.3 L522.7,3293.1 L523.7,3291.8 L524.7,3290.6 L525.7,3289.4 L526.7,3288.1 L527.7,3286.8 L528.7,3285.6 L529.7,3284.3 L530.7,3283.1 L531.7,3281.8 L532.7,3280.6 L533.7,3279.4 L534.7,3278.1 L535.7,3276.9 L536.7,3275.7 L537.7,3274.5 L538.7,3273.3 L539.7,3272.1 L540.7,3270.9 L541.7,3269.7 L542.7,3268.5 L543.7,3267.4 L544.7,3266.2 L545.7,3265.0 L546.7,3263.9 L547.7,3262.7 L548.7,3261.6 L549.7,3260.5 L550.7,3259.3 L551.7,3258.2 L552.7,3257.1 L553.7,3256.0 L554.7,3254.9 L555.7,3253.8 L556.7,3252.7 L557.7,3251.6 L558.7,3250.5 L559.7,3249.4 L560.7,3248.4 L561.7,3247.3 L562.7,3246.3 L563.7,3245.3 L564.7,3244.2 L565.7,3243.2 L566.7,3242.2 L567.7,3241.2 L568.7,3240.2 L569.7,3239.2 L570.7,3238.2 L571.7,3237.2 L572.7,3236.2 L573.7,3235.2 L574.7,3234.2 L575.7,3233.2 L576.7,3232.2 L577.7,3231.2 L578.7,3230.2 L579.7,3229.2 L580.7,3228.2 L581.7,3227.2 L582.7,3226.2 L583.7,3225.2 L584.7,3224.1 L585.7,3223.1 L586.7,3222.1 L587.7,3221.1 L588.7,3220.1 L589.7,3219.1 L590.7,3218.1 L591.7,3217.1 L592.7,3216.1 L593.7,3215.1 L594.7,3214.1 L595.7,3213.1 L596.7,3212.1 L597.7,3211.1 L598.7,3210.1 L599.7,3209.1 L600.7,3208.1 L601.7,3207.1 L602.7,3206.2 L603.7,3205.2 L604.7,3204.2 L605.7,3203.2 L606.7,3202.3 L607.7,3201.3 L608.7,3200.4 L609.7,3199.4 L610.7,3198.4 L611.7,3197.5 L612.7,3196.5 L613.7,3195.6 L614.7,3194.6 L615.7,3193.7 L616.7,3192.7 L617.7,3191.8 L618.7,3190.8 L619.7,3189.9 L620.7,3188.9 L621.7,3188.0 L622.7,3187.0 L623.7,3186.1 L624.7,3185.1 L625.7,3184.2 L626.7,3183.2 L627.7,3182.3 L628.7,3181.3 L629.7,3180.4 L630.7,3179.4 L631.7,3178.5 L632.7,3177.5 L633.7,3176.6 L634.7,3175.7 L635.7,3174.7 L636.7,3173.8 L637.7,3172.8 L638.7,3171.9 L639.7,3171.0 L640.7,3170.0 L641.7,3169.1 L642.7,3168.1 L643.7,3167.2 L644.7,3166.2 L645.7,3165.2 L646.7,3164.2 L647.7,3163.3 L648.7,3162.3 L649.7,3161.4 L650.7,3160.5 L651.7,3159.6 L652.7,3158.7 L653.7,3157.9 L654.7,3157.1 L655.7,3156.3 L656.7,3155.6 L657.7,3154.9 L658.7,3154.2 L659.7,3153.5 L660.7,3152.8 L661.7,3152.1 L662.7,3151.4 L663.7,3150.6 L664.7,3149.8 L665.7,3149.0 L666.7,3148.2 L667.7,3147.3 L668.7,3146.5 L669.7,3145.6 L670.7,3144.8 L671.7,3144.0 L672.7,3143.1 L673.7,3142.3 L674.7,3141.5 L675.7,3140.7 L676.7,3139.9 L677.7,3139.1 L678.7,3138.3 L679.7,3137.5 L680.7,3136.7 L681.7,3136.0 L682.7,3135.2 L683.7,3134.4 L684.7,3133.7 L685.7,3133.0 L686.7,3132.3 L687.7,3131.6 L688.7,3131.0 L689.7,3130.3 L690.7,3129.7 L691.7,3129.2 L692.7,3128.6 L693.7,3128.0 L694.7,3127.5 L695.7,3127.0 L696.7,3126.5 L697.7,3126.0 L698.7,3125.5 L699.7,3125.0 L700.7,3124.6 L701.7,3124.1 L702.7,3123.6 L703.7,3123.2 L704.7,3122.7 L705.7,3122.2 L706.7,3121.8 L707.7,3121.3 L708.7,3120.8 L709.7,3120.4 L710.7,3119.9 L711.7,3119.5 L712.7,3119.0 L713.7,3118.6 L714.7,3118.2 L715.7,3117.8 L716.7,3117.4 L717.7,3117.0 L718.7,3116.6 L719.7,3116.2 L720.7,3115.8 L721.7,3115.5 L722.7,3115.1 L723.7,3114.8 L724.7,3114.4 L725.7,3114.1 L726.7,3113.7 L727.7,3113.4 L728.7,3113.1 L729.7,3112.8 L730.7,3112.5 L731.7,3112.2 L732.7,3112.0 L733.7,3111.7 L734.7,3111.5 L735.7,3111.2 L736.7,3111.0 L737.7,3110.8 L738.7,3110.5 L739.7,3110.3 L740.7,3110.2 L741.7,3110.0 L742.7,3109.9 L743.7,3109.8 L744.7,3109.7 L745.7,3109.6 L746.7,3109.6 L747.7,3109.6 L748.7,3109.5 L749.7,3109.5 L750.7,3109.5 L751.7,3109.4 L752.7,3109.4 L753.7,3109.4 L754.7,3109.4 L755.7,3109.3 L756.7,3109.3 L757.7,3109.3 L758.7,3109.2 L759.7,3109.2 L760.7,3109.1 L761.7,3109.1 L762.7,3109.0 L763.7,3109.0 L764.7,3108.9 L765.7,3108.9 L766.7,3108.8 L767.7,3108.8 L768.7,3108.8 L769.7,3108.8 L770.7,3108.7 L771.7,3108.8 L772.7,3108.8 L773.7,3108.8 L774.7,3108.9 L775.7,3109.0 L776.7,3109.1 L777.7,3109.2 L778.7,3109.3 L779.7,3109.4 L780.7,3109.6 L781.7,3109.8 L782.7,3109.9 L783.7,3110.1 L784.7,3110.3 L785.7,3110.5 L786.7,3110.7 L787.7,3110.9 L788.7,3111.2 L789.7,3111.4 L790.7,3111.7 L791.7,3111.9 L792.7,3112.1 L793.7,3112.3 L794.7,3112.4 L795.7,3112.5 L796.7,3112.6 L797.7,3112.6 L798.7,3112.6 L799.7,3112.7 L800.7,3112.8 L801.7,3112.9 L802.7,3113.0 L803.7,3113.2 L804.7,3113.6 L805.7,3114.0 L806.7,3114.4 L807.7,3114.9 L808.7,3115.4 L809.7,3115.9 L810.7,3116.3 L811.7,3116.6 L812.7,3116.9 L813.7,3117.1 L814.7,3117.3 L815.7,3117.4 L816.7,3117.6 L817.7,3117.7 L818.7,3117.8 L819.7,3118.0 L820.7,3118.2 L821.7,3118.4 L822.7,3118.6 L823.7,3118.8 L824.7,3119.1 L825.7,3119.3 L826.7,3119.6 L827.7,3119.9 L828.7,3120.1 L829.7,3120.4 L830.7,3120.7 L831.7,3121.0 L832.7,3121.3 L833.7,3121.6 L834.7,3122.0 L835.7,3122.3 L836.7,3122.6 L837.7,3122.9 L838.7,3123.3 L839.7,3123.6 L840.7,3124.0 L841.7,3124.3 L842.7,3124.7 L843.7,3125.1 L844.7,3125.5 L845.7,3125.8 L846.7,3126.2 L847.7,3126.6 L848.7,3127.0 L849.7,3127.4 L850.7,3127.9 L851.0,3128.0 L852.0,3128.2 L853.0,3128.5 L854.0,3128.9 L855.0,3129.3 L856.0,3129.7 L857.0,3130.2 L858.0,3130.7 L859.0,3131.3 L860.0,3131.9 L861.0,3132.5 L862.0,3133.2 L863.0,3133.9 L864.0,3134.6 L865.0,3135.3 L865.3,3135.5 L866.0,3136.1 L867.0,3137.2 L868.0,3138.4 L869.0,3139.5 L870.0,3140.4 L870.6,3140.7 L871.0,3140.8 L872.0,3141.2 L873.0,3141.5 L874.0,3141.9 L875.0,3142.1 L876.0,3142.4 L877.0,3142.6 L878.0,3142.8 L879.0,3143.0 L880.0,3143.1 L881.0,3143.2 L882.0,3143.3 L883.0,3143.3 L884.0,3143.8 L885.0,3144.2 L886.0,3144.6 L887.0,3145.0 L888.0,3145.5 L889.0,3145.9 L890.0,3146.4 L891.0,3146.8 L892.0,3147.3 L893.0,3147.7 L894.0,3148.2 L895.0,3148.7 L896.0,3149.2 L897.0,3149.6 L898.0,3150.1 L899.0,3150.6 L900.0,3151.1 L901.0,3151.6 L902.0,3152.1 L903.0,3152.6 L904.0,3153.2 L905.0,3153.7 L906.0,3154.2 L907.0,3154.8 L908.0,3155.3 L909.0,3155.8 L910.0,3156.4 L911.0,3157.0 L912.0,3157.5 L913.0,3158.1 L914.0,3158.6 L915.0,3159.2 L916.0,3159.8 L917.0,3160.3 L918.0,3160.9 L919.0,3161.5 L920.0,3162.0 L921.0,3162.6 L922.0,3163.1 L923.0,3163.7 L924.0,3164.3 L925.0,3164.8 L926.0,3165.4 L927.0,3165.9 L928.0,3166.5 L929.0,3167.0 L930.0,3167.6 L931.0,3168.1 L932.0,3168.7 L933.0,3169.3 L934.0,3169.8 L935.0,3170.4 L936.0,3171.0 L937.0,3171.5 L938.0,3172.1 L939.0,3172.7 L940.0,3173.3 L941.0,3173.9 L942.0,3174.5 L943.0,3175.1 L944.0,3175.7 L945.0,3176.3 L946.0,3176.9 L947.0,3177.6 L948.0,3178.2 L949.0,3178.8 L950.0,3179.5 L951.0,3180.1 L952.0,3180.8 L953.0,3181.5 L954.0,3182.1 L955.0,3182.8 L956.0,3183.5 L957.0,3184.2 L958.0,3184.8 L959.0,3185.5 L960.0,3186.2 L961.0,3186.9 L962.0,3187.6 L963.0,3188.3 L964.0,3189.0 L965.0,3189.7 L966.0,3190.4 L967.0,3191.1 L968.0,3191.9 L969.0,3192.6 L970.0,3193.3 L971.0,3194.0 L972.0,3194.8 L973.0,3195.5 L974.0,3196.2 L975.0,3197.0 L976.0,3197.7 L977.0,3198.5 L978.0,3199.2 L979.0,3200.0 L980.0,3200.8 L981.0,3201.6 L982.0,3202.3 L983.0,3203.1 L984.0,3203.9 L985.0,3204.7 L986.0,3205.5 L987.0,3206.3 L988.0,3207.2 L989.0,3208.0 L990.0,3208.8 L991.0,3209.7 L992.0,3210.6 L993.0,3211.4 L994.0,3212.3 L995.0,3213.2 L996.0,3214.1 L997.0,3214.9 L998.0,3215.8 L999.0,3216.7 L1000.0,3217.6 L1001.0,3218.5 L1002.0,3219.4 L1003.0,3220.3 L1004.0,3221.2 L1005.0,3222.1 L1006.0,3223.0 L1007.0,3223.9 L1008.0,3224.8 L1009.0,3225.7 L1010.0,3226.7 L1011.0,3227.6 L1012.0,3228.5 L1013.0,3229.4 L1014.0,3230.3 L1015.0,3231.2 L1016.0,3232.1 L1017.0,3233.0 L1018.0,3234.0 L1019.0,3234.9 L1020.0,3235.8 L1021.0,3236.7 L1022.0,3237.7 L1023.0,3238.6 L1024.0,3239.5 L1025.0,3240.5 L1026.0,3241.4 L1027.0,3242.3 L1028.0,3243.2 L1029.0,3244.2 L1030.0,3245.1 L1031.0,3246.1 L1032.0,3247.0 L1033.0,3247.9 L1034.0,3248.9 L1035.0,3249.8 L1036.0,3250.8 L1037.0,3251.7 L1038.0,3252.7 L1039.0,3253.6 L1040.0,3254.6 L1041.0,3255.5 L1042.0,3256.5 L1043.0,3257.4 L1044.0,3258.4 L1045.0,3259.3 L1046.0,3260.3 L1047.0,3261.2 L1048.0,3262.2 L1049.0,3263.1 L1050.0,3264.1 L1051.0,3265.1 L1052.0,3266.0 L1053.0,3267.0 L1054.0,3267.9 L1055.0,3268.9 L1056.0,3269.9 L1057.0,3270.8 L1058.0,3271.8 L1059.0,3272.8 L1060.0,3273.7 L1061.0,3274.7 L1062.0,3275.7 L1063.0,3276.7 L1064.0,3277.6 L1065.0,3278.6 L1066.0,3279.6 L1067.0,3280.5 L1068.0,3281.5 L1069.0,3282.5 L1070.0,3283.4 L1071.0,3284.4 L1072.0,3285.4 L1073.0,3286.3 L1074.0,3287.3 L1075.0,3288.3 L1076.0,3289.3 L1077.0,3290.2 L1078.0,3291.2 L1079.0,3292.2 L1080.0,3293.1 L1081.0,3294.1 L1082.0,3295.1 L1083.0,3296.0 L1084.0,3297.0 L1085.0,3298.0 L1086.0,3298.9 L1087.0,3299.9 L1088.0,3300.9 L1089.0,3301.8 L1090.0,3302.8 L1091.0,3303.8 L1092.0,3304.7 L1093.0,3305.7 L1094.0,3306.7 L1095.0,3307.6 L1096.0,3308.6 L1097.0,3309.6 L1098.0,3310.5 L1099.0,3311.5 L1100.0,3312.5 L1101.0,3313.4 L1102.0,3314.4 L1103.0,3315.4 L1104.0,3316.3 L1105.0,3317.3 L1106.0,3318.2 L1107.0,3319.2 L1108.0,3320.1 L1109.0,3321.1 L1110.0,3322.0 L1111.0,3322.9 L1112.0,3323.9 L1113.0,3324.8 L1114.0,3325.7 L1115.0,3326.6 L1116.0,3327.5 L1117.0,3328.4 L1118.0,3329.2 L1119.0,3330.1 L1120.0,3331.0 L1121.0,3331.9 L1122.0,3332.7 L1123.0,3333.6 L1124.0,3334.4 L1125.0,3335.3 L1126.0,3336.1 L1127.0,3337.0 L1128.0,3337.8 L1129.0,3338.7 L1130.0,3339.5 L1131.0,3340.3 L1132.0,3341.1 L1133.0,3341.9 L1134.0,3342.7 L1135.0,3343.5 L1136.0,3344.3 L1137.0,3345.1 L1138.0,3345.8 L1139.0,3346.6 L1140.0,3347.3 L1141.0,3348.1 L1142.0,3348.8 L1143.0,3349.6 L1144.0,3350.3 L1145.0,3351.1 L1146.0,3351.8 L1147.0,3352.6 L1148.0,3353.3 L1149.0,3354.1 L1150.0,3354.9 L1151.0,3355.6 L1152.0,3356.4 L1153.0,3357.2 L1154.0,3358.0 L1155.0,3358.8 L1156.0,3359.6 L1157.0,3360.4 L1158.0,3361.2 L1159.0,3362.0 L1160.0,3362.8 L1161.0,3363.6 L1162.0,3364.4 L1163.0,3365.2 L1164.0,3366.0 L1165.0,3366.8 L1166.0,3367.6 L1167.0,3368.4 L1168.0,3369.2 L1169.0,3370.0 L1170.0,3370.7 L1171.0,3371.5 L1172.0,3372.3 L1173.0,3373.1 L1174.0,3373.8 L1175.0,3374.6 L1176.0,3375.4 L1177.0,3376.2 L1178.0,3376.9 L1179.0,3377.7 L1180.0,3378.4 L1181.0,3379.2 L1182.0,3379.9 L1183.0,3380.6 L1184.0,3381.4 L1185.0,3382.1 L1186.0,3382.8 L1187.0,3383.5 L1188.0,3384.2 L1189.0,3384.9 L1190.0,3385.5 L1191.0,3386.2 L1192.0,3386.9 L1193.0,3387.5 L1194.0,3388.2 L1195.0,3388.8 L1196.0,3389.4 L1197.0,3390.1 L1198.0,3390.7 L1199.0,3391.3 L1200.0,3391.9 L1201.0,3392.6 L1202.0,3393.2 L1203.0,3393.8 L1204.0,3394.4 L1205.0,3395.0 L1206.0,3395.6 L1207.0,3396.2 L1208.0,3396.8 L1209.0,3397.4 L1210.0,3398.0 L1211.0,3398.7 L1212.0,3399.3 L1213.0,3399.9 L1214.0,3400.5 L1215.0,3401.1 L1216.0,3401.7 L1217.0,3402.3 L1218.0,3402.9 L1219.0,3403.6 L1220.0,3404.2 L1221.0,3404.8 L1222.0,3405.4 L1223.0,3406.1 L1224.0,3406.7 L1225.0,3407.3 L1226.0,3407.9 L1227.0,3408.6 L1228.0,3409.2 L1229.0,3409.8 L1230.0,3410.4 L1231.0,3411.0 L1232.0,3411.6 L1233.0,3412.2 L1234.0,3412.8 L1235.0,3413.4 L1236.0,3413.9 L1237.0,3414.5 L1238.0,3415.1 L1239.0,3415.6 L1240.0,3416.2 L1241.0,3416.7 L1242.0,3417.2 L1243.0,3417.8 L1244.0,3418.3 L1245.0,3418.8 L1246.0,3419.3 L1247.0,3419.8 L1248.0,3420.3 L1249.0,3420.8 L1250.0,3421.3 L1251.0,3421.7 L1252.0,3422.2 L1253.0,3422.7 L1254.0,3423.1 L1255.0,3423.6 L1256.0,3424.1 L1257.0,3424.5 L1258.0,3425.0 L1259.0,3425.4 L1260.0,3425.9 L1261.0,3426.3 L1262.0,3426.7 L1263.0,3427.2 L1264.0,3427.6 L1265.0,3428.0 L1266.0,3428.5 L1267.0,3428.9 L1268.0,3429.3 L1269.0,3429.7 L1270.0,3430.1 L1271.0,3430.5 L1272.0,3431.0 L1273.0,3431.4 L1274.0,3431.8 L1275.0,3432.2 L1276.0,3432.6 L1277.0,3433.0 L1278.0,3433.4 L1279.0,3433.8 L1280.0,3434.2 L1281.0,3434.6 L1282.0,3435.0 L1283.0,3435.3 L1284.0,3435.7 L1285.0,3436.1 L1286.0,3436.5 L1287.0,3436.8 L1288.0,3437.2 L1289.0,3437.5 L1290.0,3437.9 L1291.0,3438.2 L1292.0,3438.5 L1293.0,3438.9 L1294.0,3439.2 L1295.0,3439.5 L1296.0,3439.8 L1297.0,3440.1 L1298.0,3440.4 L1299.0,3440.6 L1300.0,3440.9 L1301.0,3441.2 L1302.0,3441.5 L1303.0,3441.7 L1304.0,3442.0 L1305.0,3442.2 L1306.0,3442.5 L1307.0,3442.7 L1308.0,3443.0 L1309.0,3443.2 L1310.0,3443.4 L1311.0,3443.7 L1312.0,3443.9 L1313.0,3444.1 L1314.0,3444.3 L1315.0,3444.5 L1316.0,3444.7 L1317.0,3444.7 L1318.0,3444.8 L1319.0,3445.0 L1320.0,3445.2 L1321.0,3445.5 L1322.0,3445.8 L1323.0,3446.2 L1324.0,3446.7 L1325.0,3447.2 L1325.4,3447.4 L1326.0,3448.0 L1327.0,3450.2 L1328.0,3452.9 L1329.0,3455.6 L1329.5,3456.6 L1330.0,3457.5 L1331.0,3459.5 L1332.0,3461.0 L1332.9,3461.6 L1333.0,3461.5 L1334.0,3456.9 L1335.0,3451.7 L1335.2,3451.5 L1336.0,3451.5 L1337.0,3451.6 L1338.0,3451.6 L1339.0,3451.7 L1340.0,3451.8 L1341.0,3451.9 L1342.0,3452.1 L1343.0,3452.2 L1344.0,3452.3 L1345.0,3452.5 L1346.0,3452.7 L1347.0,3452.9 L1348.0,3453.2 L1349.0,3453.4 L1350.0,3453.7 L1351.0,3454.0 L1352.0,3454.3 L1353.0,3454.6 L1354.0,3454.9 L1355.0,3455.2 L1356.0,3455.6 L1357.0,3455.9 L1358.0,3456.2 L1359.0,3456.5 L1360.0,3456.8 L1361.0,3457.1 L1362.0,3457.3 L1363.0,3457.6 L1363.2,3457.6 L1364.0,3457.8 L1365.0,3458.0 L1366.0,3458.2 L1367.0,3458.4 L1368.0,3458.7 L1369.0,3458.9 L1370.0,3459.1 L1371.0,3459.3 L1372.0,3459.5 L1373.0,3459.7 L1374.0,3459.9 L1375.0,3460.1 L1376.0,3460.3 L1377.0,3460.5 L1378.0,3460.6 L1379.0,3460.8 L1380.0,3461.0 L1381.0,3461.2 L1382.0,3461.3 L1383.0,3461.5 L1383.5,3461.6 L1384.0,3461.7 L1385.0,3461.8 L1386.0,3462.0 L1387.0,3462.2 L1388.0,3462.3 L1389.0,3462.4 L1390.0,3462.6 L1391.0,3462.7 L1392.0,3462.9 L1393.0,3463.0 L1394.0,3463.1 L1395.0,3463.3 L1396.0,3463.4 L1397.0,3463.6 L1398.0,3463.7 L1399.0,3463.8 L1400.0,3464.0 L1401.0,3464.1 L1402.0,3464.3 L1403.0,3464.5 L1404.0,3464.6 L1405.0,3464.8 L1406.0,3465.0 L1407.0,3465.1 L1408.0,3465.3 L1409.0,3465.5 L1410.0,3465.6 L1411.0,3465.8 L1412.0,3466.0" stroke="#000" stroke-width="2.25"/>
<path d="M233.7,3151.9 L234.7,3151.9 L235.7,3151.9 L236.7,3151.9 L237.7,3151.9 L238.7,3151.9 L239.7,3151.9 L240.7,3151.9 L241.7,3151.9 L242.7,3151.9 L243.7,3152.0 L244.7,3152.0 L245.7,3152.1 L246.7,3152.2 L247.7,3152.3 L248.7,3152.6 L249.7,3152.8 L250.7,3153.2 L251.7,3153.6 L252.7,3154.0 L253.7,3154.5 L254.7,3155.0 L255.7,3155.5 L256.7,3156.0 L257.7,3156.6 L258.7,3157.2 L259.7,3157.7 L260.7,3158.3 L261.7,3158.8 L262.7,3159.3 L263.7,3159.8 L264.7,3160.3 L265.7,3160.9 L266.7,3161.4 L267.7,3161.9 L268.7,3162.4 L269.7,3162.9 L270.7,3163.5 L271.7,3164.0 L272.7,3164.6 L273.7,3165.1 L274.7,3165.7 L275.7,3166.3 L276.7,3166.8 L277.7,3167.4 L278.7,3168.0 L279.7,3168.6 L280.7,3169.3 L281.7,3169.9 L282.7,3170.5 L283.7,3171.2 L284.7,3171.8 L285.7,3172.5 L286.7,3173.2 L287.7,3173.9 L288.7,3174.6 L289.7,3175.3 L290.7,3176.1 L291.7,3176.8 L292.7,3177.6 L293.7,3178.5 L294.7,3179.3 L295.7,3180.2 L296.7,3181.1 L297.7,3182.0 L298.7,3183.0 L299.7,3183.9 L300.7,3184.9 L301.7,3186.0 L302.7,3187.0 L303.7,3188.0 L304.7,3189.1 L305.7,3190.1 L306.7,3191.2 L307.7,3192.3 L308.7,3193.3 L309.7,3194.4 L310.7,3195.5 L311.7,3196.6 L312.7,3197.7 L313.7,3198.8 L314.7,3199.9 L315.7,3201.0 L316.7,3202.1 L317.7,3203.3 L318.7,3204.4 L319.7,3205.6 L320.7,3206.7 L321.7,3207.9 L322.7,3209.1 L323.7,3210.3 L324.7,3211.5 L325.7,3212.7 L326.7,3213.9 L327.7,3215.2 L328.7,3216.4 L329.7,3217.7 L330.7,3218.9 L331.7,3220.2 L332.7,3221.5 L333.7,3222.8 L334.7,3224.1 L335.7,3225.4 L336.7,3226.7 L337.7,3228.0 L338.7,3229.3 L339.7,3230.6 L340.7,3232.0 L341.7,3233.3 L342.7,3234.7 L343.7,3236.0 L344.7,3237.4 L345.7,3238.8 L346.7,3240.2 L347.7,3241.6 L348.7,3243.0 L349.7,3244.5 L350.7,3245.9 L351.7,3247.4 L352.7,3248.8 L353.7,3250.3 L354.7,3251.8 L355.7,3253.3 L356.7,3254.8 L357.7,3256.3 L358.7,3257.9 L359.7,3259.4 L360.7,3261.0 L361.7,3262.6 L362.7,3264.2 L363.7,3265.8 L364.7,3267.4 L365.7,3269.0 L366.7,3270.6 L367.7,3272.2 L368.7,3273.8 L369.7,3275.4 L370.7,3277.0 L371.7,3278.5 L372.7,3280.1 L373.7,3281.6 L374.7,3283.1 L375.7,3284.6 L376.7,3286.1 L377.7,3287.5 L378.7,3289.0 L379.7,3290.4 L380.7,3291.8 L381.7,3293.1 L382.7,3294.4 L383.7,3295.7 L384.7,3296.9 L385.7,3298.1 L386.7,3299.2 L387.7,3300.3 L388.7,3301.3 L389.7,3302.3 L390.7,3303.3 L391.7,3304.3 L392.7,3305.2 L393.7,3306.1 L394.7,3306.9 L395.7,3307.7 L396.7,3308.5 L397.7,3309.3 L398.7,3310.0 L399.7,3310.8 L400.7,3311.4 L401.7,3312.1 L402.7,3312.7 L403.7,3313.3 L404.7,3313.9 L405.7,3314.5 L406.7,3315.0 L407.7,3315.5 L408.7,3316.0 L409.7,3316.5 L410.7,3317.0 L411.7,3317.5 L412.7,3317.9 L413.7,3318.3 L414.7,3318.7 L415.7,3319.1 L416.7,3319.5 L417.7,3319.9 L418.7,3320.3 L419.7,3320.7 L420.7,3321.1 L421.7,3321.5 L422.7,3321.9 L423.7,3322.3 L424.7,3322.7 L425.7,3323.1 L426.7,3323.5 L427.7,3323.9 L428.7,3324.3 L429.7,3324.7 L430.7,3325.1 L431.7,3325.5 L432.7,3325.9 L433.7,3326.3 L434.7,3326.7 L435.7,3327.1 L436.7,3327.5 L437.7,3327.9 L438.7,3328.3 L439.7,3328.7 L440.7,3329.1 L441.7,3329.5 L442.7,3329.9 L443.7,3330.2 L444.7,3330.4 L445.7,3330.7 L446.7,3330.8 L447.7,3330.9 L448.7,3331.0 L449.7,3331.0 L450.7,3331.1 L451.7,3331.1 L452.7,3331.0 L453.7,3331.0 L454.7,3330.9 L455.7,3330.7 L456.7,3330.5 L457.7,3330.3 L458.7,3329.9 L459.7,3329.5 L460.7,3329.1 L461.7,3328.6 L462.7,3328.0 L463.7,3327.4 L464.7,3326.7 L465.7,3326.0 L466.7,3325.2 L467.7,3324.4 L468.7,3323.5 L469.7,3322.5 L470.7,3321.5 L471.7,3320.5 L472.7,3319.3 L473.7,3318.1 L474.7,3316.8 L475.7,3315.5 L476.7,3314.1 L477.7,3312.6 L478.7,3311.1 L479.7,3309.5 L480.7,3307.9 L481.7,3306.2 L482.7,3304.4 L483.7,3302.6 L484.7,3300.7 L485.7,3298.8 L486.7,3296.7 L487.7,3294.7 L488.7,3292.5 L489.7,3290.3 L490.7,3288.0 L491.7,3285.7 L492.7,3283.3 L493.7,3280.9 L494.7,3278.3 L495.7,3275.8 L496.7,3273.1 L497.7,3270.4 L498.7,3267.6 L499.7,3264.7 L500.7,3261.7 L501.7,3258.6 L502.7,3255.4 L503.7,3252.2 L504.7,3248.9 L505.7,3245.7 L506.7,3242.5 L507.7,3239.4 L508.7,3236.4 L509.7,3233.5 L510.7,3230.6 L511.7,3227.7 L512.7,3224.7 L513.7,3221.6 L514.7,3218.3 L515.7,3214.8 L516.7,3211.2 L517.7,3207.5 L518.7,3203.7 L519.7,3199.8 L520.7,3196.0 L521.7,3192.2 L522.7,3188.4 L523.7,3184.6 L524.7,3180.8 L525.7,3176.9 L526.7,3173.1 L527.7,3169.2 L528.7,3165.3 L529.7,3161.4 L530.7,3157.4 L531.7,3153.4 L532.7,3149.3 L533.7,3145.2 L534.7,3141.0 L535.7,3136.7 L536.7,3132.4 L537.7,3128.0 L538.7,3123.6 L539.7,3119.1 L540.7,3114.4 L541.7,3109.8 L542.7,3105.0 L543.7,3100.1 L544.7,3095.2 L545.7,3090.2 L546.7,3085.2 L547.7,3080.0 L548.7,3074.8 L549.7,3069.6 L550.7,3064.2 L551.7,3058.7 L552.7,3053.1 L553.7,3047.4 L554.7,3041.7 L555.7,3035.9 L556.7,3030.0 L557.7,3024.2 L558.7,3018.4 L559.7,3012.6 L560.7,3006.8 L561.7,3001.0 L562.7,2995.1 L563.7,2989.1 L564.7,2983.1 L565.7,2977.0 L566.7,2970.9 L567.7,2964.9 L568.7,2958.8 L569.7,2952.7 L570.7,2946.6 L571.7,2940.5 L572.7,2934.4 L573.7,2928.2 L574.7,2921.9 L575.7,2915.6 L576.7,2909.4 L577.7,2903.2 L578.7,2897.0 L579.7,2890.9 L580.7,2884.9 L581.7,2878.9 L582.7,2872.8 L583.7,2866.7 L584.7,2860.4 L585.7,2854.1 L586.7,2847.7 L587.7,2841.2 L588.7,2834.7 L589.7,2828.4 L590.7,2822.4 L591.7,2816.5 L592.7,2810.4 L593.7,2803.8 L594.7,2796.6 L595.0,2794.6 L596.2,2787.1 L598.4,2776.4 L600.7,2764.0 L602.9,2751.6 L605.1,2739.1 L607.3,2726.7 L609.1,2716.0 L611.3,2705.4 L613.5,2696.5 L615.8,2689.4 L618.0,2683.2 L619.8,2678.3 L622.0,2676.1 L623.7,2678.3 L625.1,2681.0 L626.4,2675.2 L627.3,2668.1 L628.6,2666.0 L631.3,2666.0 L633.5,2663.7 L636.0,2661.0 L638.0,2664.1 L639.7,2667.6 L642.0,2669.9 L643.7,2674.3 L645.1,2680.5 L645.9,2689.4 L647.7,2695.6 L649.9,2699.6 L652.2,2697.0 L655.3,2698.3 L656.6,2707.2 L657.9,2716.0 L660.2,2724.9 L662.4,2733.8 L664.2,2742.7 L665.9,2751.6 L667.7,2760.5 L669.5,2769.3 L671.3,2778.2 L673.5,2787.1 L675.1,2795.0 L676.1,2800.5 L677.1,2805.4 L678.1,2810.2 L679.1,2815.0 L680.1,2819.9 L681.1,2824.9 L682.1,2830.2 L683.1,2835.6 L684.1,2841.1 L685.1,2846.7 L686.1,2852.4 L687.1,2858.1 L688.1,2863.7 L689.1,2869.2 L690.1,2874.7 L691.1,2880.2 L692.1,2885.6 L693.1,2890.9 L694.1,2896.1 L695.1,2901.3 L696.1,2906.4 L697.1,2911.4 L698.1,2916.4 L699.1,2921.3 L700.1,2926.2 L701.1,2931.0 L702.1,2935.7 L703.1,2940.3 L704.1,2944.9 L705.1,2949.5 L706.1,2954.0 L707.1,2958.5 L708.1,2963.0 L709.1,2967.5 L710.1,2971.8 L711.1,2976.2 L712.1,2980.5 L713.1,2984.7 L714.1,2988.8 L715.1,2993.0 L716.1,2997.0 L717.1,3001.1 L718.1,3005.1 L719.1,3009.0 L720.1,3013.0 L721.1,3016.9 L722.1,3020.8 L723.1,3024.7 L724.1,3028.5 L725.1,3032.2 L726.1,3035.9 L727.1,3039.5 L728.1,3043.0 L729.1,3046.4 L730.1,3049.8 L731.1,3053.1 L732.1,3056.4 L733.1,3059.5 L734.1,3062.7 L735.1,3065.7 L736.1,3068.8 L737.1,3071.8 L738.1,3074.7 L739.1,3077.6 L740.1,3080.5 L741.1,3083.3 L742.1,3086.0 L743.1,3088.8 L744.1,3091.5 L745.1,3094.1 L746.1,3096.7 L747.1,3099.2 L748.1,3101.8 L749.1,3104.3 L750.1,3106.8 L751.1,3109.4 L752.1,3112.0 L753.1,3114.6 L754.1,3117.2 L755.1,3119.8 L756.1,3122.3 L757.1,3124.9 L758.1,3127.3 L759.1,3129.7 L760.1,3132.0 L761.1,3134.3 L762.1,3136.5 L763.1,3138.7 L764.1,3140.9 L765.1,3143.0 L766.1,3145.0 L767.1,3147.1 L768.1,3149.1 L769.1,3151.0 L770.1,3153.0 L771.1,3154.9 L772.1,3156.7 L773.1,3158.6 L774.1,3160.4 L775.1,3162.2 L776.1,3163.9 L777.1,3165.7 L778.1,3167.4 L779.1,3169.1 L780.1,3170.7 L781.1,3172.4 L782.1,3174.0 L783.1,3175.6 L784.1,3177.2 L785.1,3178.8 L786.1,3180.4 L787.1,3182.0 L788.1,3183.6 L789.1,3185.2 L790.1,3186.8 L791.1,3188.4 L792.1,3190.0 L793.1,3191.5 L794.1,3193.0 L795.1,3194.5 L796.1,3195.9 L797.1,3197.2 L798.1,3198.4 L799.1,3199.6 L800.1,3200.7 L801.1,3201.8 L802.1,3202.9 L803.1,3204.1 L804.1,3205.4 L805.1,3206.7 L806.1,3208.2 L807.1,3209.8 L808.1,3211.5 L809.1,3213.1 L810.1,3214.7 L811.1,3216.1 L812.1,3217.4 L813.1,3218.5 L814.1,3219.5 L815.1,3220.4 L816.1,3221.2 L817.1,3222.0 L818.1,3222.8 L819.1,3223.6 L820.1,3224.5 L821.1,3225.4 L822.1,3226.4 L823.1,3227.4 L824.1,3228.4 L825.1,3229.5 L826.1,3230.5 L827.1,3231.6 L828.1,3232.8 L829.1,3233.9 L830.1,3235.0 L831.1,3236.1 L832.1,3237.2 L833.1,3238.2 L834.1,3239.3 L835.1,3240.4 L836.1,3241.4 L837.1,3242.4 L838.1,3243.5 L839.1,3244.5 L840.1,3245.5 L841.1,3246.5 L842.1,3247.5 L843.1,3248.5 L844.1,3249.5 L845.1,3250.5 L846.1,3251.5 L847.1,3252.5 L848.1,3253.5 L849.1,3254.5 L850.1,3255.4 L851.1,3256.4 L852.1,3257.3 L853.1,3258.3 L854.1,3259.2 L855.1,3260.1 L856.1,3261.1 L857.1,3262.0 L858.1,3262.9 L859.1,3263.8 L860.1,3264.7 L861.1,3265.6 L862.1,3266.5 L863.1,3267.4 L864.1,3268.2 L865.1,3269.1 L866.1,3269.9 L867.1,3270.8 L868.1,3271.6 L868.9,3272.3 L869.8,3278.5 L870.6,3281.2 L870.8,3281.6 L871.8,3282.9 L872.9,3283.6 L873.4,3283.7 L873.9,3283.6 L874.9,3282.7 L875.9,3281.5 L876.9,3280.4 L877.7,3280.1 L877.9,3280.1 L878.9,3280.1 L880.0,3280.2 L881.0,3280.4 L882.0,3280.6 L883.0,3281.0 L884.0,3281.5 L885.0,3282.2 L886.0,3283.0 L887.1,3284.0 L888.1,3285.2 L889.1,3286.6 L890.1,3288.3 L891.1,3289.1 L892.1,3289.8 L893.1,3290.6 L894.1,3291.3 L895.1,3292.0 L896.1,3292.7 L897.1,3293.4 L898.1,3294.1 L899.1,3294.8 L900.1,3295.5 L901.1,3296.2 L902.1,3296.9 L903.1,3297.5 L904.1,3298.2 L905.1,3298.9 L906.1,3299.5 L907.1,3300.2 L908.1,3300.8 L909.1,3301.4 L910.1,3302.0 L911.1,3302.7 L912.1,3303.3 L913.1,3303.9 L914.1,3304.5 L915.1,3305.0 L916.1,3305.6 L917.1,3306.2 L918.1,3306.8 L919.1,3307.3 L920.1,3307.9 L921.1,3308.5 L922.1,3309.0 L923.1,3309.6 L924.1,3310.2 L925.1,3310.7 L926.1,3311.3 L927.1,3311.9 L928.1,3312.5 L929.1,3313.1 L930.1,3313.6 L931.1,3314.2 L932.1,3314.8 L933.1,3315.4 L934.1,3316.0 L935.1,3316.6 L936.1,3317.2 L937.1,3317.9 L938.1,3318.5 L939.1,3319.1 L940.1,3319.7 L941.1,3320.3 L942.1,3320.9 L943.1,3321.4 L944.1,3322.0 L945.1,3322.6 L946.1,3323.2 L947.1,3323.7 L948.1,3324.3 L949.1,3324.8 L950.1,3325.4 L951.1,3325.9 L952.1,3326.4 L953.1,3326.9 L954.1,3327.4 L955.1,3327.9 L956.1,3328.3 L957.1,3328.8 L958.1,3329.3 L959.1,3329.7 L960.1,3330.2 L961.1,3330.6 L962.1,3331.1 L963.1,3331.5 L964.1,3332.0 L965.1,3332.4 L966.1,3332.9 L967.1,3333.3 L968.1,3333.8 L969.1,3334.2 L970.1,3334.7 L971.1,3335.2 L972.1,3335.7 L973.1,3336.2 L974.1,3336.6 L975.1,3337.1 L976.1,3337.6 L977.1,3338.1 L978.1,3338.6 L979.1,3339.2 L980.1,3339.7 L981.1,3340.2 L982.1,3340.7 L983.1,3341.2 L984.1,3341.7 L985.1,3342.2 L986.1,3342.7 L987.1,3343.2 L988.1,3343.7 L989.1,3344.2 L990.1,3344.7 L991.1,3345.2 L992.1,3345.7 L993.1,3346.2 L994.1,3346.7 L995.1,3347.1 L996.1,3347.6 L997.1,3348.1 L998.1,3348.5 L999.1,3349.0 L1000.1,3349.4 L1001.1,3349.9 L1002.1,3350.3 L1003.1,3350.8 L1004.1,3351.2 L1005.1,3351.7 L1006.1,3352.1 L1007.1,3352.6 L1008.1,3353.0 L1009.1,3353.4 L1010.1,3353.9 L1011.1,3354.3 L1012.1,3354.8 L1013.1,3355.2 L1014.1,3355.6 L1015.1,3356.1 L1016.1,3356.5 L1017.1,3356.9 L1018.1,3357.3 L1019.1,3357.8 L1020.1,3358.2 L1021.1,3358.6 L1022.1,3359.1 L1023.1,3359.5 L1024.1,3359.9 L1025.1,3360.3 L1026.1,3360.7 L1027.1,3361.2 L1028.1,3361.6 L1029.1,3362.0 L1030.1,3362.4 L1031.1,3362.8 L1032.1,3363.2 L1033.1,3363.6 L1034.1,3364.0 L1035.1,3364.4 L1036.1,3364.8 L1037.1,3365.2 L1038.1,3365.6 L1039.1,3366.0 L1040.1,3366.4 L1041.1,3366.8 L1042.1,3367.2 L1043.1,3367.6 L1044.1,3368.0 L1045.1,3368.3 L1046.1,3368.7 L1047.1,3369.1 L1048.1,3369.5 L1049.1,3369.9 L1050.1,3370.2 L1051.1,3370.6 L1052.1,3371.0 L1053.1,3371.3 L1054.1,3371.7 L1055.1,3372.1 L1056.1,3372.4 L1057.1,3372.8 L1058.1,3373.1 L1059.1,3373.5 L1060.1,3373.8 L1061.1,3374.1 L1062.1,3374.5 L1063.1,3374.8 L1064.1,3375.1 L1065.1,3375.4 L1066.1,3375.8 L1067.1,3376.1 L1068.1,3376.4 L1069.1,3376.7 L1070.1,3377.0 L1071.1,3377.4 L1072.1,3377.7 L1073.1,3378.0 L1074.1,3378.4 L1075.1,3378.7 L1076.1,3379.1 L1077.1,3379.4 L1078.1,3379.8 L1079.1,3380.2 L1080.1,3380.6 L1081.1,3381.0 L1082.1,3381.4 L1083.1,3381.8 L1084.1,3382.2 L1085.1,3382.6 L1086.1,3383.1 L1087.1,3383.5 L1088.1,3384.0 L1089.1,3384.4 L1090.1,3384.9 L1091.1,3385.3 L1092.1,3385.8 L1093.1,3386.3 L1094.1,3386.7 L1095.1,3387.2 L1096.1,3387.7 L1097.1,3388.2 L1098.1,3388.7 L1099.1,3389.2 L1100.1,3389.7 L1101.1,3390.2 L1102.1,3390.7 L1103.1,3391.2 L1104.1,3391.6 L1105.1,3392.1 L1106.1,3392.5 L1107.1,3393.0 L1108.1,3393.4 L1109.1,3393.8 L1110.1,3394.2 L1111.1,3394.6 L1112.1,3395.0 L1113.1,3395.5 L1114.1,3395.9 L1115.1,3396.3 L1116.1,3396.7 L1117.1,3397.2 L1118.1,3397.6 L1119.1,3398.1 L1120.1,3398.6 L1121.1,3399.1 L1122.1,3399.7 L1123.1,3400.2 L1124.1,3400.8 L1125.1,3401.4 L1126.1,3401.9 L1127.1,3402.4 L1128.1,3402.7 L1129.1,3402.9 L1130.1,3403.0 L1131.1,3403.0 L1132.1,3402.9 L1133.1,3402.7 L1134.1,3402.5 L1135.1,3402.3 L1136.1,3402.2 L1137.1,3402.2 L1138.1,3402.3 L1139.1,3402.5 L1140.1,3402.7 L1141.1,3402.9 L1142.1,3403.2 L1143.1,3403.5 L1144.1,3403.8 L1145.1,3404.1 L1146.1,3404.5 L1147.1,3404.8 L1148.1,3405.1 L1149.1,3405.4 L1150.1,3405.7 L1151.1,3406.0 L1152.1,3406.3 L1153.1,3406.5 L1154.1,3406.8 L1155.1,3407.1 L1156.1,3407.3 L1157.1,3407.6 L1158.1,3407.8 L1159.1,3408.1 L1160.1,3408.4 L1161.1,3408.6 L1162.1,3408.9 L1163.1,3409.1 L1164.1,3409.4 L1165.1,3409.7 L1166.1,3409.9 L1167.1,3410.2 L1168.1,3410.5 L1169.1,3410.8 L1170.1,3411.1 L1171.1,3411.3 L1172.1,3411.6 L1173.1,3411.9 L1174.1,3412.2 L1175.1,3412.5 L1176.1,3412.9 L1177.1,3413.2 L1178.1,3413.5 L1179.1,3413.8 L1180.1,3414.1 L1181.1,3414.3 L1182.1,3414.6 L1183.1,3414.9 L1184.1,3415.2 L1185.1,3415.4 L1186.1,3415.7 L1187.1,3415.9 L1188.1,3416.2 L1189.1,3416.4 L1190.1,3416.6 L1191.1,3416.8 L1192.1,3417.0 L1193.1,3417.2 L1194.1,3417.4 L1195.1,3417.6 L1196.1,3417.8 L1197.1,3418.0 L1198.1,3418.2 L1199.1,3418.4 L1200.1,3418.5 L1201.1,3418.7 L1202.1,3418.9 L1203.1,3419.1 L1204.1,3419.2 L1205.1,3419.4 L1206.1,3419.6 L1207.1,3419.8 L1208.1,3419.9 L1209.1,3420.1 L1210.1,3420.3 L1211.1,3420.5 L1212.1,3420.6 L1213.1,3420.8 L1214.1,3421.0 L1215.1,3421.2 L1216.1,3421.4 L1217.1,3421.6 L1218.1,3421.7 L1219.1,3421.9 L1220.1,3422.1 L1221.1,3422.3 L1222.1,3422.5 L1223.1,3422.7 L1224.1,3422.9 L1225.1,3423.1 L1226.1,3423.3 L1227.1,3423.5 L1228.1,3423.7 L1229.1,3423.9 L1230.1,3424.1 L1231.1,3424.2 L1232.1,3424.4 L1233.1,3424.6 L1234.1,3424.8 L1235.1,3425.0 L1236.1,3425.2 L1237.1,3425.4 L1238.1,3425.6 L1239.1,3425.7 L1240.1,3425.9 L1241.1,3426.1 L1242.1,3426.3 L1243.1,3426.4 L1244.1,3426.6 L1245.1,3426.8 L1246.1,3427.0 L1247.1,3427.1 L1248.1,3427.3 L1249.1,3427.5 L1250.1,3427.7 L1251.1,3427.8 L1252.1,3428.0 L1253.1,3428.2 L1254.1,3428.3 L1255.1,3428.5 L1256.1,3428.7 L1257.1,3428.8 L1258.1,3429.0 L1259.1,3429.1 L1260.1,3429.3 L1261.1,3429.5 L1262.1,3429.6 L1263.1,3429.8 L1264.1,3429.9 L1265.1,3430.1 L1266.1,3430.2 L1267.1,3430.4 L1268.1,3430.5 L1269.1,3430.6 L1270.1,3430.8 L1271.1,3430.9 L1272.1,3431.0 L1273.1,3431.2 L1274.1,3431.3 L1275.1,3431.4 L1276.1,3431.5 L1277.1,3431.7 L1278.1,3431.8 L1279.1,3431.9 L1280.1,3432.0 L1281.1,3432.1 L1282.1,3432.2 L1283.1,3432.3 L1284.1,3432.5 L1285.1,3432.6 L1286.1,3432.7 L1287.1,3432.8 L1288.1,3432.9 L1289.1,3433.0 L1290.1,3433.2 L1291.1,3433.3 L1292.1,3433.4 L1293.1,3433.6 L1294.1,3433.7 L1295.1,3433.8 L1296.1,3434.0 L1297.1,3434.1 L1298.1,3434.3 L1299.1,3434.4 L1300.1,3434.6 L1301.1,3434.7 L1302.1,3434.9 L1303.1,3435.0 L1304.1,3435.2 L1305.1,3435.4 L1306.1,3435.5 L1307.1,3435.7 L1308.1,3435.9 L1309.1,3436.1 L1310.1,3436.2 L1311.1,3436.4 L1312.1,3436.6 L1313.1,3436.8 L1314.1,3436.9 L1315.1,3437.1 L1316.1,3437.3 L1317.0,3437.3 L1318.0,3437.4 L1319.0,3437.5 L1320.0,3437.7 L1321.0,3438.0 L1322.0,3438.3 L1323.0,3438.6 L1324.0,3439.0 L1325.0,3439.5 L1325.4,3439.7 L1326.0,3440.3 L1327.0,3442.3 L1328.0,3445.1 L1329.0,3448.3 L1329.5,3449.8 L1330.0,3451.8 L1331.0,3457.0 L1332.0,3461.6 L1332.9,3463.3 L1333.0,3463.2 L1334.0,3455.9 L1335.0,3445.7 L1335.6,3443.1 L1336.0,3442.6 L1337.0,3441.7 L1338.0,3441.1 L1339.1,3440.7 L1339.6,3440.7 L1340.1,3440.7 L1341.1,3440.7 L1342.1,3440.8 L1343.1,3440.8 L1344.1,3440.9 L1345.1,3441.0 L1346.1,3441.1 L1347.1,3441.3 L1348.1,3441.4 L1349.1,3441.6 L1350.1,3441.7 L1351.1,3441.9 L1352.1,3442.1 L1353.1,3442.3 L1354.1,3442.5 L1355.1,3442.7 L1356.1,3442.9 L1357.1,3443.0 L1358.1,3443.2 L1359.1,3443.4 L1360.1,3443.6 L1361.1,3443.8 L1362.1,3443.9 L1363.1,3444.1 L1363.2,3444.1 L1364.1,3444.2 L1365.1,3444.4 L1366.1,3444.5 L1367.1,3444.7 L1368.1,3444.8 L1369.1,3445.0 L1370.1,3445.1 L1371.1,3445.3 L1372.1,3445.4 L1373.1,3445.6 L1374.1,3445.7 L1375.1,3445.9 L1376.1,3446.0 L1377.1,3446.2 L1378.1,3446.4 L1379.1,3446.5 L1380.1,3446.7 L1381.1,3446.8 L1382.1,3447.0 L1383.2,3447.1 L1384.2,3447.2 L1385.2,3447.4 L1386.2,3447.5 L1387.2,3447.7 L1388.2,3447.8 L1389.2,3448.0 L1390.2,3448.1 L1390.2,3448.1 L1391.2,3448.2 L1392.2,3448.4 L1393.2,3448.5 L1394.2,3448.6 L1395.2,3448.8 L1396.2,3448.9 L1397.2,3449.0 L1398.2,3449.2 L1399.2,3449.3 L1400.2,3449.4 L1401.2,3449.6 L1402.2,3449.7 L1403.2,3449.8 L1404.2,3449.9 L1405.2,3450.1 L1406.2,3450.2 L1407.2,3450.3 L1408.2,3450.4 L1409.2,3450.6 L1410.2,3450.7 L1411.2,3450.8 L1412.2,3450.9 L1413.2,3451.0 L1414.2,3451.2 L1415.2,3451.3 L1416.2,3451.4 L1417.2,3451.5 L1417.2,3451.5 L1418.2,3451.6 L1419.2,3451.7 L1420.2,3451.8 L1421.2,3452.0 L1422.2,3452.1 L1423.2,3452.2 L1424.2,3452.3 L1425.2,3452.4 L1426.2,3452.5 L1427.3,3452.6 L1428.3,3452.7 L1429.3,3452.9 L1430.3,3453.0 L1431.3,3453.1 L1432.3,3453.2 L1433.3,3453.3 L1434.3,3453.4 L1435.3,3453.5 L1436.3,3453.6 L1437.3,3453.7 L1438.3,3453.8 L1439.3,3453.9 L1440.3,3454.0 L1441.3,3454.1 L1442.3,3454.2 L1443.3,3454.3 L1444.3,3454.4 L1445.3,3454.5 L1446.3,3454.6 L1447.3,3454.7 L1448.3,3454.8 L1449.3,3454.9" stroke="#f00" stroke-width="2.25"/>
</g>
<g class="axes"><rect x="231.00" y="2573.00" width="5" height="895.00"/><rect x="231.00" y="3464.00" width="1221.00" height="4"/><rect x="366.11" y="3466.00" width="5" height="19.50"/><rect x="636.33" y="3466.00" width="5" height="19.50"/><rect x="906.56" y="3466.00" width="5" height="19.50"/><rect x="1176.78" y="3466.00" width="5" height="19.50"/><rect x="1447.00" y="3466.00" width="5" height="19.50"/><rect x="231.00" y="3466.00" width="5" height="10.50"/><rect x="501.22" y="3466.00" width="5" height="10.50"/><rect x="771.44" y="3466.00" width="5" height="10.50"/><rect x="1041.67" y="3466.00" width="5" height="10.50"/><rect x="1311.89" y="3466.00" width="5" height="10.50"/><rect x="214.00" y="3464.00" width="19.50" height="4.0"/><rect x="214.00" y="3285.40" width="19.50" height="5.0"/><rect x="214.00" y="3107.30" width="19.50" height="5.0"/><rect x="214.00" y="2929.20" width="19.50" height="5.0"/><rect x="214.00" y="2751.10" width="19.50" height="5.0"/><rect x="214.00" y="2573.00" width="19.50" height="5.0"/><rect x="222.50" y="3374.45" width="11.00" height="5"/><rect x="222.50" y="3196.35" width="11.00" height="5"/><rect x="222.50" y="3018.25" width="11.00" height="5"/><rect x="222.50" y="2840.15" width="11.00" height="5"/><rect x="222.50" y="2662.05" width="11.00" height="5"/></g>
<text class="lbl" x="204.6" y="3479.2" font-size="52.6" text-anchor="end">0.0</text>
<text class="lbl" x="204.6" y="3301.1" font-size="52.6" text-anchor="end">0.5</text>
<text class="lbl" x="204.6" y="3123" font-size="52.6" text-anchor="end">1.0</text>
<text class="lbl" x="204.6" y="2944.9" font-size="52.6" text-anchor="end">1.5</text>
<text class="lbl" x="204.6" y="2766.8" font-size="52.6" text-anchor="end">2.0</text>
<text class="lbl" x="204.6" y="2588.7" font-size="52.6" text-anchor="end">2.5</text>
<text class="lbl" x="368.6" y="3535.2" font-size="52.3" text-anchor="middle">300</text>
<text class="lbl" x="638.8" y="3535.2" font-size="52.3" text-anchor="middle">400</text>
<text class="lbl" x="909.1" y="3535.2" font-size="52.3" text-anchor="middle">500</text>
<text class="lbl" x="1179.3" y="3535.2" font-size="52.3" text-anchor="middle">600</text>
<text class="lbl" x="1449.5" y="3535.2" font-size="52.3" text-anchor="middle">700</text>
<text class="lbl" x="323.3" y="2544" font-size="74.2">Fruit extract</text>
<text class="lbl" x="1487" y="3249" font-size="88">c)</text>
<text class="lbl" x="839.8" y="3630.5" font-size="61.6" text-anchor="middle">Wavelength (nm)</text>
<text class="lbl" transform="translate(97.6,3055.3) rotate(-90) scale(1 1.04)" font-size="52.5" text-anchor="middle">O.D.</text>
<rect class="key" x="969" y="2572" width="119" height="2" fill="#000"/>
<text class="lbl" x="1101.6" y="2590.6" font-size="52.6">Before photoreduction</text>
<rect class="key" x="969" y="2637" width="119" height="2" fill="#f00"/>
<text class="lbl" x="1100.4" y="2655.6" font-size="52.6">After PR</text>
<g id="arrow" shape-rendering="crispEdges"><path d="M740.4,2957 L903,2909.2" stroke="#000" stroke-width="2.4" fill="none"/><path d="M922.6,2903 L896.8,2903.8 L900.6,2916.6 Z" fill="#000"/></g>
</g>
</svg>
</body>
</html>
